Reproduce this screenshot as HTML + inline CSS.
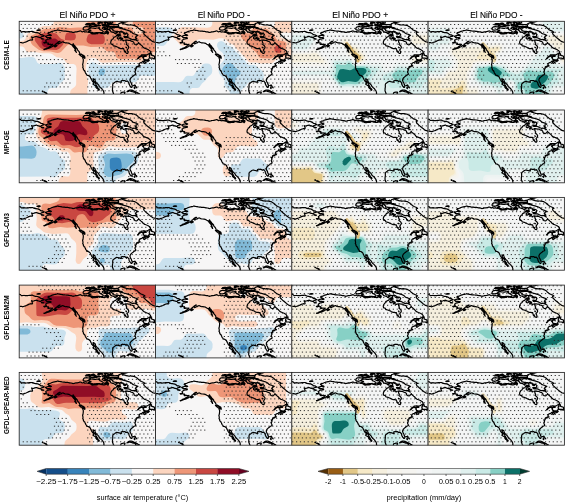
<!DOCTYPE html>
<html><head><meta charset="utf-8"><style>
html,body{margin:0;padding:0;background:#fff;width:567px;height:504px;overflow:hidden}
svg text{font-family:"Liberation Sans",sans-serif;fill:#000}
svg{will-change:transform}
</style></head><body>
<svg width="567" height="504" viewBox="0 0 567 504" style="position:absolute;left:0;top:0">
<defs>
<clipPath id="pc"><rect x="0" y="0" width="136.3" height="72.8"/></clipPath>
<g id="coast"><path d="M26.2 15.0 26.7 14.8 27.3 14.7 28.1 14.3 28.7 14.1 29.2 14.0 29.7 13.9 30.1 13.9 30.7 14.3 31.4 14.4 32.2 14.0 31.8 13.8 31.5 13.5 31.0 13.4 30.5 13.3 30.2 13.0 29.8 12.7 29.4 12.5 29.0 12.2 28.7 12.0 29.3 11.3 29.8 11.2 30.3 11.2 30.8 11.1 31.3 10.8 31.8 10.6 32.3 10.3 32.8 10.1 33.3 10.0 33.8 9.8 34.2 9.7 34.7 9.6 35.1 9.4 35.6 9.4 36.0 9.3 36.5 9.2 36.9 9.2 37.6 8.9 38.2 8.6 38.6 8.7 39.0 8.8 39.4 8.9 39.8 9.0 40.2 9.1 40.6 9.1 41.0 9.2 41.4 9.2 41.8 9.2 42.2 9.4 42.6 9.5 42.9 9.6 43.3 9.6 43.7 9.7 44.1 9.7 44.6 9.8 45.0 9.8 45.4 9.8 45.8 9.9 46.2 9.9 46.6 9.9 47.0 9.9 47.4 10.0 47.8 10.0 48.2 10.0 48.6 10.0 49.0 10.1 49.4 10.2 49.8 10.3 50.2 10.4 50.6 10.5 51.0 10.5 51.4 10.6 51.9 10.6 52.3 10.6 52.7 10.8 53.1 10.9 53.5 11.1 53.9 11.2 54.3 11.1 54.7 11.0 55.2 10.9 55.6 10.8 56.0 10.6 56.5 10.5 56.9 10.5 57.3 10.5 57.7 10.5 58.1 10.4 58.6 10.3 59.0 10.2 59.4 10.1 59.9 10.0 60.3 9.8 60.7 9.7 61.1 9.6 61.5 9.7 61.9 9.9 62.3 10.1 62.7 10.4 63.1 10.6 63.6 10.4 64.0 10.2 64.4 10.0 64.8 10.2 65.2 10.5 65.6 10.8 66.1 10.7 66.5 10.6 66.9 10.6 67.3 10.5 67.7 10.6 68.2 10.7 68.6 10.8 69.0 10.9 69.4 11.0 69.8 11.1 70.3 11.1 70.7 11.2 71.1 11.3 71.5 11.7 72.0 12.0 72.4 12.4 72.8 12.5 73.3 12.5 73.7 12.6 74.1 12.6 74.5 12.6 75.0 12.6 75.4 12.5 75.8 12.5 76.2 12.5 76.7 12.4 77.1 12.4 77.5 12.4 77.9 12.3 78.4 12.3 78.7 11.9 79.1 11.5 79.5 11.6 80.0 11.6 80.4 11.7 80.8 11.7 81.3 11.9 81.7 12.0 82.1 12.1 82.6 12.2 83.0 12.2 83.5 12.3 83.9 12.4 84.3 12.4 84.8 12.5 85.2 12.5 85.6 12.3 86.0 12.2 86.4 12.0 86.8 11.9 87.2 11.8 87.6 11.7 88.1 12.2 88.7 12.7 89.1 12.2 89.3 11.6 89.5 11.0 89.0 10.5 88.5 10.1 88.0 9.6 87.4 9.0 87.8 8.6 88.1 8.3 88.6 8.2 89.0 8.1 89.6 8.4 90.2 8.7 90.8 9.2 91.3 9.7 91.9 10.5 92.4 10.6 92.8 10.8 93.3 10.9 93.7 11.0 94.2 11.2 94.7 11.3 95.1 11.5 95.8 12.2 96.3 12.5 96.8 12.7 96.8 12.2 96.9 11.7 96.9 11.2 97.0 10.6 97.4 10.5 97.7 10.4 98.1 10.2 98.5 10.3 99.0 10.3 99.4 10.4 99.8 10.4 100.3 11.0 100.8 11.6 100.8 12.3 100.7 13.0 101.4 13.9 101.0 14.0 100.6 14.1 100.2 14.2 99.8 14.3 99.4 14.3 98.9 14.2 98.4 14.1 98.0 14.1 97.5 14.0 97.2 14.4 96.8 14.9 96.3 15.4 95.9 15.5 95.4 15.7 95.0 16.0 94.6 16.2 94.3 16.5 94.0 17.4 93.6 17.7 93.2 17.9 92.8 18.1 92.5 18.7 92.2 19.2 91.9 19.7 91.7 20.1 91.6 20.8 91.5 21.6 91.7 22.2 91.9 22.8 92.5 22.9 93.2 23.0 93.6 23.5 93.9 24.0 94.3 24.5 94.9 24.6 95.5 24.8 96.1 24.9 96.6 25.1 97.1 25.3 97.6 25.5 98.2 25.7 98.7 26.0 99.3 26.4 99.8 26.6 100.3 26.8 100.8 27.1 101.4 27.3 101.9 27.3 102.4 27.3 102.9 27.3 103.5 27.4 104.0 27.4 104.5 27.4 104.7 28.1 105.0 28.9 105.1 29.5 105.2 30.1 106.1 30.7 106.7 31.4 107.4 32.1 108.3 32.2 108.8 31.5 108.8 30.9 108.7 30.2 108.3 29.4 107.9 28.6 108.3 28.2 108.6 27.7 109.0 27.3 109.3 26.6 109.6 25.9 109.3 25.3 109.0 24.7 108.5 24.2 107.9 23.6 107.1 23.0 107.4 22.5 107.6 21.9 107.2 21.3 106.8 20.6 106.8 19.7 106.0 18.7 106.4 18.7 106.9 18.7 107.4 18.7 107.9 18.8 108.3 18.8 108.8 18.9 109.3 19.0 109.7 19.0 110.2 19.0 110.7 19.1 111.2 19.3 111.7 19.6 112.3 19.9 112.8 20.1 113.3 20.2 113.9 20.4 114.7 21.3 114.8 21.9 114.9 22.5 115.9 23.2 116.5 23.4 117.1 23.6 117.6 23.3 118.1 23.0 118.4 22.7 118.7 22.4 118.9 22.0 119.2 21.6 119.4 21.2 119.9 22.2 120.6 22.7 121.3 23.2 121.8 23.7 122.3 24.1 122.9 24.6 123.4 25.2 123.9 25.9 124.6 26.4 125.3 26.9 126.0 27.1 126.8 27.4 127.4 27.6 128.0 27.9 128.6 28.1 129.2 28.5 129.8 28.9 130.4 29.2 130.9 29.9 131.4 30.6 131.2 31.2 130.9 31.9 130.2 32.1 129.8 32.4 129.4 32.6 129.0 32.9 128.6 33.1 128.2 33.3 127.7 33.5 127.3 33.6 126.8 33.6 126.3 33.6 125.8 33.6 125.2 33.5 124.7 33.5 124.2 33.5 123.8 33.6 123.3 33.6 122.8 33.6 122.3 33.6 122.0 34.0 121.6 34.4 121.3 34.8 120.7 35.0 120.1 35.3 119.7 35.8 119.3 36.3 119.0 36.7 118.6 37.1 118.3 37.6 118.7 37.4 119.2 37.2 119.5 36.8 119.8 36.4 120.1 36.0 120.6 35.7 121.2 35.4 121.7 35.0 122.2 35.0 122.7 34.9 123.2 34.9 123.8 35.1 124.5 35.3 124.4 36.3 123.5 36.4 124.4 36.9 124.6 37.7 125.1 38.6 125.8 38.8 126.4 39.1 126.9 39.1 127.4 39.2 128.0 39.2 128.9 39.5 128.9 38.7 129.2 37.8 129.9 38.7 130.1 39.1 129.6 39.5 129.2 39.9 128.7 40.0 128.2 40.2 127.8 40.4 127.3 40.6 126.8 40.9 126.4 41.2 126.0 41.5 125.6 41.9 125.1 42.2 124.3 41.4 124.6 40.9 124.9 40.4 125.7 39.9 126.3 39.7 125.7 39.6 125.2 39.5 124.3 39.9 123.8 40.0 123.3 40.1 123.0 40.8 122.4 41.0 121.7 41.2 121.3 41.4 120.8 41.7 120.2 42.1 119.9 43.0 120.1 43.3 119.7 43.7 120.4 44.4 120.9 44.4 121.0 44.6 120.4 44.8 119.5 44.8 119.0 44.9 118.4 45.0 117.9 45.3 117.4 45.5 117.0 46.1 117.2 46.7 116.8 47.6 116.5 48.1 115.7 47.4 116.3 48.5 116.4 49.3 116.0 50.0 115.7 50.6 116.1 51.5 116.5 52.4 116.6 53.0 116.1 53.3 115.6 53.6 115.1 53.8 114.6 54.0 114.1 54.7 113.6 55.0 113.1 55.3 112.6 55.8 112.1 56.2 111.4 57.0 110.9 58.0 110.8 59.2 111.3 60.4 111.7 61.1 112.1 61.8 112.4 63.0 113.0 64.1 113.0 65.2 112.7 66.0 112.0 66.1 111.6 65.5 111.0 65.0 110.6 64.2 110.0 63.1 109.8 62.4 109.7 61.3 109.2 60.9 108.8 60.4 108.5 59.9 107.8 59.7 107.0 60.1 106.6 60.1 106.1 59.5 105.3 59.2 104.7 59.3 104.2 59.4 103.6 59.2 103.1 59.2 102.5 59.4 102.0 59.5 102.0 60.4 102.4 60.9 101.7 60.7 101.0 60.9 100.0 60.5 98.9 60.3 98.3 60.1 97.6 60.0 96.9 60.3 96.3 60.5 95.4 61.3 94.9 61.6 94.4 62.0 93.7 62.6 93.5 63.7 93.5 64.3 93.6 65.0 93.5 66.0 93.3 67.1 93.3 68.0 93.2 68.9 93.3 69.8 93.8 71.0 94.0 71.8 94.5 72.8 95.0 73.5M100.6 74.1 101.5 73.3 101.6 72.7 101.7 72.0 101.8 71.4 102.7 71.1 103.3 71.0 103.8 70.8 104.4 70.8 105.0 70.8 105.5 70.7 105.8 71.4 105.4 72.1 105.1 72.9 104.9 73.7M85.2 73.5 84.9 72.9 84.6 72.3 84.8 71.8 84.6 70.8 84.3 69.8 83.9 69.2 83.5 68.6 83.0 68.0 82.6 67.4 82.1 67.0 81.7 66.5 81.1 66.1 80.6 65.6 80.0 65.0 79.8 64.4 79.5 63.8 78.7 62.9 78.2 62.5 77.7 62.0 77.3 61.6 76.6 60.7 76.1 59.5 75.7 58.4 74.8 57.8 73.9 57.4 74.0 58.4 74.4 59.6 74.8 60.1 75.3 60.7 75.7 61.2 76.1 61.7 76.4 62.3 76.6 62.9 77.2 63.9 77.8 65.0 78.2 65.7 78.6 66.5 79.1 67.3 79.8 67.6 80.1 68.5 79.6 69.0 79.1 68.2 78.3 67.4 77.5 66.9 77.0 66.3 76.9 65.2 76.2 64.3 75.4 63.9 74.5 63.3 73.7 62.7 74.6 62.1 74.5 61.2 74.0 60.7 73.5 60.3 72.8 59.2 72.2 58.2 71.8 57.3 71.3 56.5 71.1 55.7 70.5 55.0 69.9 54.8 69.8 54.5 68.9 54.1 68.3 54.0 67.6 53.9 67.4 53.0 66.6 52.2 66.1 51.1 66.0 50.6 65.5 49.8 65.5 49.4 64.9 49.3 64.6 48.7 64.2 48.1 64.1 47.0 63.5 46.2 63.8 45.4 63.7 44.4 63.6 43.7 63.4 43.1 63.8 41.9 63.9 41.1 64.0 40.3 64.1 39.5 64.1 38.7 64.0 37.7 63.7 37.1 63.5 36.5 63.4 35.9 64.2 36.2 65.0 36.3 65.3 36.4 65.6 37.1 65.7 36.0 65.4 35.1 64.9 34.5 64.2 34.0 63.7 33.8 63.2 33.5 62.6 33.1 61.7 32.7 60.8 32.6 60.5 31.9 60.2 31.0 59.7 30.1 59.2 29.6 58.8 29.1 58.2 28.5 58.1 27.6 57.6 27.0 57.0 26.3 56.4 25.7 55.9 24.9 55.3 24.2 54.6 23.6 54.3 23.0 54.0 22.4 53.7 23.2 52.9 23.6 52.6 23.7 51.8 23.2 51.3 22.9 50.9 22.6 50.4 22.3 49.9 22.0 49.4 21.9 48.9 21.8 48.3 21.7 47.6 21.6 47.2 21.6 46.7 21.6 46.2 21.6 45.7 21.4 45.3 21.2 44.5 21.0 43.9 20.5 43.4 20.6 42.9 20.7 42.2 21.0 41.7 21.6 41.0 21.6 40.5 21.9 40.0 22.3 39.5 22.4 39.0 22.5 38.6 22.0 39.2 21.0 39.7 20.7 40.3 20.4 41.0 20.0 40.1 20.0 39.6 20.3 39.1 20.6 38.3 21.3 37.6 22.0 36.7 22.6 36.2 23.2 35.3 23.9 34.7 24.2 34.2 24.5 33.7 24.8 33.2 25.2 32.6 25.5 31.9 25.8 31.0 26.4 30.4 26.6 29.8 26.8 29.1 27.0 28.5 27.1 28.0 27.4 27.4 27.6 26.8 27.8 26.2 28.0 25.6 28.2 24.9 28.4 24.7 28.1 25.4 27.9 26.1 27.6 26.9 27.1 27.6 26.7 28.3 26.5 28.9 26.3 29.5 26.0 30.0 25.7 30.7 25.2 31.3 24.8 31.8 24.5 32.3 24.2 33.0 23.6 33.5 23.0 33.0 23.1 32.5 23.2 31.8 23.1 31.2 22.9 30.4 23.0 29.6 23.2 29.1 23.2 28.7 23.2 29.3 22.3 29.0 21.6 28.4 21.7 27.9 21.8 27.3 21.3 26.6 21.0 27.1 20.1 26.6 19.7 26.6 19.0 27.5 18.5 28.0 17.9 28.5 17.8 28.9 17.8 29.4 17.7 29.9 17.6 30.4 17.4 31.0 17.4 31.6 17.4 31.9 16.9 31.6 16.4 31.1 16.4 30.6 16.4 30.2 16.3 29.8 16.2 29.1 16.2 28.5 16.3 27.9 16.2 27.4 16.2 27.1 15.6 26.6 15.3 26.2 15.0M102.6 1.7 103.1 1.9 103.7 2.2 104.1 2.3 104.5 2.4 105.0 2.5 105.4 2.7 105.9 2.8 106.4 3.0 106.9 3.2 107.3 3.3 107.8 3.4 108.2 3.5 108.6 3.5 109.1 3.6 109.5 3.7 109.9 3.7 110.2 3.7 110.6 3.7 111.0 3.6 111.4 3.6 111.7 3.6 112.2 3.7 112.6 3.7 113.0 3.8 113.4 3.8 113.8 3.9 114.3 4.0 114.8 4.1 115.2 4.2 115.7 4.3 116.3 4.7 117.0 5.1 117.7 5.5 118.3 5.9 118.7 6.4 119.1 6.9 119.7 7.3 120.3 7.7 120.8 8.2 121.3 8.7 121.9 8.9 122.4 9.1 123.0 9.3 123.5 9.6 124.1 9.8 124.7 10.1 125.2 10.5 125.8 10.9 125.4 11.0 124.9 11.1 124.5 11.2 124.5 12.0 124.8 12.6 125.0 13.2 125.6 13.7 126.2 14.2 127.1 15.1 127.7 15.6 128.3 16.2 129.0 16.7 129.6 17.2 130.2 17.7 130.9 18.3 131.6 18.8 132.3 19.4 133.1 19.9 133.8 20.4 134.5 20.6 135.1 20.7 135.7 20.9 136.3 21.1 136.8 21.3 137.4 21.5 138.0 21.6 138.6 21.8M102.6 1.7 102.9 1.5 103.2 1.4 103.5 1.3 103.8 1.2 104.1 1.2 104.4 1.1 104.8 1.0 105.1 1.0 105.4 0.9 105.7 0.8 106.1 0.8 106.4 0.7 106.7 0.7 107.0 0.6 107.3 0.5 107.6 0.4 107.9 0.3 108.2 0.2 108.4 0.0 108.7 -0.1 108.9 -0.3M-6.5 7.9 -6.1 8.0 -5.8 8.1 -5.4 8.1 -5.1 8.2 -4.7 8.3 -4.4 8.3 -4.0 8.4 -3.7 8.5 -3.3 8.5 -2.9 8.6 -2.6 8.6 -2.2 8.7 -1.8 8.7 -1.5 8.8 -1.1 8.9 -0.7 8.9 -0.4 9.0 -0.1 9.1 0.3 9.2 0.6 9.3 1.0 9.4 1.3 9.4 1.5 9.7 1.7 10.0 2.0 10.3 2.2 10.5 2.6 10.5 3.1 10.5 3.5 10.4 4.0 10.4 4.4 10.4 4.8 10.3 5.2 10.4 5.6 10.4 6.0 10.5 6.3 10.6 6.7 10.6 7.2 10.6 7.6 10.6 8.0 10.5 8.5 10.5 8.9 10.4 9.4 10.4 9.8 10.3 10.3 10.3 10.7 10.3 11.2 10.2 11.6 10.2 12.0 10.2 12.4 10.1 12.9 10.1 13.3 10.1 13.6 10.3 14.0 10.4 14.3 10.6 14.6 10.7 14.9 10.9 15.3 11.0 15.7 11.1 16.0 11.2 16.4 11.3 16.8 11.3 17.2 11.3 17.6 11.4 18.0 11.4 18.4 11.4 18.8 11.6 19.1 11.7 19.5 11.8 19.8 12.0 20.2 12.2 20.5 12.4 20.8 12.6 21.1 12.9 21.4 13.1 21.7 13.4 22.1 13.5 22.6 13.5 23.0 13.5 23.4 13.5 23.7 13.8 24.0 14.1 24.5 14.3 25.0 14.4 24.1 15.0 23.6 15.1 23.1 15.2 22.6 15.4 22.1 15.5 21.5 16.3 20.9 16.4 20.5 16.2 20.1 16.1 19.7 15.9 19.3 15.9 18.9 15.8 18.5 15.7 18.2 15.5 17.8 15.3 17.5 15.1 17.0 15.2 16.5 15.3 16.0 15.4 15.5 15.5 15.0 15.7 14.4 15.9 14.0 16.0 13.5 16.0 13.1 16.0 12.7 15.8 12.4 15.6 12.6 16.1 12.8 16.6 13.0 17.1 13.2 17.6 13.4 18.0 13.1 18.8 12.7 18.8 12.3 18.7 11.8 18.6 11.3 18.7 10.8 18.9 10.2 19.0 9.7 19.2 9.1 19.5 8.5 19.8 7.9 20.1 7.3 20.4 6.8 20.6 6.2 20.8 5.6 21.0 5.0 21.2 4.4 21.4 3.7 21.7 3.2 21.6 2.7 21.4 2.2 21.3 1.8 21.3 1.4 21.2 0.9 21.2M37.8 24.5 37.3 24.1 36.8 23.9 36.2 24.2 35.5 24.6 35.2 25.2 35.8 25.6 36.8 25.1 37.3 24.8 37.8 24.5ZM26.4 21.2 26.0 21.1 25.6 21.1 25.1 21.2 24.6 21.3 25.1 21.8 25.6 21.7 26.1 21.6 26.4 21.2ZM24.6 17.7 24.1 17.6 23.5 17.4 23.1 17.4 22.6 17.3 22.1 17.2 22.4 17.7 22.8 17.7 23.3 17.8 23.8 17.9 24.6 17.7ZM64.7 35.9 64.1 35.8 63.6 35.7 63.1 35.5 62.6 35.3 62.1 35.0 61.6 34.6 61.2 34.2 60.7 33.8 60.3 33.4 59.9 33.1 60.7 32.9 61.3 33.1 61.8 33.3 62.4 33.5 62.9 33.8 63.6 34.4 64.1 34.8 64.6 35.3 64.7 35.9ZM57.2 31.1 56.6 30.4 56.1 29.6 55.5 28.8 56.0 28.8 56.5 28.9 56.7 29.7 56.9 30.4 57.2 31.1ZM56.5 27.9 56.0 27.5 55.4 27.1 55.0 26.4 54.3 25.8 53.9 25.3 53.5 24.8 53.1 24.0 53.6 24.0 54.0 24.0 54.5 24.5 54.9 24.9 55.3 25.4 55.8 25.8 56.2 26.7 56.4 27.3 56.5 27.9ZM23.1 69.9 23.7 69.9 23.7 70.3 23.2 70.3 23.1 69.9ZM24.8 70.8 25.5 70.6 25.5 71.1 25.0 71.1 24.8 70.8ZM25.9 71.2 26.6 71.2 26.5 71.4 25.9 71.4 25.9 71.2ZM26.5 71.6 27.3 71.5 27.4 71.9 26.8 72.0 26.5 71.6ZM27.4 72.5 28.3 72.9 28.6 73.5 28.0 73.7 27.3 74.0 27.4 73.2 27.4 72.5ZM75.3 2.3 74.9 2.4 74.5 2.4 74.2 2.4 73.8 2.5 73.4 2.5 73.0 2.5 72.6 2.3 72.3 2.1 72.6 2.1 73.0 2.0 73.4 1.9 73.7 1.9 74.1 1.8 74.5 1.7 74.9 2.0 75.3 2.3ZM80.5 2.3 80.1 2.4 79.8 2.5 79.4 2.5 79.1 2.6 78.6 2.1 79.0 2.1 79.3 2.0 79.7 2.0 80.1 1.9 80.5 2.3ZM82.0 0.9 81.7 1.0 81.3 1.0 81.0 1.1 80.6 1.1 80.3 1.2 79.9 1.2 79.6 1.3 79.1 1.0 78.7 0.7 79.1 0.7 79.4 0.6 79.8 0.6 80.1 0.6 80.5 0.5 80.8 0.5 81.2 0.4 81.6 0.7 82.0 0.9ZM76.9 3.4 76.5 3.4 76.2 3.5 75.8 3.5 75.4 3.6 75.0 3.6 74.6 3.1 75.0 3.1 75.4 3.1 75.7 3.1 76.1 3.0 76.5 3.0 76.9 3.4ZM86.6 2.8 86.3 2.9 85.9 2.9 85.6 3.0 85.8 2.5 86.2 2.7 86.6 2.8ZM90.5 2.9 90.1 2.9 89.7 2.9 89.3 3.0 89.0 3.0 88.6 3.0 88.2 3.0 87.8 3.0 88.1 2.7 88.4 2.4 88.8 2.5 89.2 2.6 89.6 2.7 90.0 2.8 90.5 2.9ZM87.4 4.2 87.0 4.2 86.6 4.1 86.2 4.1 85.9 4.1 85.5 4.0 85.8 3.8 86.1 3.6 86.4 3.4 86.9 3.8 87.4 4.2ZM81.3 4.2 80.9 4.3 80.5 4.5 80.2 4.6 79.7 3.9 80.1 4.0 80.5 4.1 80.9 4.1 81.3 4.2ZM80.6 6.9 80.1 6.8 79.7 6.8 79.3 6.7 78.9 6.7 79.3 6.5 79.7 6.4 80.1 6.3 80.6 6.9ZM96.5 11.7 96.8 11.4 97.1 11.0 97.4 10.6 98.1 11.4 97.7 11.5 97.3 11.6 96.9 11.7 96.5 11.7ZM103.0 11.0 102.5 10.8 102.0 10.6 101.5 10.5 101.1 10.3 101.4 10.1 101.8 10.0 102.1 9.8 102.5 10.4 103.0 11.0ZM100.9 13.6 100.5 13.8 100.1 13.9 99.7 14.0 99.3 14.1 98.9 14.2 98.5 13.7 98.2 13.2 98.6 13.1 99.0 13.0 99.4 12.9 99.8 12.9 100.3 13.3 100.9 13.6ZM106.6 12.9 106.2 12.9 105.8 12.9 105.3 12.9 104.9 12.9 104.2 12.1 104.6 12.1 105.0 12.0 105.5 12.0 105.9 12.0 106.6 12.9ZM86.3 7.6 85.9 7.7 85.6 7.8 85.2 7.9 85.4 7.1 85.9 7.4 86.3 7.6ZM91.1 9.0 90.7 8.8 90.2 8.7 89.8 8.5 90.1 8.2 90.4 7.9 90.8 8.5 91.1 9.0ZM75.0 12.4 74.5 12.5 74.1 12.6 73.7 12.7 73.3 12.7 72.8 12.1 73.2 12.0 73.7 12.0 74.1 11.9 74.5 11.9 75.0 12.4ZM78.7 12.0 78.3 12.1 77.9 12.1 77.5 12.2 77.1 12.3 77.4 11.6 77.9 11.7 78.3 11.9 78.7 12.0ZM17.8 9.0 18.5 8.7 19.2 8.5 19.6 8.5 20.0 8.5 20.4 8.5 20.7 8.6 21.1 8.8 20.6 8.9 20.1 9.0 19.6 9.1 19.2 9.1 18.7 9.1 18.3 9.0 17.8 9.0ZM107.8 70.4 108.3 70.0 108.9 69.5 109.4 69.2 110.0 68.9 110.6 68.7 111.4 68.7 112.2 68.8 112.8 68.9 113.4 69.0 113.9 69.3 114.5 69.5 115.2 69.9 115.9 70.2 116.9 70.7 117.6 71.0 118.3 71.4 118.9 71.8 119.6 72.1 120.3 72.5 119.8 72.8 119.3 72.9 118.7 72.9 118.1 72.9 117.5 73.0 116.8 73.0 116.2 73.0 116.7 71.9 116.2 71.5 115.7 71.2 115.2 70.8 114.6 70.8 114.0 70.7 113.4 70.5 112.8 70.3 112.1 70.1 111.4 69.9 110.8 69.7 110.2 69.4 109.7 69.8 109.2 70.2 108.5 70.3 107.8 70.4ZM115.5 67.3 115.8 66.7 115.2 66.0 115.0 66.8 115.5 67.3ZM114.2 64.2 114.8 64.1 115.3 64.1 115.0 64.3 114.2 64.2ZM116.2 65.0 116.2 64.2 115.6 63.7 115.9 64.4 116.2 65.0ZM116.8 65.7 117.6 66.5 117.3 65.6 116.8 65.7ZM130.0 36.9 130.2 36.4 130.5 35.8 130.0 35.0 130.2 34.4 130.4 33.8 130.8 33.0 131.2 32.6 131.6 32.2 131.9 31.9 132.5 32.9 132.2 33.8 133.0 34.1 133.5 34.3 134.1 34.4 134.7 34.6 135.3 34.9 135.4 35.8 136.0 36.4 136.7 36.9 136.7 38.1 135.8 37.7 135.2 36.7 134.9 37.2 134.7 37.7 133.6 36.9 132.9 36.9 132.3 36.9 131.6 36.9 131.0 36.9 130.5 36.9 130.0 36.9ZM124.5 34.9 125.0 34.8 125.5 34.8 126.1 34.7 126.6 34.6 127.0 35.0 126.4 35.1 125.8 35.1 125.2 35.1 124.5 34.9ZM125.6 38.2 126.2 38.4 126.8 38.6 127.3 38.5 127.8 38.5 127.3 38.6 126.8 38.7 126.3 38.8 125.6 38.2ZM117.0 45.9 117.5 45.8 118.0 45.7 118.6 45.6 119.1 45.5 119.1 45.3 118.6 45.3 118.0 45.4 117.5 45.4 117.0 45.9ZM103.6 17.2 103.1 17.0 102.6 16.8 102.1 16.6 101.4 16.2 100.7 15.8 100.2 15.7 99.6 15.6 99.1 15.5 98.6 15.7 98.1 15.9 98.1 16.5 98.1 17.1 98.6 17.4 99.1 17.8 99.5 17.6 99.9 17.4 100.2 17.2 100.6 17.0 101.0 16.9 101.5 17.0 102.0 17.2 102.5 17.3 103.0 17.3 103.6 17.2ZM103.3 18.5 102.8 18.6 102.3 18.7 101.8 18.7 101.3 18.8 101.7 18.5 102.0 18.3 102.6 18.4 103.3 18.5ZM104.9 19.3 104.5 19.4 104.0 19.5 104.3 19.0 104.9 19.3ZM107.3 26.2 106.6 25.9 107.1 26.4 107.3 26.2ZM106.5 30.1 105.6 29.9 106.1 30.4 106.5 30.1ZM118.4 19.7 117.5 19.2 116.9 18.9 116.4 18.6 115.8 18.4 115.3 18.2 114.8 18.0 114.4 18.3 114.0 18.3 113.5 18.3 113.1 18.3 112.5 18.0 112.0 17.8 111.5 17.6 110.9 17.2 110.3 16.9 109.8 16.7 109.3 16.5 108.8 16.4 108.4 16.4 107.9 16.4 107.5 16.4 106.9 16.4 106.4 16.5 105.8 16.3 105.2 16.2 104.7 15.1 105.5 15.1 106.0 15.2 106.6 15.3 107.1 15.4 107.5 15.3 107.9 15.2 108.3 15.1 108.4 14.6 108.4 14.0 108.6 13.6 108.9 13.2 108.4 12.7 107.8 12.2 107.4 12.1 106.9 12.0 106.5 12.0 105.9 11.8 105.4 11.6 104.8 11.4 104.2 11.0 103.7 10.6 103.2 10.5 102.7 10.3 102.2 10.1 101.8 10.2 101.5 10.3 101.1 10.4 100.7 10.4 100.3 10.5 99.8 10.4 99.4 10.3 98.9 10.2 98.5 10.1 98.0 10.1 97.5 10.0 97.0 10.0 96.5 10.0 96.0 9.9 95.6 9.8 95.1 9.8 94.6 9.6 94.1 9.4 93.7 9.2 93.9 8.5 93.3 8.1 92.8 7.8 92.3 7.4 92.5 7.0 92.7 6.6 93.1 6.6 93.6 6.6 94.0 6.6 94.4 6.6 94.9 6.6 95.2 6.4 95.6 6.3 95.9 6.2 96.3 6.2 96.7 6.2 97.1 6.2 97.5 6.2 97.9 6.2 98.3 6.2 98.7 6.2 99.1 6.2 99.5 6.2 100.0 6.5 100.5 6.8 101.1 7.1 101.5 7.2 101.9 7.3 102.4 7.3 102.8 7.4 103.3 7.5 103.7 7.7 104.2 7.8 104.6 7.9 105.1 8.1 105.5 8.2 106.0 8.3 106.5 8.4 106.9 8.5 107.4 8.7 107.9 8.8 108.4 9.0 108.9 9.1 109.3 9.3 109.8 9.4 110.3 9.6 110.8 9.8 111.4 10.1 112.0 10.5 112.6 10.9 113.0 11.4 113.5 12.0 114.0 12.2 114.5 12.4 115.0 12.6 115.6 12.7 116.1 12.9 116.6 13.1 117.1 13.3 117.6 13.5 118.2 13.8 118.7 14.0 118.4 14.2 118.0 14.4 117.7 14.6 117.4 14.7 117.0 14.9 116.7 15.1 116.9 15.7 116.6 15.9 116.2 16.2 117.2 17.0 117.8 17.7 117.3 17.7 116.9 17.7 116.4 17.7 116.8 18.6 117.4 19.0 117.9 19.3 118.4 19.7ZM103.4 6.9 103.0 6.9 102.6 7.0 102.2 7.0 101.9 7.1 101.4 7.0 100.9 6.8 100.5 6.7 100.0 6.5 99.6 6.4 99.9 6.2 100.2 6.1 100.6 6.1 101.1 6.2 101.5 6.2 101.9 6.3 102.4 6.5 102.9 6.7 103.4 6.9ZM83.7 11.3 83.3 11.3 82.9 11.3 82.5 11.4 82.0 11.4 81.6 11.4 81.2 11.4 80.8 11.4 80.4 11.3 79.9 11.3 79.5 11.3 79.1 11.2 78.7 11.2 78.2 11.2 77.8 11.3 77.4 11.3 77.0 11.4 76.6 11.4 76.2 11.5 75.7 11.5 75.3 11.5 74.9 11.6 74.5 11.6 74.1 11.6 73.6 11.5 73.2 11.3 72.8 11.1 72.3 11.0 71.8 10.8 71.3 10.7 70.8 10.5 70.3 10.4 69.9 10.2 69.4 10.0 69.8 9.8 70.2 9.6 70.6 9.4 71.0 9.3 71.4 9.2 71.8 9.0 71.4 8.9 71.0 8.9 70.6 8.8 70.2 8.7 69.7 8.4 69.1 8.2 69.5 7.7 69.9 7.3 70.4 7.2 70.8 7.0 71.3 6.9 71.7 6.7 72.1 6.6 72.5 6.6 72.9 6.7 73.3 6.7 73.7 6.8 74.1 6.8 74.6 6.9 75.0 6.9 75.4 7.0 75.8 7.0 76.2 7.1 76.6 7.0 76.9 6.8 77.3 6.7 77.7 6.7 78.1 6.7 78.5 6.7 78.9 6.8 79.4 7.0 79.8 7.1 80.3 7.7 80.8 8.3 81.2 8.5 81.6 8.6 82.1 8.8 82.5 9.0 83.0 9.3 83.4 9.6 83.9 9.9 84.1 10.5 83.7 11.3ZM68.2 8.5 67.7 8.6 67.3 8.7 66.9 8.8 66.5 8.9 66.0 8.8 65.6 8.8 65.1 8.7 64.7 8.4 64.3 8.2 63.9 7.9 64.0 7.3 64.2 6.7 64.7 6.1 65.4 5.5 65.8 5.5 66.2 5.5 66.6 5.4 67.0 5.4 67.4 5.3 67.8 5.4 68.2 5.4 68.5 5.5 68.9 5.5 69.3 5.6 69.7 5.6 70.1 5.8 70.5 5.9 70.9 6.1 71.3 6.2 71.7 6.4 71.3 6.6 70.9 6.8 70.6 7.0 70.2 7.2 69.7 7.5 69.2 7.8 68.7 8.2 68.2 8.5ZM80.1 4.4 79.8 4.5 79.4 4.5 79.0 4.6 78.6 4.6 78.3 4.7 77.9 4.8 77.5 4.9 77.1 5.0 76.7 5.0 76.4 5.1 76.0 5.1 75.6 5.2 75.2 5.2 74.8 5.2 74.4 5.2 74.0 5.2 73.6 5.2 73.2 5.2 72.8 5.2 72.5 5.1 72.1 5.1 71.7 5.0 71.3 4.8 70.9 4.7 70.5 4.6 70.1 4.4 70.5 4.1 70.8 3.7 71.2 3.4 71.6 3.4 72.0 3.5 72.3 3.5 72.7 3.5 73.1 3.6 73.5 3.6 73.9 3.6 74.3 3.7 74.7 3.8 75.1 3.9 75.5 4.0 75.9 4.1 76.2 4.0 76.6 3.9 77.0 3.8 77.4 3.8 77.7 3.8 78.1 3.9 78.5 3.9 78.9 3.9 79.3 4.1 79.7 4.2 80.1 4.4ZM71.5 2.5 71.2 2.7 70.8 2.9 70.4 3.1 70.1 3.3 69.7 3.4 69.3 3.4 68.9 3.5 68.5 3.5 68.2 3.6 67.8 3.6 67.4 3.5 67.0 3.5 66.6 3.4 66.2 3.4 66.6 3.1 67.0 2.7 67.4 2.4 67.8 2.4 68.2 2.4 68.5 2.3 68.9 2.3 69.3 2.3 69.6 2.2 70.0 2.3 70.4 2.3 70.8 2.4 71.2 2.5 71.5 2.5ZM86.8 8.2 86.5 8.2 86.1 8.3 85.7 8.4 85.2 8.2 84.8 8.0 84.3 7.8 83.9 7.6 83.4 7.3 83.0 6.9 83.3 6.6 83.6 6.3 84.0 6.1 84.4 6.0 84.8 6.0 85.2 6.0 85.5 6.0 86.0 6.2 86.5 6.4 86.9 6.7 86.9 7.4 86.8 8.2ZM89.6 7.9 89.2 7.7 88.7 7.5 88.3 7.3 87.8 7.1 87.9 6.6 87.9 6.1 88.3 6.0 88.7 5.9 89.1 5.9 89.5 5.8 89.8 5.7 90.3 5.9 90.8 6.0 91.2 6.1 91.7 6.2 91.5 6.5 91.3 6.8 91.0 7.1 90.7 7.3 90.3 7.5 90.0 7.7 89.6 7.9ZM88.4 11.3 87.9 11.2 87.5 11.1 87.0 11.1 86.6 11.0 86.2 10.9 85.8 10.9 85.3 10.9 85.7 10.7 86.1 10.5 86.5 10.4 86.9 10.2 87.4 10.3 87.9 10.4 88.4 10.6 88.8 10.9 88.4 11.3ZM99.5 5.3 99.1 5.3 98.7 5.3 98.3 5.3 97.9 5.3 97.6 5.3 97.2 5.3 96.8 5.3 96.4 5.3 96.0 5.3 95.6 5.3 95.2 5.3 94.8 5.3 94.4 5.3 94.0 5.3 93.6 5.3 93.2 5.3 92.8 5.3 92.4 5.3 92.0 5.2 91.6 5.2 91.2 5.2 90.8 5.2 90.4 5.1 90.0 4.9 89.5 4.6 89.0 4.3 89.3 3.9 89.5 3.5 89.9 3.5 90.3 3.4 90.6 3.4 91.0 3.3 91.3 3.3 91.7 3.2 92.1 3.2 92.5 3.2 92.9 3.3 93.2 3.3 93.6 3.3 94.0 3.3 94.4 3.3 94.8 3.3 95.2 3.4 95.6 3.4 96.0 3.4 96.3 3.4 96.7 3.4 97.1 3.4 97.5 3.5 97.9 3.5 98.3 3.5 98.8 3.8 99.3 4.0 99.4 4.7 99.5 5.3ZM88.9 5.2 88.5 5.2 88.1 5.1 87.7 5.1 87.3 5.0 86.9 5.0 86.5 4.9 86.7 4.2 87.1 4.2 87.4 4.2 87.8 4.2 88.2 4.2 88.6 4.7 88.9 5.2ZM85.7 4.8 85.3 4.7 84.8 4.7 84.4 4.6 84.0 4.5 83.6 4.4 83.2 4.3 82.7 3.5 83.0 3.5 83.4 3.4 83.8 3.4 84.1 3.3 84.5 3.3 84.9 3.2 85.3 3.7 85.6 4.1 85.7 4.8ZM98.9 3.2 98.5 3.2 98.2 3.2 97.8 3.3 97.4 3.3 97.1 3.3 96.7 3.3 96.3 3.4 96.0 3.4 95.6 3.4 95.2 3.5 94.9 3.5 94.5 3.5 94.1 3.5 93.7 3.4 93.3 3.4 92.9 3.4 92.5 3.4 92.1 3.3 91.7 3.3 91.1 2.6 91.4 2.4 91.7 2.2 92.0 2.0 92.3 2.0 92.7 1.9 93.0 1.8 93.4 1.7 93.7 1.7 93.0 0.9 93.1 0.4 93.4 0.1 93.6 -0.1 93.9 -0.3 94.2 -0.3 94.6 -0.3 95.0 -0.3 95.3 -0.3 95.7 -0.3 96.0 -0.3 96.4 -0.3 96.7 -0.3 97.1 -0.3 97.5 -0.3 97.8 -0.3 98.2 -0.3 98.5 -0.2 98.9 -0.2 99.3 -0.2 99.7 -0.1 100.1 -0.1 100.4 -0.1 100.8 -0.1 101.2 -0.0 101.6 0.0 101.9 0.0 102.3 0.1 102.7 0.1 103.2 0.4 103.8 0.6 104.3 0.9 104.0 1.0 103.7 1.0 103.3 1.1 103.0 1.1 102.7 1.2 102.3 1.2 102.0 1.3 101.7 1.5 101.5 1.7 101.2 1.8 100.9 1.9 100.6 2.0 100.2 2.1 99.9 2.2 99.7 2.5 99.5 2.8 99.2 3.0 98.9 3.2ZM90.4 1.7 90.0 1.6 89.6 1.5 89.2 1.5 88.8 1.4 88.4 1.4 88.0 1.1 87.5 0.9 87.1 0.7 86.6 0.4 86.1 0.0 85.6 -0.4 86.0 -0.5 86.3 -0.5 86.6 -0.5 87.0 -0.6 87.3 -0.6 87.7 -0.6 88.0 -0.7 88.4 -0.7 88.8 -0.6 89.2 -0.5 89.6 -0.4 90.0 -0.2 90.4 -0.1 90.8 0.0 91.3 0.4 91.8 0.7 91.5 0.9 91.2 1.1 91.0 1.3 90.7 1.5 90.4 1.7ZM83.4 1.9 83.0 1.9 82.6 1.8 82.2 1.8 81.9 1.7 81.5 1.7 81.1 1.6 80.7 1.6 81.0 1.3 81.3 1.0 81.7 1.1 82.1 1.1 82.5 1.2 82.8 1.2 83.2 1.3 83.4 1.9ZM86.7 1.7 86.3 1.7 85.9 1.6 85.5 1.6 85.1 1.5 84.8 1.5 85.0 1.0 85.4 1.1 85.8 1.1 86.2 1.2 86.5 1.3 86.9 1.4 86.7 1.7Z" fill="none" stroke="#000" stroke-width="1.2" stroke-linejoin="round" stroke-linecap="round"/></g>
<path id="strip" d="M55.0 22.4 55.9 23.6 56.6 24.2 57.2 24.9 57.7 25.7 58.3 26.3 58.9 27.0 59.4 27.6 59.5 28.5 60.1 29.1 61.0 30.1 61.5 31.0 61.8 31.9 62.5 32.6 63.9 33.4 65.1 34.1 66.2 34.9 66.6 35.8 66.8 37.1 66.4 38.3 66.0 39.6" fill="none" stroke-width="3.2" stroke-linecap="round" stroke-linejoin="round"/>
</defs>
<g transform="translate(19.2,21.3)"><g clip-path="url(#pc)">
<rect width="136.3" height="72.8" fill="#f7f6f6"/>
<path fill="#fcd5bf" d="M33.9 -5.7l107.7 .0 .0 42.1-7.1-.2-6.4 1.7-5.3 2.7-2.5 .5-5.7-.3-13.4 .0-17.8 .6-2.5-.8-3.2-2.8-1.4-.8-2.8-.4-2.9 .7-1.4 1.0-1.4 2.1-.7 2.4-.4 3.8 .2 6.1 2.0 6.8-.7 7.6 .0 11.4-17.0 .0-.4-6.1 .5-3.0 1.1-1.5 3.3-2.5 .9-1.3 .4-1.5 .0-7.6 .4-7.6-.4-2.3-.8-1.5-1.9-1.0-4.3 .2-1.4-.3-1.4-1.0-2.8-3.5-1.5-1.2-1.4-.4-4.2-.4-4.0-3.0-1.7-.8-2.1-.2-6.4 .0-8.5-1.5-5.7 .4-1.9-.9-2.2-3.8-1.6-1.0-2.8-.3-5.7 .2 .0-5.6 7.1 .1 2.8-.5 1.6-1.3 1.6-4.5 1.1-1.3 6.5-1.8 5.5-4.0 2.2-1.0 2.1-.4 5.7 .0 2.1-.8 1.2-1.3 .4-1.6-.7-6.8z"/>
<path fill="#ee9677" d="M68.1 -5.7l28.5 .0-.2 7.6 .3 1.5 .9 1.6 1.4 .9 1.5 .3 7.0-.2 5.0 .3 .7 .7 .9 3.2 1.1 1.6 1.6 .9 2.1 .3 2.8-.3 1.8-.9 1.0-1.6 .0-2.2-.9-1.6-1.5-.7-6.7-.1-1.4-.7-.4-2.2 .0-8.4 28.0 .0 .0 36.5-5.7-.4-2.1 .3-1.4 .8-3.6 3.1-7.8 3.0-6.4-.3-13.4 .3-2.2-.3-1.4-.8-.7-1.2-.8-3.1-1.3-1.6-1.4-.5-4.3 .1-1.1-.2-1.0-.6-2.9-3.0-2.8-.9-10.0 .1-7.1-1.5-7.1 .1-5.6-1.0-1.5 .0-1.4 .4-1.3 1.0-5.1 5.7-1.4 .9-2.1 .6-2.1-.3-5.0-1.3-7.8-.3-4.3-1.4-6.0-4.6-1.2-1.5-1.9-4.6 .0-1.5 1.1-1.5 5.2-2.5 7.1-4.0 2.1-.7 7.1-.1 7.1-1.7 10.7 1.0 7.8-.7 4.9 .1 2.2-.3 1.5-1.0 1.0-2.2-.1-8.4z"/>
<path fill="#c94741" d="M50.4 11.0l3.2 .3 1.3 .5 1.0 .7 .7 1.5 .0 2.3-.6 1.5-.9 .8-1.5 .4-2.1 .1-5.7-.5-.1-.8 .3-3.0 .8-2.3 1.1-1.0 2.5-.5zM25.0 11.8l2.3-.4 7.1 .2 1.4 .3 1.5 .6 3.5 4.1 1.4 1.0 2.9 1.2 .2 .5-.3 1.6-1.5 3.0-3.4 3.5-2.8 1.3-11.4-.4-2.1-.4-2.1-1.0-1.6-1.5-3.9-5.3-.6-1.5 .0-1.5 1.0-1.6 2.1-1.5 2.2-1.0 4.1-1.2zM70.8 12.5l9.8-.3 2.8 .7 1.4 1.5 .7 1.9 .1 3.0-.7 2.3-1.5 1.0-2.1 .3-9.2 .0-2.9-.9-1.6-1.9-.3-1.5 .2-1.5 1.1-3.1 .7-.7 1.5-.8z"/>
<path fill="#900d26" d="M31.3 17.8l3.8-.7 1.5 .4 1.4 1.0 1.5 1.6 .6 1.5-.4 1.5-1.0 1.2-1.4 .9-1.5 .5-7.8 .4-2.8-.5-1.5-1.0-.9-1.5-.4-1.5 .0-1.5 .6-1.5 2.2-.7 6.1-.1z"/>
<path fill="#cae1ee" d="M-0.3 11.0l2.8 .2 1.4 .9 .6 1.9-.6 1.9-1.4 1.0-1.4 .2-6.4-.4 .0-5.4 5.0-.3zM7.6 36.0l4.8-.3 2.9 .8 .9 1.0 1.9 3.9 2.1 1.3 2.2 .3 11.3-.3 7.1-1.2 2.1 .9 2.2 2.7 .5 1.5 .1 1.6-.3 3.7 .1 3.8-.4 2.4-1.1 1.4-3.2 2.7-2.1 3.2-1.2 1.0-1.7 .4-4.2-.1-1.4 .5-.8 .7-.9 1.5-.3 1.5 .3 7.6-33.8 .0 .0-41.9 7.8 .0 5.1-.6zM72.0 41.3l1.5-.4 1.4 .2 4.6 2.5 3.9 .5 17.8-.5 19.8 .2 2.9-.4 4.2-1.8 1.5-.2 4.9 .9 7.1-.1 .0 12.3-12.0 .1-5.0-.4-2.1 .1-1.5 .7-.7 .7-2.2 3.8-2.0 1.3-2.2 .2-4.9-.4-7.1 .2-7.1-.3-2.2 .9-3.0 4.2-1.9 1.2-2.9 .2-8.5-.4-1.4-.4-1.2-1.4-.3-1.5-.2-6.0-.8-1.6-2.5-2.8-.7-2.0-.1-2.7 .4-3.1 1.1-2.5 1.4-1.3z"/>
<path fill="#81bad8" d="M82.0 47.4l1.4-.1 1.4 .4 .7 .6 .4 1.4-.2 1.5-.9 1.9-.7 .8-1.4 .6-1.4-.1-.7-.4-.9-1.3-.3-1.5 .5-2.4 .7-.8 1.4-.6z"/>
<g transform="translate(-19.2,-21.3)"><path d="M20.74 24.50H72.70M122.27 24.50H154.71M22.69 28.40H66.85M124.22 28.40H152.76M20.74 32.30H60.99M122.27 32.30H154.71M22.69 36.20H27.80M112.51 36.20H152.76M106.65 40.10H154.71M104.70 44.00H152.76M98.84 47.90H154.71M22.69 51.80H35.61M92.98 51.80H152.76M20.74 55.70H41.46M87.12 55.70H154.71M38.31 59.60H66.85M89.08 59.60H152.76M40.26 63.50H68.80M87.12 63.50H154.71M61.74 67.40H70.75M89.08 67.40H152.76M59.79 71.30H68.80M87.12 71.30H154.71M61.74 75.20H70.75M89.08 75.20H152.76M59.79 79.10H68.80M87.12 79.10H154.71M46.12 83.00H70.75M89.08 83.00H152.76M44.17 86.90H68.80M87.12 86.90H154.71M22.69 90.80H39.51M89.08 90.80H152.76" stroke="#262626" stroke-width="0.95" fill="none" stroke-dasharray="1.2 2.672"/></g>
<use href="#coast"/>
</g>
<rect x="0" y="0" width="136.3" height="72.8" fill="none" stroke="#262626" stroke-width="0.85"/>
</g>
<g transform="translate(155.5,21.3)"><g clip-path="url(#pc)">
<rect width="136.3" height="72.8" fill="#f7f6f6"/>
<path fill="#fcd5bf" d="M56.7 -5.7l45.7 .0-.9 6.1 .2 1.5 1.0 1.5 1.3 .8 1.4 .5 5.7 .1 5.7 1.7 1.5-.8 .9-2.3 .1-9.1 22.3 .0 .0 17.4-6.4 .1-7.1-.5-1.4 .3-1.4 .8-.9 1.6 .5 1.5 1.1 .9 7.8 2.2 2.1 .3 5.7-.4 .0 18.0-6.4-.4-6.4 1.7-6.3-.2-2.2 1.0-2.8 2.7-2.1 .8-5.0-.1-4.3 .5-4.9-1.3-6.4 .1-1.4-.6-.8-.7-2.1-3.0-2.9-2.5-2.8-3.5-3.5-3.2-2.9-3.9-4.5-2.3-4.0-3.7-2.8-.9-3.6 .0-5.6 1.5-4.3-.4-9.9-.2-2.2 .8-1.1 1.4-1.7 2.9-2.1 1.3-9.3 .3-2.1-.6-1.1-.9-2.3-3.0-2.8-2.3-.5-1.5 .2-2.3 .7-1.5 4.4-5.4 1.4-.9 2.1-.4 24.2 .6 2.8-.4 1.6-1.1 .9-2.2-.1-8.4z"/>
<path fill="#ee9677" d="M98.5 6.4l1.2-.2 5.0 1.2 5.0 .0 2.1 .5 6.8 5.4 1.9 3.8 1.2 1.4 1.5 .6 4.9 .8 1.9 1.0 .7 .7 .4 1.5-.9 3.8 .7 4.6-.3 1.5-.5 .7-1.3 1.0-1.4 .3-4.9-.2-2.2 .2-4.2 2.0-1.5 .3-8.5-.4-2.4-.9-2.7-4.5-3.5-3.1-7.7-8.2-2.9-2.4-1.5-2.3 .2-2.2 1.4-1.2 2.1-.3 4.3 .4 1.4-.5 1.2-1.5 1.5-3.0 1.0-.8z"/>
<path fill="#c94741" d="M121.4 23.9l2.5-.5 1.3 .5 .4 .7 .2 5.4-.3 .7-.9 .7-2.9 .0-1.4-.5-.9-.9-.4-1.6 .3-2.2 1.0-1.6 1.1-.7z"/>
<path fill="#cae1ee" d="M-5.3 6.4l.0-.4 16.3 .0 2.8 .2 2.2 .5 .7 .5 .7 1.5-2.1 7.7-.7 1.2-2.6 2.5-2.0 3.0-1.8 1.3-2.2 .2-4.9-.4-6.4 .1 .0-17.9zM63.9 20.1l1.8-.3 1.5 .3 1.3 .8 2.8 3.1 4.3 1.3 1.4 .8 3.0 3.9 2.8 2.2 3.1 3.8 3.2 2.9 2.8 4.1 2.2 .8 4.2 .0 2.3 .6 6.2 5.3 .9 1.5 .5 2.3-.1 3.0-.8 2.3-1.2 1.2-1.4 .6-2.1 .4-6.4-.6-2.1 .3-1.7 1.1-2.8 3.8-3.3 2.3-.6 .7-.7 1.5-.2 1.6 .3 6.8-11.3 .0 .7-6.1-.1-1.5-.9-1.5-3.1-3.0-1.2-1.6-.4-1.5 .2-4.5-.5-1.4-3.5-3.2-1.5-2.3-.6-3.7 .5-3.1 .9-1.5 3.5-3.8 .8-1.5 .2-1.5-.4-2.3-.9-2.3-1.1-1.2-3.2-2.6-1.5-3.0-.2-1.5 .2-1.5 1.0-1.5 1.2-.8zM49.9 42.1l1.6 .0 2.1 .4 1.4 .9 .7 .8 .7 1.7 .4 2.3-.1 2.2-.4 1.5-1.1 1.6-3.0 2.5-2.5 3.5-3.2 2.7-2.8 3.9-2.2 .7-4.9 .0-1.7 1.1-.7 1.5-.2 1.5 .1 7.6-39.4 .0 .0-17.8 23.4-.1 5.0 .3 2.1-.2 2.0-1.2 2.3-3.6 1.0-.9 1.8-.5 4.3 .2 1.4-.5 .7-.7 2.1-3.6 3.6-2.7 2.8-4.0 1.4-.8 1.3-.3z"/>
<path fill="#81bad8" d="M72.0 42.1l1.5-.4 1.4 .1 2.1 .9 3.4 3.9 3.7 2.8 .9 1.8-.2 1.5-.4 .8-3.1 2.2-1.3 1.6-.3 1.5-.2 6.0-1.0 1.6-.8 .3-2.1-.6-2.3-2.0-.6-1.5 .2-4.6-.5-2.3-1.1-1.1-3.3-2.7-1.3-2.2 .1-2.3 .7-1.5 2.2-2.3 2.3-1.5z"/>
<g transform="translate(-155.5,-21.3)"><path d="M157.41 24.50H205.47M235.51 24.50H291.38M155.46 28.40H195.71M237.47 28.40H289.43M157.41 32.30H193.76M235.51 32.30H291.38M155.46 36.20H164.47M225.75 36.20H289.43M223.80 40.10H291.38M225.75 44.00H289.43M157.41 47.90H158.61M223.80 47.90H291.38M155.46 51.80H164.47M225.75 51.80H289.43M157.41 55.70H170.33M223.80 55.70H291.38M174.99 59.60H199.62M225.75 59.60H289.43M176.94 63.50H201.57M223.80 63.50H291.38M194.51 67.40H203.52M225.75 67.40H289.43M196.47 71.30H205.47M223.80 71.30H291.38M198.42 75.20H203.52M225.75 75.20H289.43M196.47 79.10H205.47M223.80 79.10H291.38M186.70 83.00H191.81M225.75 83.00H289.43M188.66 86.90H189.85M223.80 86.90H291.38M155.46 90.80H172.28M225.75 90.80H289.43" stroke="#262626" stroke-width="0.95" fill="none" stroke-dasharray="1.2 2.672"/></g>
<use href="#coast"/>
</g>
<rect x="0" y="0" width="136.3" height="72.8" fill="none" stroke="#262626" stroke-width="0.85"/>
</g>
<g transform="translate(291.8,21.3)"><g clip-path="url(#pc)">
<rect width="136.3" height="72.8" fill="#f4f5f5"/>
<path fill="#f0f4f3" d="M-5.3 10.2l22.7-.1 4.3 .6 1.5 1.1 1.1 2.2 .3 3.1-.2 6.8-.6 .9-3.6 1.5-4.0 2.9-2.3 .8-19.2-.1 .0-19.7zM49.1 34.5l3.1-.4 2.2 1.2 4.2 1.5 2.1 1.4 2.8 3.3 2.2 1.0 4.2-.1 8.5-2.3 4.3 .5 6.4 .1 1.3 .6 .8 .8 2.2 4.0 .7 .7 1.4 .5 2.1-.3 1.4-.7 1.4-1.2 2.2-3.2 1.4-.9 1.4-.3 5.0 .0 4.2-.6 5.0 2.5 3.6 .7 18.4-.1 .0 35.3-58.4 .0 .5-6.8-.3-1.6-1.4-1.4-2.1-.4-4.3 .4-5.0-.2-7.1 .4-13.5 .1-2.1-.2-2.1-1.0-2.9-4.3-3.5-3.2-2.1-3.0-1.5-.9-2.1-.2-5.7 .8-33.3-.1 .0-10.7 34.8-.1 6.3 .6 1.5-.7 .7-1.5-.3-6.2 .4-1.5 .6-.8 1.4-.9 2.1-.5 6.9-.1z"/>
<path fill="#edf3f2" d="M-5.3 12.5l.0-.4 22.7-.2 2.1 .3 2.0 1.1 1.0 1.5 .5 3.0-.4 3.8-.8 1.5-.8 .8-5.0 4.2-2.2 .9-2.1 .2-5.0-.3-12.0 .1 .0-16.5zM42.0 36.8l3.1-.3 10.6 .5 2.2 .4 2.1 1.1 3.2 3.6 2.5 1.0 3.5 .0 7.8-1.1 5.0 .6 5.7-.1 2.1 1.1 2.8 4.5 2.2 .8 2.8-.4 2.1-.9 4.3-4.2 2.1-.8 8.5 .0 5.7 1.3 2.9 .3 18.4-.1 .0 34.4-56.5 .0 .3-6.1-.2-2.3-1.1-2.2-1.4-.9-2.1-.5-8.5-.1-7.9 .8-8.5-.1-4.9 .3-2.2-.2-2.1-1.1-2.7-3.5-3.2-3.1-2.6-3.6-2.2-1.1-2.1-.2-8.5 .8-30.5 .0 .0-7.6 29.1 .0 5.7-.3 5.6 .7 2.2-.3 1.4-1.3 .5-1.5 .3-6.0 1.0-1.6 1.5-.7z"/>
<path fill="#e0f0ee" d="M-5.3 14.0l17.0 .1 5.0-.4 2.1 .2 1.4 .7 .8 .9 .4 1.6 .0 2.2-.4 1.6-.8 1.1-2.8 2.5-2.1 2.4-1.5 .9-2.1 .2-5.0-.3-12.0 .0 .0-13.7zM43.3 38.3l2.5-.1 5.7 .7 4.2-.7 2.2 .1 2.1 1.2 2.8 3.2 2.9 1.0 9.9-.4 6.4 1.2 5.0-.4 1.4 .7 .7 .8 1.4 3.4 .7 1.0 2.2 .6 2.8-.4 2.8-.9 2.2-1.2 3.5-3.2 2.1-.7 15.7 .9 19.1 .0 .0 33.4-54.6 .0 .1-6.8-.3-3.1-1.2-2.2-2.2-1.3-10.6-.6-8.6 1.4-7.8-.2-7.1 .4-2.1-1.1-5.1-5.5-3.4-5.1-1.4-1.0-2.2-.5-2.8-.1-7.8 .7-29.8 .0 .0-3.7 29.1 .0 6.4-.4 4.9 .6 2.2-.2 1.4-.7 .9-.9 .8-2.3 .4-5.3 .9-1.5 1.6-.8z"/>
<path fill="#c9eae6" d="M55.2 39.8l1.9-.5 1.5 .3 1.1 1.0 1.9 2.2 1.9 1.2 2.9 .4 6.4-.1 2.8 .2 6.4 2.3 4.3 .3 .5 1.1-.2 .7-2.6 3.8-3.9 3.8-.8 1.5-.3 2.3-.4 .7-.9 .5-5.6 .8-7.1 2.1-9.3-.2-4.2 .6-2.2-.1-2.1-1.3-4.3-4.6-1.7-3.1-.6-3.0 1.0-3.8 .6-6.8 .7-1.3 1.5-.7 2.1 .1 5.0 .9 1.4-.2 2.3-1.1zM105.2 46.6l2.3-.6 5.7 .8 12.1-.6 16.3 .4 .0 14.2-6.4-.2-2.5 .4-1.1 .8-2.0 3.8-.9 .8-1.3 .5-2.1 .0-5.0-.8-6.4 .3-7.1-.3-5.6 .9-2.2-.4-1.4-1.2-2.3-3.6-3.4-2.1-.7-.8-.4-1.6 .2-1.6 .9-1.4 1.0-.8 7.6-3.3 4.7-3.6z"/>
<path fill="#87d0c5" d="M57.0 41.3l1.6 .3 2.1 2.4 2.1 .9 9.3 .3 3.0 .7 1.4 .7 1.8 1.6 1.0 1.5 .1 1.5-.9 1.5-5.1 5.3-4.4 3.0-2.6 1.4-2.9 .6-7.1-.5-4.9 .8-2.2-.1-1.4-.9-3.3-3.5-1.5-2.3-.1-2.3 1.1-3.8 .0-6.0 .5-.8 1.2-.6 4.2 .8 2.9-.1 1.4-.5 2.7-1.9zM122.4 48.2l3.6-.3 2.9 .3 1.5 .7 .5 .8 .0 .7-.9 2.3-4.0 3.3-2.1 4.1-1.4 .9-2.9 .3-6.4-.4-5.7 .3-2.8-.3-1.4-1.2-2.9-5.5 .0-.7 1.2-1.6 4.5-3.0 1.4-.2 4.3 .8 2.8 .0 7.8-1.3z"/>
<path fill="#0c7169" d="M63.8 46.6l7.7 .0 2.1 .8 1.1 1.5 .0 1.5-.9 1.5-3.9 3.7-3.5 4.1-1.4 .7-1.5 .2-7.1-.8-2.1 .3-2.8 .9-1.5 .0-1.4-.7-2.8-3.0-.5-1.6 .3-1.5 1.6-4.7 .7-1.1 .7-.4 2.9-.4 6.4 1.3 1.4-.3 2.8-1.5 1.7-.5z"/>
<path fill="#f5f4f0" d="M122.6 10.2l19.0 .1 .0 16.0-18.4 .1-2.9-.5-1.4-.9-1.1-1.9-.4-2.2-.1-3.8 .4-3.1 .6-1.5 1.3-1.4 3.0-.9zM51.0 16.3l2.6-.6 2.8 .6 1.5 1.3 1.4 3.7 .7 .8 1.4 .5 4.3 .0 1.6 .5 2.9 4.6 3.7 3.0 1.0 1.5 1.0 2.3 .5 2.3-.3 1.5-.6 .8-2.2 1.5-2.7 .9-2.8 .5-2.1-.1-2.2-1.2-3.5-3.9-4.1-2.3-1.1-1.5-.2-5.3-.6-.8-4.0-2.1-.9-1.7-.3-2.2 .3-2.3 .8-1.5 1.1-.8zM19.6 28.4l1.3-.6 1.5-.1 2.1 .4 2.1 .8 1.4 1.1 2.9 3.9 3.6 2.1 1.1 1.5 .9 3.8 .0 2.3-.7 1.1-1.4 .5-6.4-.5-33.3-.1 .0-13.8 19.1 .1 2.9-.8 2.9-1.7zM119.6 34.5l3.6-.6 18.4 .0 .0 8.4-17.0 .3-3.6-.5-2.5-1.5-1.3-2.3 .0-1.5 .3-.8 .7-.7 1.4-.8zM-5.3 58.8l.0-.4 29.1-.1 3.5 .4 2.3 .8 .7 .8 .2 .7-.3 4.6 .0 12.9-35.5 .0 .0-19.7z"/>
<path fill="#f5f3ec" d="M121.6 12.5l3.0-.5 5.0 .3 12.0 .0 .0 12.0-12.0 .0-5.7 .3-2.9-.8-.7-.7-.9-1.5-.5-3.8 .7-3.4 .8-1.1 1.2-.8zM51.7 17.8l1.9-.6 2.1 .5 1.0 .9 1.5 3.8 1.1 1.2 4.9 .7 2.2 1.0 2.8 3.8 2.9 2.5 1.6 2.1 .8 3.1-.4 1.5-.5 .8-1.5 1.1-2.2 .9-2.1 .4-2.1-.3-2.2-1.4-2.8-3.4-4.0-2.7-.7-1.5 .1-4.5-.4-1.3-.7-.7-3.5-1.7-1.1-1.6-.2-1.5 .3-1.6 1.2-1.5zM20.0 30.0l1.7-.4 1.4 .0 2.8 1.1 1.4 1.2 2.8 3.4 3.2 2.2 1.0 1.6 .4 1.5-.1 1.5-.9 1.1-2.1 .3-7.8-.6-29.1-.1 .0-11.0 19.1 .0 2.9-.5 3.3-1.3zM120.8 36.0l3.1-.6 17.7 .1 .0 5.9-17.0 .3-2.7-.4-1.5-.7-1.1-1.5 .1-1.6 1.4-1.5zM-5.3 60.3l.0-.2 23.4 .0 5.0-.2 2.1 .1 1.4 .5 1.3 1.3 .6 2.3-.1 14.4-33.7 .0 .0-18.2z"/>
<path fill="#f5efde" d="M122.8 14.0l1.8-.2 5.0 .5 12.0-.1 .0 8.1-12.0-.1-5.0 .5-2.1-.3-1.5-1.5-.5-3.1 .5-2.3 .7-.9 1.1-.6zM53.4 18.6l1.6 .2 1.1 1.3 .5 2.3-.2 1.0-.4 .5-1.0 .2-1.4-.3-1.2-.7-.6-.7-.3-.8 .1-1.5 .6-.9 1.2-.6zM58.5 25.4l1.5-.2 2.8 .1 1.4 .4 1.5 1.1 2.4 3.2 3.2 2.9 1.2 1.6 .5 2.3-.4 1.5-.6 .8-2.9 1.5-2.0 .2-1.4-.2-1.5-1.0-2.8-3.5-3.3-2.4-1.0-1.5-.2-1.5 .6-3.8 .4-1.0 .6-.5zM19.5 32.2l2.9-.6 2.8 .7 3.6 3.9 3.3 2.9 .3 1.5-.8 .8-2.1 .2-5.7-1.0-29.1 .0 .0-7.6 19.1 .0 3.6-.2 2.1-.6zM122.0 37.5l2.6-.4 5.0 .3 12.0-.1 .0 2.7-12.0-.1-5.7 .4-1.8-.5-.7-.7 .0-.8 .6-.8zM22.0 61.8l1.8-.1 1.4 .5 .7 .5 .7 1.4 .2 2.3-.3 5.3 .1 6.8-31.9 .0 .0-16.3 23.4 .1 3.9-.5z"/>
<path fill="#f6e9c7" d="M59.5 26.9l1.9-.4 2.1 .4 1.5 1.2 2.1 2.9 3.2 2.7 1.0 1.6 .2 1.5-.5 1.5-.8 .8-2.4 .9-2.1-.3-1.5-1.2-2.1-2.9-3.3-2.6-.7-1.5-.1-1.5 .6-2.0 .9-1.1z"/>
<path fill="#e2c787" d="M61.8 29.2l1.0-.1 .7 .3 2.2 2.8 2.9 2.3 .7 1.5-.1 .8-.7 1.1-1.4 .5-1.4-.4-2.8-3.5-2.4-2.3-.3-1.5 .5-.9 1.1-.6z"/>
<use href="#strip" stroke="#d9b66e"/>
<g transform="translate(-291.8,-21.3)"><path d="M294.09 24.50H428.06M292.14 28.40H426.11M294.09 32.30H428.06M292.14 36.20H426.11M294.09 40.10H428.06M292.14 44.00H426.11M294.09 47.90H428.06M292.14 51.80H426.11M294.09 55.70H428.06M292.14 59.60H426.11M294.09 63.50H428.06M292.14 67.40H336.29M366.33 67.40H426.11M294.09 71.30H334.34M368.28 71.30H428.06M292.14 75.20H336.29M366.33 75.20H426.11M294.09 79.10H338.25M368.28 79.10H428.06M292.14 83.00H340.20M358.52 83.00H379.25M397.57 83.00H426.11M294.09 86.90H342.15M352.66 86.90H377.30M399.52 86.90H428.06M292.14 90.80H375.34M401.48 90.80H426.11" stroke="#262626" stroke-width="0.95" fill="none" stroke-dasharray="1.2 2.672"/></g>
<use href="#coast"/>
</g>
<rect x="0" y="0" width="136.3" height="72.8" fill="none" stroke="#262626" stroke-width="0.85"/>
</g>
<g transform="translate(428.1,21.3)"><g clip-path="url(#pc)">
<rect width="136.3" height="72.8" fill="#f4f5f5"/>
<path fill="#f0f4f3" d="M111.8 -5.7l29.8 .0 .0 17.4-19.1 .1-2.2-.3-1.2-.5-2.9-3.0-3.3-2.3-.8-1.5-.5-3.1 .2-6.8zM-5.3 4.2l23.4-.2 2.8 .3 1.5 .6 1.4 1.5 .7 2.3 .0 5.5 .6 4.4-.2 1.5-.7 1.5-1.8 2.4-2.2 1.9-1.4 .6-3.5-.2-1.5 .4-3.5 4.0-2.1 1.1-2.2 .2-4.9-.5-6.4 .1 .0-27.4zM115.0 22.4l1.8 .2 5.3 2.0 1.6 1.6 1.6 2.6 1.1 1.2 4.9 2.2 .7 .8-.1 1.5-1.6 4.6 .4 2.2 1.0 1.1 2.8 .9 7.1-.2 .0 25.5-6.4 .2-4.9-.6-2.3 .4-1.3 1.4-.4 1.7 .5 6.8-43.8 .0-.2-7.6 1.0-5.3-.2-1.5-.9-.9-.7 .1-.7 .6-2.1 3.0-3.2 3.2-.5 2.3 .7 6.1-10.3 .0 .6-6.8-.4-1.6-1.1-1.2-1.5-.6-2.1-.1-4.3 1.2-1.4 .0-2.1-1.5-4.3-4.2-2.1-.8-2.8-.2-.7-.5-.4-1.2-.4-6.8 .3-2.3 3.0-6.8 1.7-1.8 2.9-.8 16.3-.8 6.4-1.7 3.5 .9 1.4 .8 2.9 3.6 2.0 1.3 2.2 .3 7.1-.3 2.2-1.4 2.1-2.5 2.8-2.5 2.3-3.4 3.6-3.1 2.7-3.6 3.1-2.4 1.1-1.5 1.4-3.2 1.1-.6zM-5.3 34.5l7.1-.1 7.8 .5 7.1-1.1 2.1 .2 2.1 1.5 3.6 3.6 1.0 2.2-.2 3.1-.8 1.3-1.1 .9-4.9 2.3-2.6 3.8-2.1 1.5-2.1 .3-5.7-.4-11.3 .1 .0-19.7z"/>
<path fill="#edf3f2" d="M113.7 -5.7l27.9 .0 .0 16.4-12.0-.1-5.7 .3-2.2-.2-1.1-.5-3.1-3.3-2.9-2.3-.8-1.2-.5-3.0 .4-6.1zM-5.3 6.4l.0-.3 17.0 .0 5.7-.3 2.1 .2 1.2 .4 1.5 1.6 .6 2.2-.1 4.6 .4 4.5-.7 2.3-1.5 1.9-1.4 .9-1.4 .3-3.5-.2-1.5 .5-2.8 3.5-2.1 1.4-2.2 .2-4.9-.5-6.4 .2 .0-23.4zM115.9 24.6l.9-.3 1.4 .0 3.5 1.1 1.5 1.4 2.1 3.4 4.7 2.8 .6 1.5-1.0 3.8-.2 2.3 .5 1.5 1.1 1.1 1.4 .6 2.1 .3 7.1-.1 .0 22.7-6.4 .1-5.6-.5-1.5 .2-1.4 .7-1.3 1.4-.7 2.3 .2 7.6-40.5 .0-.2-6.8 .9-5.3 .0-2.3-1.0-2.1-1.4-.6-1.4 .3-.7 .7-2.2 3.3-3.1 2.9-1.0 1.5-.3 2.3 .5 6.1-6.9 .0 .3-7.6-.4-1.5-1.1-1.4-2.2-1.0-2.8-.6-5.0 .6-1.4-.2-1.4-.8-3.6-3.2-3.6-1.8-1.3-1.2-.8-4.8 .2-3.1 2.2-6.0 1.1-1.5 .8-.6 2.2-.5 10.6-.7 12.8-.3 2.8 .8 4.3 4.2 2.1 1.0 4.3 .4 4.9-.6 2.8-1.5 5.1-4.7 2.8-4.0 3.5-3.1 2.6-3.3 3.1-2.5 2.5-3.6 .9-.8zM15.2 36.0l2.9-.1 2.8 1.5 2.5 2.4 .7 1.5 .2 1.5-.9 2.3-1.0 .9-4.5 2.2-3.3 4.6-1.5 .7-1.4 .2-5.0-.6-12.0 .1 .0-17.1 7.8 .0 7.1 .7 5.6-.8z"/>
<path fill="#e0f0ee" d="M115.6 -5.7l26.0 .0 .0 15.2-12.0-.1-5.7 .3-2.2-.4-.7-.6-2.1-2.7-2.8-2.4-.7-.9-.4-2.3 .6-6.1zM14.1 8.0l3.3-.4 1.4 .1 1.4 .7 .7 1.1 .4 9.8-.4 1.6-.7 1.0-.7 .6-1.4 .3-4.3-.3-1.4 .4-1.1 1.0-1.7 3.0-.7 .8-1.4 .7-2.2 .1-4.2-.6-6.4 .2 .0-20.1 19.4 .0zM116.7 26.2l2.2-.5 2.1 .6 1.5 1.3 2.1 3.8 4.1 2.3 .4 1.6-.8 3.8-.2 2.2 .3 1.5 1.2 1.4 2.1 .7 3.5 .3 6.4 .0 .0 19.5-6.4 .2-6.4-.3-2.1 .5-1.4 .9-1.5 1.9-.8 2.2 .1 8.4-37.4 .0-.2-6.8 .8-6.1-.1-2.3-1.1-2.3-1.0-.7-1.4-.3-1.4 .1-1.3 .9-2.3 3.9-3.6 3.0-1.2 1.5-.6 3.0 .4 6.1-3.2 .0 .2-7.6-.7-2.3-1.2-1.4-2.1-1.1-5.0-1.4-5.0 .4-1.4-.4-3.5-2.9-3.6-2.1-1.2-1.7-.4-2.3 .0-2.2 1.1-5.3 1.2-2.7 .7-.6 1.4-.6 5.7-.3 7.1-.9 5.7 .1 5.7 .7 1.8 .5 1.2 .7 4.1 3.7 3.5 1.3 2.2 .4 2.1-.1 5.0-1.4 2.1-1.4 2.8-2.6 3.2-2.2 2.5-4.0 3.3-2.8 2.4-3.2 3.5-2.6 2.8-4.0zM-5.3 37.5l7.8-.2 7.8 1.4 5.7-.8 2.1 .1 2.1 .9 1.5 1.2 .9 2.0-.1 1.5-1.2 1.5-3.2 1.4-1.3 .9-2.2 3.9-1.5 1.0-2.1 .2-5.0-.6-11.3 .2 .0-14.6z"/>
<path fill="#c9eae6" d="M-5.3 39.1l7.8-.3 2.8 .7 1.6 1.1 .4 1.5-1.4 3.8 .6 3.0-1.2 .8-2.8 .7-7.8-.1 .0-11.2zM58.8 44.4l4.0-.6 3.6 .0 8.5 1.9 1.8 .9 3.9 3.4 7.8 3.1 2.1-.6 5.7-3.2 3.5-2.8 1.5-.4 1.4 .1 2.8 1.1 1.4 .2 14.9-.3 7.1 1.1 2.9-.9 1.2 .8-.1 .7-1.8 1.1-.9 1.9-.1 3.8 .7 4.6-.6 .7-4.1 1.8-2.1 1.4-1.9 2.2-1.3 2.2-.7 3.1 .4 6.8-33.1 .0-.2-6.8 .3-8.4-.7-3.0-1.2-1.2-2.8-.7-3.0 .4-.9 .7-1.4 3.8-1.1 1.4-1.4 .9-2.8 .9-3.6-1.4-4.3-1.0-3.5-1.2-5.7 .1-1.4-.7-5.7-4.1-.8-1.7-.1-2.3 .8-6.0 .8-1.9 .7-.6 1.5-.6 4.2-.1 3.8-.6z"/>
<path fill="#87d0c5" d="M59.7 45.1l3.8-.7 2.9 .2 2.1 .5 6.4 2.6 1.4 .9 2.9 2.9 2.1 1.3 .6 .7-.1 1.5-.5 .4-.7 .1-2.2-.7-1.4-.1-1.7 1.0-1.1 1.6-.3 1.5 1.4 2.2 .1 .8-.5 .8-.7 .2-.7-.2-1.3-1.6-.9-.3-1.4 .1-2.8 1.2-1.4 .2-5.0-1.9-5.0 .1-1.4-.4-3.8-2.0-1.3-1.5-.1-1.5 .5-3.1 .0-3.7 .4-.9 1.2-.7 4.5-.3 4.0-1.2zM99.0 49.7l2.2-.7 5.6 1.1 8.6 .1 5.6-.3 2.5 .5 2.0 1.5 .6 1.6 .0 1.5-1.4 3.0-4.2 4.6-5.0 4.5-1.5 2.3-.7 3.0 .5 6.1-16.9 .0 .2-6.8-.7-3.1-.6-.7-1.0-.5-1.4 .1-2.2 .6-.7 .0-.7-.5-.6-2.8 .4-3.0 .9-.9 4.3-.5 1.1-.9 .3-.7 .0-1.5-1.4-3.8 1.0-1.6 3.2-2.2z"/>
<path fill="#0c7169" d="M61.6 45.9l4.1-.3 1.4 .3 1.4 .7 4.9 3.8 .3 .8-.3 1.5-1.3 1.6-1.5 1.0-1.4 .2-1.4-.5-5.7-3.7-1.9-1.6-.4-.8 .0-1.5 .5-.8 1.3-.7zM112.2 53.5l5.3 .0 2.1 .6 .5 .9 .0 .7-.9 2.3-1.7 2.3-7.1 6.5-1.4 .6-1.5 .1-3.5-.7-.7-.4-.9-1.6 .3-2.2 1.3-1.5 3.3-2.3 1.7-3.7 .7-.8 2.5-.8z"/>
<path fill="#f5f4f0" d="M118.7 13.3l1.6-.4 4.3-.3 17.0 .0 .0 18.9-6.4 .3-6.4-1.5-2.0-1.1-3.3-4.6-4.6-2.4-1.6-1.3-.5-1.6 .1-2.2 1.0-3.1 .8-.7zM25.9 22.4l2.1-.7 5.7 .8 19.2-.1 17.0-.7 3.6 .6 1.2 .8 .6 .8 .6 2.3-.4 3.0-.9 1.5-3.3 2.0-1.0 1.0-.3 1.6 .2 3.0-.8 1.5-1.3 .8-2.4 .5-14.9 .6-2.9 .6-1.4 .9-.7 1.0-3.7 7.0-.5 2.3 .1 9.8 .5 1.0 .8 .5 1.4 .1 2.8-.5 1.4 .3 1.4 1.1 1.2 1.3 1.5 2.3 .7 2.3-.5 6.8-58.2 .0 .0-23.4 17.0 .2 2.1-.2 2.2-1.2 2.9-4.2 1.3-.9 4.2-1.4 1.6-1.5 .9-3.1-.5-3.0-.9-1.5-4.8-5.3-.9-1.5-.3-1.5 .3-.8 1.6-2.3 4.5-4.5zM134.9 33.7l1.0-.2 5.7 1.0 .0 7.8-7.1 .2-1.4-.4-1.2-.8-.7-1.5 .3-2.3 1.6-2.6 1.8-1.2z"/>
<path fill="#f5f3ec" d="M120.8 14.0l3.8-.5 17.0 .0 .0 16.3-10.6-.1-2.2-.3-1.4-.8-3.3-4.7-4.2-2.3-1.3-1.5-.3-1.5 .4-2.3 .9-1.5 1.2-.8zM27.1 23.9l5.9 .5 14.2-.2 5.7 .2 6.4-.8 4.9 .0 5.7-.5 2.9 .8 1.3 1.5 .2 2.3-.6 1.5-.9 1.0-2.9 1.9-.8 .9-.4 1.5-.1 3.8-.8 1.2-1.4 .7-1.6 .4-14.0 .3-3.6 .6-1.7 1.3-2.3 4.6-2.6 3.8-.5 2.3 .2 4.5-.2 3.8 .6 3.0 .8 1.2 .7 .5 1.5 .2 2.8-.6 1.4 .0 1.4 .8 .7 .9 1.0 1.6 .5 2.3-.4 6.8-56.4 .0 .0-22.5 17.0 .2 2.9-.3 2.1-1.4 2.8-4.2 1.4-.8 5.0-1.3 1.4-1.5 .6-1.6 .4-2.3-.2-2.2-.4-1.5-.9-1.6-3.7-3.8-.9-1.5-.3-1.5 .4-2.3 1.4-2.2 1.5-1.4 1.9-.9zM133.7 36.0l.8-.4 1.4-.2 5.7 .8 .0 5.1-6.4 .4-2.1-.6-.7-.8-.3-1.2 .4-1.6 1.2-1.5z"/>
<path fill="#f5efde" d="M122.7 14.8l18.9 .0 .0 13.3-6.4-.2-4.9 .5-2.2-.7-.7-.8-2.1-3.8-4.3-2.2-1.1-1.6-.1-1.5 .5-1.5 .7-.8 1.7-.7zM66.6 24.6l2.6-.3 2.1 .3 1.1 .8 .6 1.5-.2 1.4-.7 .9-2.9 2.0-1.1 1.0-.5 1.5-.1 3.8-.9 1.6-2.4 .7-14.2 .1-3.5 .4-1.5 1.0-2.7 5.3-3.1 3.1-.7 1.5-.4 4.5 1.4 9.9 .7 1.5 1.3 1.2 1.4 .3 4.3-.6 1.4 .8 .8 1.3 .3 1.6-.5 6.8-54.5 .0 .0-21.4 17.7 .1 2.9-.2 2.1-1.2 2.1-3.9 .7-.8 2.2-.7 4.9-.2 1.5-1.2 .8-2.4 .3-2.2 .1-3.8-.3-2.3-.9-1.7-2.9-2.1-1.4-1.4-.9-2.4 .5-2.3 1.8-2.1 2.1-.6 5.0 .7 14.2-.3 5.0 .3 7.1-1.4 4.9 .0 2.4-.4zM134.2 37.5l1.7-.5 5.7 1.1 .0 1.7-5.7 .7-1.4-.2-.7-.5-.3-.7 .1-.8 .6-.8z"/>
<path fill="#f6e9c7" d="M66.5 26.2l3.4-.4 .9 .4 .6 .7-.1 .8-.7 .9-2.8 1.8-1.0 1.1-.6 1.5-.1 3.8-.4 1.0-.7 .5-2.2 .2-11.3-.2-2.3-.8-.4-.7 .1-.8 1.7-2.3 1.4-3.0 1.8-1.5 4.8-2.4 5.6-.2 2.3-.4zM-5.3 58.8l15.6-.1 2.1 .4 .9 .4 .3 .8-.2 .7-1.7 2.3-.4 1.5 .2 .8 1.6 1.4 2.9 .5 10.9-2.7 2.4-1.5 3.0-3.1 1.4-.8 1.4-.1 1.5 1.1 .6 1.4 1.1 6.1 1.3 3.8-.7 6.8-44.2 .0 .0-19.7z"/>
<path fill="#e2c787" d="M32.9 64.8l.8-.4 .7-.1 .7 .5 .2 .8-.9 5.3 .2 7.6-11.6 .0-.8-6.1 .5-2.3 1.7-1.5 5.8-1.8 2.7-2.0z"/>
<use href="#strip" stroke="#e9d3a0"/>
<g transform="translate(-428.1,-21.3)"><path d="M430.76 24.50H560.83M428.81 28.40H562.78M430.76 32.30H560.83M428.81 36.20H562.78M430.76 40.10H560.83M428.81 44.00H562.78M430.76 47.90H560.83M428.81 51.80H562.78M430.76 55.70H560.83M428.81 59.60H562.78M430.76 63.50H560.83M428.81 67.40H484.68M503.01 67.40H562.78M430.76 71.30H482.73M504.96 71.30H560.83M428.81 75.20H484.68M503.01 75.20H562.78M430.76 79.10H482.73M501.05 79.10H529.59M547.91 79.10H560.83M428.81 83.00H527.64M549.87 83.00H562.78M430.76 86.90H529.59M547.91 86.90H560.83M428.81 90.80H562.78" stroke="#262626" stroke-width="0.95" fill="none" stroke-dasharray="1.2 2.672"/></g>
<use href="#coast"/>
</g>
<rect x="0" y="0" width="136.3" height="72.8" fill="none" stroke="#262626" stroke-width="0.85"/>
</g>
<g transform="translate(19.2,110.0)"><g clip-path="url(#pc)">
<rect width="136.3" height="72.8" fill="#f7f6f6"/>
<path fill="#fcd5bf" d="M22.7 -5.7l118.9 .0 .0 42.1-19.1 .0-13.5 1.0-12.1-.2-5.7-1.0-2.1 .3-5.7 3.8-2.1 .8-5.2 1.0-1.1 .7-.5 .8-.4 4.6 .3 7.5-.4 2.3-1.2 1.7-3.6 2.2-1.1 2.2 .1 14.4-28.3 .0-.5-6.8 .3-1.6 1.3-2.2 1.2-1.3 1.5-.5 4.2 .5 1.4-.2 1.0-.8 .7-1.5 .2-3.1-.8-6.8 1.0-6.0-.1-2.3-1.3-2.5-1.2-1.3-.9-.5-5.0 .2-3.8-2.7-1.8-1.0-6.4-.4-6.1-3.2-3.1-2.2-3.9-4.6-.6-1.5-.2-1.6 .5-6.0 .8-3.1 2.6-5.0 1.8-7.8 .3-2.3-.3-6.1zM104.0 12.5l-1.4 .7-1.0 1.6-.4 2.0 .0 2.5 .3 2.3 .7 1.5 1.1 .9 1.4 .1 1.4-.3 1.6-1.4 .7-2.3 .1-3.0-.5-2.3-.9-1.5-1.7-.9-1.4 .1z"/>
<path fill="#ee9677" d="M27.3 4.9l2.2-.3 27.6 .3 11.4-.4 4.3 .5 4.2 1.6 1.4 .2 5.7-1.0 3.6 .2 1.8 1.2 2.8 3.8 3.4 2.3 1.2 1.5 .4 1.5 .1 2.3-.7 7.6-.5 2.2-.7 1.2-1.4 .9-5.0 .0-2.1 .7-1.1 1.0-2.5 4.2-2.1 1.3-2.9-.1-5.6-1.7-2.9 .4-1.1 1.2-1.5 3.8-.9 .8-1.4 .4-5.0-.5-3.6 .5-1.4-.1-1.4-.7-2.8-2.6-1.5-.9-1.4-.3-5.0 .1-6.3-3.0-4.3 .0-2.1-.5-3.5-2.3-2.9-3.8-3.5-3.0-.8-1.2-.4-1.8 .0-2.3 .7-2.3 1.1-1.6 2.3-2.2 .6-1.5 .3-3.0 .7-2.3 1.1-1.5 1.4-.8z"/>
<path fill="#c94741" d="M67.4 7.2l2.5 .1 2.2 .7 6.3 5.3 .9 1.5 .5 1.5 .2 2.3-.3 2.3-1.3 2.0-3.6 2.5-1.8 3.8-.9 1.1-1.5 .4-4.9-1.0-2.2 .3-.8 1.5-.6 3.8-.7 .9-1.0 .6-2.5 .4-2.2-.1-3.5-1.6-2.2-.5-5.6 .4-1.5-.2-1.5-.7-2.7-2.8-1.4-.9-5.0 .5-1.4-.4-1.4-1.2-2.2-3.5-1.4-1.1-2.8-1.4-.7-.6-.7-1.2 .0-1.5 .7-1.2 1.0-.6 3.2-1.1 1.1-1.2 .3-1.5-.6-4.6 .6-1.5 1.5-.8 4.2-.6 10.0 .4 13.4 .0 10.3-.5z"/>
<path fill="#900d26" d="M44.4 11.0l6.4 .2 7.1-.2 2.8 .8 .7 .7 1.9 3.8 4.0 3.8 .9 2.3-.1 1.5-1.0 1.0-1.4 .3-5.0-1.0-2.1 .3-1.0 .9-1.6 3.8-.6 .8-1.8 .8-3.6 .4-2.1-.1-1.4-.4-.7-1.3-.7-3.5-1.4-1.5-2.2-.3-4.2 .8-2.2-.4-.7-.8-.3-1.3 .5-2.3 1.2-1.3 3.3-2.5 1.7-3.7 .7-.8 1.4-.6 1.5-.2z"/>
<path fill="#cae1ee" d="M-5.3 6.4l.0-.3 19.1-.1 2.2 .3 1.4 .9 .3 2.3-1.7 5.3-.7 6.1-.7 2.2-1.5 1.3-1.4 .1-2.8-.4-2.0 .5-.6 .8-.6 1.5 .1 2.3 .9 1.3 1.5 .6 4.9 .0 2.2 .6 1.4 1.0 3.5 3.5 5.7 1.7 5.0 3.5 1.4 .2 2.8-.3 1.5 .2 1.6 1.3 2.6 4.4 4.3 2.7 .7 1.3 .3 2.3-.1 3.0-.4 2.3-1.2 1.5-3.6 2.0-3.5 4.0-1.5 .8-1.4 .2-4.9-.7-34.8 .1 .0-60.3zM87.0 41.3l2.8-.6 5.7 .4 12.0-.3 5.0 .2 2.1 .4 2.2 .9 1.3 1.3 .6 1.5 .4 3.1-.1 2.2-.5 1.5-1.0 1.6-8.4 8.3-3.7 4.1-2.1 1.1-5.0 1.4-1.4 1.0-.6 .7-.4 2.3 .7 6.1-11.5 .0 .7-6.1-.1-1.5-.9-1.6-4.1-4.5-.9-2.2-.4-3.1 .1-6.8-.7-4.5 .2-1.6 .9-1.3 1.2-.9 5.9-3.1z"/>
<path fill="#81bad8" d="M7.7 36.0l4.7-.6 1.8 .6 1.6 1.5 1.2 2.3 .4 2.3-.3 3.0-1.2 2.3-1.3 .9-2.2 .4-5.7-.3-12.0 .0 .0-11.9 8.5 .0 4.5-.5zM89.1 43.6l6.4 .4 12.0-.5 3.6 .4 1.4 .5 1.7 1.5 .7 1.5 .0 2.3-.6 1.5-1.1 1.4-4.2 3.8-4.4 5.4-2.0 1.9-2.3 1.1-5.5 1.1-3.6 1.2-2.1-.1-1.4-.6-2.1-1.6-1.2-2.2 .0-2.3 1.2-3.8 .2-2.3-.3-1.7-1.5-4.3 .3-1.6 1.2-1.5 1.5-.9 2.1-.6z"/>
<path fill="#3783bb" d="M91.9 48.2l2.2-.5 3.5-.2 2.1 .4 1.5 1.0 .9 3.0 .4 3.1 .0 2.3-.9 2.2-1.9 1.8-2.1 .6-2.1-.3-2.9-.9-1.4-1.2-.6-2.2 .0-6.9 .4-1.5 .9-.7z"/>
<g transform="translate(-19.2,-110.0)"><path d="M22.69 114.20H39.51M104.70 114.20H152.76M20.74 118.10H41.46M106.65 118.10H154.71M22.69 122.00H39.51M104.70 122.00H152.76M20.74 125.90H33.66M106.65 125.90H154.71M22.69 129.80H35.61M104.70 129.80H152.76M20.74 133.70H37.56M102.75 133.70H154.71M26.60 137.60H39.51M89.08 137.60H152.76M28.55 141.50H49.27M87.12 141.50H154.71M34.41 145.40H55.13M89.08 145.40H152.76M48.07 149.30H64.89M87.12 149.30H154.71M57.84 153.20H66.85M89.08 153.20H105.90M132.03 153.20H152.76M59.79 157.10H68.80M87.12 157.10H103.94M133.98 157.10H154.71M61.74 161.00H70.75M89.08 161.00H101.99M135.94 161.00H152.76M59.79 164.90H68.80M87.12 164.90H103.94M133.98 164.90H154.71M57.84 168.80H70.75M89.08 168.80H101.99M135.94 168.80H152.76M55.88 172.70H68.80M87.12 172.70H103.94M133.98 172.70H154.71M50.03 176.60H62.94M89.08 176.60H105.90M128.13 176.60H152.76M36.36 180.50H57.08M87.12 180.50H154.71" stroke="#262626" stroke-width="0.95" fill="none" stroke-dasharray="1.2 2.672"/></g>
<use href="#coast"/>
</g>
<rect x="0" y="0" width="136.3" height="72.8" fill="none" stroke="#262626" stroke-width="0.85"/>
</g>
<g transform="translate(155.5,110.0)"><g clip-path="url(#pc)">
<rect width="136.3" height="72.8" fill="#f7f6f6"/>
<path fill="#fcd5bf" d="M39.7 -5.7l62.5 .0-.1 6.8 .4 5.3-.3 2.3-1.0 2.0-3.4 2.6-1.0 1.5-.4 1.5 .1 4.6-.3 3.7 .1 1.6 .6 1.6 1.4 1.4 2.4 1.5 1.2 1.5 .2 1.5-.6 1.6-1.0 .9-2.2 .6-6.4-.6-7.1-.1-2.1 .3-1.9 1.1-3.1 4.2-1.4 .6-5.0 .3-1.4 .9-2.1 3.2-1.4 1.3-1.4 .4-1.5-.4-.7-.6-.6-1.5 .3-5.3-.4-1.9-.8-1.2-3.4-2.5-2.9-4.7-1.4-.6-4.3 .1-1.4-.3-1.4-.9-3.6-3.9-1.4-.9-2.1-.1-5.0 1.0-2.8-.3-1.4-.8-2.7-3.5-3.2-2.3-1.2-1.5-.2-1.5 .6-1.5 3.8-2.9 2.9-3.7 2.1-.8 4.3 .1 1.4-.5 .7-.6 .9-1.5 .3-1.5-.2-7.6zM119.3 -5.7l22.3 .0 .0 23.9-12.0-.1-5.7 .3-2.2-.4-1.4-.9-.9-1.6-.3-2.2 .3-6.1-.1-12.9zM-5.3 42.1l5.7-.3 2.8 .4 1.4 .9 .7 1.1 .2 1.7-.2 .9-.9 1.4-1.9 .8-2.1 .2-5.7-.3 .0-6.8zM69.4 55.0l1.2-.3 .7 .3 .8 .8 2.2 6.8 .2 2.2-.4 .8-1.3 .8-1.5 .2-1.4-.4-1.4-1.3-.8-1.6-.5-3.0 .2-2.3 .5-1.5 1.5-1.5z"/>
<path fill="#ee9677" d="M48.6 17.8l3.6-.2 1.5 .2 1.5 .8 .8 .7 .5 1.6-.1 1.5-.7 1.5-1.4 1.1-2.8 .7-2.2-.1-1.4-.8-1.4-1.7-.9-2.2 .2-1.0 .7-1.1 2.1-1.0z"/>
<path fill="#cae1ee" d="M87.5 48.9l3.0-.6 5.7 .5 6.4-.4 2.1 .2 1.4 .8 2.9 3.4 3.7 2.9 .7 1.6-.2 1.9-.7 1.1-1.4 .7-1.4 .1-3.6-.5-2.1 .4-.8 .8-2.0 3.7-2.2 1.3-2.1 .2-6.4-.3-5.7 .2-2.8-.5-2.1-1.5-3.6-4.5-.9-2.4 .2-2.3 .7-1.0 1.0-.5 4.7 .4 1.4-.4 .8-.7 2.1-3.6 1.2-1.0z"/>
<g transform="translate(-155.5,-110.0)"><path d="M155.46 114.20H176.19M276.52 114.20H289.43M157.41 118.10H178.14M255.04 118.10H291.38M155.46 122.00H176.19M253.09 122.00H289.43M157.41 125.90H174.23M255.04 125.90H291.38M159.37 129.80H172.28M253.09 129.80H289.43M161.32 133.70H174.23M251.13 133.70H291.38M163.27 137.60H176.19M225.75 137.60H289.43M165.22 141.50H193.76M223.80 141.50H291.38M171.08 145.40H195.71M225.75 145.40H289.43M184.75 149.30H197.66M223.80 149.30H291.38M190.61 153.20H203.52M225.75 153.20H289.43M192.56 157.10H205.47M223.80 157.10H291.38M194.51 161.00H203.52M225.75 161.00H238.67M264.80 161.00H289.43M196.47 164.90H205.47M223.80 164.90H240.62M262.85 164.90H291.38M194.51 168.80H203.52M225.75 168.80H238.67M264.80 168.80H289.43M184.75 172.70H201.57M223.80 172.70H240.62M262.85 172.70H291.38M178.89 176.60H195.71M225.75 176.60H242.57M260.90 176.60H289.43M173.03 180.50H189.85M223.80 180.50H291.38" stroke="#262626" stroke-width="0.95" fill="none" stroke-dasharray="1.2 2.672"/></g>
<use href="#coast"/>
</g>
<rect x="0" y="0" width="136.3" height="72.8" fill="none" stroke="#262626" stroke-width="0.85"/>
</g>
<g transform="translate(291.8,110.0)"><g clip-path="url(#pc)">
<rect width="136.3" height="72.8" fill="#f4f5f5"/>
<path fill="#f0f4f3" d="M31.2 16.3l3.2-.4 11.4-.1 3.5 .3 1.5 .7 .7 .7 1.6 3.4 1.2 1.4 1.4 .2 2.9-.5 1.4 .2 5.0 2.0 1.4 .9 .8 1.8-.3 1.5-.7 .8-2.0 .7-4.2 .0-1.4 .4-1.5 1.2-.8 1.5-.4 3.0 .5 3.2 1.4 2.1 2.2 1.1 2.1 .2 2.1-.1 7.9-2.5 1.4 .0 4.2 .7 5.0-.1 2.1 .9 2.2 3.9 1.4 1.3 1.4 .2 3.6-.2 4.2 1.7 5.0 .5 2.1-.4 1.4-.6 3.2-3.5 1.8-1.3 5.7-.7 6.4-2.7 2.1 .0 4.3 .5 12.0 .0 .0 38.3-46.8 .0 .0-11.4-.2-2.3-.5-1.5-.7-.9-2.2-.8-1.6 .2-1.4 .8-1.1 1.5-1.6 3.0-1.4 1.1-4.9 .7-6.4-.6-1.4 .3-.8 .6-.7 .9-.3 1.6 .5 6.8-35.3 .0-.1-6.8 .3-6.9-.8-2.2-1.6-1.6-1.7-.6-4.3-.5-1.4-.5-1.4-1.4-2.1-3.1-2.2-1.1-24.8 .0 .0-13.2 5.7 .6 1.4-.2 1.7-1.2 1.8-3.8 1.4-1.2 1.5-.3 4.2 .2 1.4-.3 1.0-.7 2.6-3.6 3.0-2.4 2.7-3.6 3.1-2.5 2.6-4.0 1.4-1.0 1.0-.3z"/>
<path fill="#edf3f2" d="M32.4 17.8l3.4-.4 12.1 .0 2.3 1.2 2.0 3.8 1.4 1.6 2.1 .3 4.3-.8 3.5 .9 2.0 1.0 .9 1.5-.1 .8-.6 .9-1.5 .6-4.2-.1-2.1 .5-1.5 1.3-.9 2.1-.3 3.0 .8 3.8 .8 1.5 .9 .8 2.3 .9 4.2 .2 7.1-1.7 5.7 1.1 5.0-.1 1.9 1.1 2.4 3.8 1.4 1.0 1.4 .4 4.3-.1 8.5 .9 2.8-.3 2.1-.9 2.9-3.4 1.4-1.0 1.4-.4 5.0-.6 5.0-2.0 2.1-.2 7.1 .9 9.9 .1 .0 36.7-45.1 .0 .0-9.1-.8-6.1-.7-1.5-.9-.9-1.5-.7-1.4-.2-2.1 .2-1.8 .8-1.0 1.1-2.2 3.5-1.4 .9-2.8 .5-7.1-.6-1.5 .3-1.4 .8-1.4 1.7-.6 1.7 .3 7.6-32.6 .0-.1-6.8 .3-6.9-.7-2.2-2.1-2.2-2.1-.7-3.6-.3-1.4-.4-1.4-1.2-2.3-3.6-1.3-.8-1.4-.4-24.8 .0 .0-10.3 5.7 .3 2.8-.4 1.4-1.1 1.6-3.2 1.4-1.5 2.0-.5 4.2 .0 1.5-.6 2.8-3.8 3.2-2.7 2.9-3.8 3.1-2.5 2.9-3.9 2.2-1.2z"/>
<path fill="#e0f0ee" d="M43.9 18.6l3.3-.1 1.8 .8 1.2 1.6 1.3 3.5 1.4 1.4 2.8 .4 3.6-.9 2.1-.1 2.8 .9 .7 .8-.3 .8-1.1 .3-4.2-.2-2.2 .4-1.4 1.4-.9 1.9-.4 3.8 1.1 5.3 1.6 2.0 2.2 .9 4.9 .5 7.1-1.0 5.0 1.3 5.0-.1 1.6 .9 1.9 3.5 1.0 1.1 1.9 .8 2.8 .3 5.7-.5 7.8-.1 2.1-.4 1.7-.9 2.6-3.4 1.4-.9 5.7-.7 5.7-1.9 9.9 1.1 8.5 .0 .0 35.4-43.3 .0 .2-7.6-1.9-9.1-.7-1.5-1.1-1.1-2.2-.8-2.1-.1-2.8 .4-1.8 .8-1.1 1.3-1.4 2.8-1.4 1.2-2.1 .4-5.0-.7-2.1 .0-2.2 .5-2.0 1.4-1.7 2.2-.7 2.3 .2 7.6-29.7 .0 .0-13.7-.7-2.2-1.8-2.3-1.9-1.1-4.3-.4-2.1-.7-1.3-1.6-1.5-3.3-2.2-1.1-2.8-.4-23.4 .1 .0-7.1 7.1 .1 2.8-.5 1.4-1.0 1.5-3.5 1.3-1.5 1.5-.3 4.3 .2 1.4-.4 1.0-1.0 2.3-3.8 3.1-2.5 2.8-3.8 3.6-2.8 1.9-3.0 1.6-1.4 2.8-.7 8.8-.2z"/>
<path fill="#c9eae6" d="M43.9 20.1l3.3-.1 1.4 1.1 .6 1.3 .0 1.5-.6 1.3-.7 .4-2.1 .3-10.0-.4-2.1-.5-1.4-1.1 .0-1.5 1.4-1.5 2.1-.5 5.0 .1 3.1-.4zM50.5 33.7l1.0-.3 .7 .2 .7 .9 2.0 6.8 1.5 1.9 2.2 .9 4.2 .7 2.9 .2 4.2-.4 2.2 .3 2.5 1.7 .5 .8 .0 1.5-1.5 2.3-3.6 3.8-1.1 1.5-.5 1.5 .6 3.0-.2 1.6-4.6 5.0-1.4 .5-4.9-1.7-7.1 .1-6.4-.8-1.8 .7-2.5 2.9-.7 .0-.7-.7-1.1-5.3-1.8-2.8-1.4-1.3-1.4-.8-5.9-1.1-1.0-1.6 .0-1.5 .5-.7 .7-.4 5.7-.8 1.4-.8 .9-1.1 .2-2.2-1.5-4.6-.1-2.3 .6-3.0 1.2-1.5 2.1-.8 2.3-.1 2.1 .6 2.9 1.4 1.4 .0 1.4-1.0 2.6-3.2zM121.3 43.6l3.3-.5 9.9 1.7 7.1-.1 .0 22.0-28.4 .2-5.7-.6-2.1 .6-2.8 1.6-1.4 .1-.7-.5-1.5-2.5-.9-6.1-1.1-1.5-2.8-2.3-.4-.7 .3-1.5 2.1-1.5 1.4-.4 7.1-.3 2.8-.4 1.5-1.0 1.7-3.3 1.1-.9 1.4-.5 4.3-.3 3.8-1.3z"/>
<path fill="#87d0c5" d="M50.4 39.8l1.1-.3 .7 .1 .7 .8 1.4 3.0 1.4 1.0 14.2 3.0 .5 .8-.3 1.5-2.3 2.8-2.1 1.4-1.5 .1-2.8-.8-1.4 .2-.7 .5-3.6 5.2-2.1 1.5-2.8 .6-6.4-.3-3.6 .9-1.4-.2-5.9-5.1-.2-.8 4.0-2.1 1.6-1.7 .6-2.2-.2-5.3 .8-1.9 1.4-.5 5.7 .3 1.4-.7 1.8-1.8zM121.2 45.1l3.4-.6 5.7 1.2 1.8 .9 .6 .8 .0 1.5-2.4 3.1-1.5 1.2-1.4 .6-8.5 .5-2.1-.2-1.4-.8-2.9-2.7-.5-.9-.1-1.5 .6-.9 1.3-.7 3.7-.3 3.7-1.2z"/>
<path fill="#0c7169" d="M54.7 47.4l1.7-.7 1.5 .1 .9 .6 .4 .8-.1 1.5-4.8 5.2-1.4 .5-.7-.1-.7-.5-.7-1.3 .1-2.3 1.3-2.1 2.5-1.7z"/>
<path fill="#f5f4f0" d="M-5.3 10.2l.0-.2 7.1-.1 2.1 .2 1.9 .9 1.2 1.5 .4 1.5 .0 2.3-.8 2.3-1.3 1.1-2.1 .6-8.5 .1 .0-10.2zM62.2 16.3l2.0-.5 2.2-.1 4.9 .7 5.0 .0 2.1 .3 1.5 .9 1.0 1.7 .6 4.6-.4 3.0-.6 1.5-1.2 1.6-3.3 3.0-2.2 3.8-.7 .7-7.4 3.8-2.2 .6-2.1 .1-1.4-.2-1.4-.6-1.5-1.8-.6-3.4 .6-3.0 .8-1.1 1.4-1.0 5.7-.5 1.4-.5 1.4-1.5 .2-1.5-.4-1.5-.6-.8-5.4-3.0-2.0-2.3 .0-.7 .3-.8 2.3-1.5zM117.1 28.4l4.6-.2 3.0 1.0 1.2 1.5 1.6 5.3 .2 .8-.6 .7-4.6 1.2-5.7 2.9-5.0 .5-1.4 .5-1.4 1.0-2.9 3.4-2.1 1.0-2.1 .2-2.9-.3-2.1-.9-1.4-1.1-.8-1.5 .1-1.6 1.4-1.2 4.3-2.5 2.8-3.6 1.4-.7 4.3-.3 2.0-.8 1.5-1.4 2.1-2.8 2.5-1.1zM-5.3 55.0l.0-.4 17.0 .2 7.1-.3 2.1 .8 2.9 3.7 1.4 1.1 5.7 .9 1.4 .6 1.4 1.6 .6 1.6-.4 6.9 .1 6.8-39.3 .0 .0-23.5z"/>
<path fill="#f5f3ec" d="M-5.3 11.8l5.7-.3 2.8 .4 1.4 .8 .7 1.2 .2 1.6-.2 1.0-.9 1.3-1.9 .9-2.1 .1-5.7-.2 .0-6.8zM63.3 17.8l1.7-.5 1.4-.1 4.9 1.2 4.3-.1 1.6 .3 1.2 .8 1.0 1.5 .3 1.5 .0 2.2-.5 2.3-.9 1.5-3.7 3.8-2.7 3.8-1.5 1.5-5.0 3.1-1.9 .6-2.1 .2-2.1-.5-1.7-1.8-.5-3.1 .2-1.5 .6-1.5 .7-.8 1.4-.8 5.0-.4 2.1-.6 1.2-1.2 .5-1.5-.1-1.5-.9-1.9-4.4-2.7-.8-.7-.5-1.6 .4-.7 .8-.8zM118.6 30.0l3.1 .0 1.5 .7 .8 .8 .7 1.5 .1 1.5-.5 1.5-.8 .8-6.4 3.8-1.7 .4-3.6 .2-2.1 .7-1.4 1.2-2.2 2.8-2.1 1.3-1.4 .3-2.1-.2-2.2-.7-.9-.7-.5-1.5 .7-1.6 3.6-2.5 2.8-2.8 1.4-.9 5.7-1.2 1.4-.9 3.6-3.6 2.5-.9zM-5.3 55.7l.0-.3 17.0 .2 7.1-.4 2.1 1.1 2.4 3.2 1.2 1.0 1.4 .5 4.3 .5 1.4 .5 1.4 1.3 .7 2.3-.5 6.1 .1 6.8-38.6 .0 .0-22.8z"/>
<path fill="#f5efde" d="M-0.5 13.3l2.3 .1 1.2 .6 .5 .8 .0 .7-.5 .8-1.9 .8-6.4-.5 .0-2.8 4.8-.5zM64.5 19.3l1.9-.5 4.9 1.4 3.6-.2 1.4 .2 1.6 1.4 .4 1.5 .0 1.5-1.2 3.1-4.3 4.5-2.7 3.8-1.4 1.5-2.1 1.6-2.4 1.1-1.4 .4-2.1 .1-1.7-.9-1.1-2.0-.1-2.5 .8-2.0 .7-.8 1.4-.6 5.0-.3 2.1-.6 1.1-1.0 .6-1.6 .1-2.2-.7-2.3-1.1-1.2-3.1-1.8-.5-.8 .3-.8zM119.5 31.5l1.5 .2 1.1 .5 .5 .8 .2 1.5-1.1 1.5-4.1 3.1-2.2 .8-4.3 .1-1.4 .5-2.0 1.6-2.3 3.0-1.4 1.0-2.8 .2-1.6-.4-.7-.8-.1-.7 .4-.8 5.5-4.6 1.4-.8 5.0-1.1 2.1-1.4 3.6-3.3 2.7-.9zM-5.3 56.5l.0-.3 17.7 .2 4.3-.5 2.1 .1 1.4 .6 2.8 3.7 1.5 1.0 5.0 .7 1.7 .6 1.1 1.0 .7 2.0-.6 6.1 .1 6.8-37.8 .0 .0-22.0z"/>
<path fill="#f6e9c7" d="M72.4 22.4l2.5 .0 .9 .7 .3 1.5-.5 2.2-.7 1.1-2.1 2.1-1.5 .8-.3-.1-.3-.7 .0-6.1 .6-1.1 1.1-.4zM67.4 32.2l2.2 .0 .2 .8-.8 2.3-1.9 2.2-2.3 1.6-2.3 .7-1.8 .0-1.4-.9-.7-1.4-.1-2.2 .7-1.6 .8-.7 2.1-.6 5.3-.2zM-5.3 57.3l17.7 .1 5.7-.7 1.4 .5 .7 .6 2.2 3.1 1.4 1.1 1.4 .4 4.3 .4 1.4 .5 .8 .8 .5 1.5-.8 6.1 .3 6.8-37.0 .0 .0-21.2z"/>
<path fill="#e2c787" d="M61.4 33.7l2.1-.2 2.9 .2 .9 .8-.1 .8-.8 1.1-1.4 .9-1.5 .4-1.7-.2-1.1-.6-.4-.9 .3-1.5 .8-.8zM-5.3 58.8l17.7 .1 5.7-.6 1.4 .6 2.2 3.2 1.4 1.0 6.6 1.0 .7 .7 .3 1.6-.8 5.3 .4 6.8-35.6 .0 .0-19.7z"/>
<use href="#strip" stroke="#dfbf7c"/>
<g transform="translate(-291.8,-110.0)"><path d="M292.14 114.20H426.11M294.09 118.10H428.06M292.14 122.00H426.11M294.09 125.90H428.06M292.14 129.80H426.11M294.09 133.70H428.06M292.14 137.60H426.11M294.09 141.50H428.06M292.14 145.40H426.11M294.09 149.30H428.06M292.14 153.20H332.39M354.62 153.20H426.11M294.09 157.10H330.44M356.57 157.10H428.06M292.14 161.00H328.48M354.62 161.00H426.11M294.09 164.90H330.44M356.57 164.90H428.06M292.14 168.80H332.39M354.62 168.80H426.11M321.42 172.70H428.06M323.38 176.60H426.11M321.42 180.50H428.06" stroke="#262626" stroke-width="0.95" fill="none" stroke-dasharray="1.2 2.672"/></g>
<use href="#coast"/>
</g>
<rect x="0" y="0" width="136.3" height="72.8" fill="none" stroke="#262626" stroke-width="0.85"/>
</g>
<g transform="translate(428.1,110.0)"><g clip-path="url(#pc)">
<rect width="136.3" height="72.8" fill="#f4f5f5"/>
<path fill="#f0f4f3" d="M36.8 16.3l21.1-.3 2.8 .8 .8 1.0 .5 2.3 .1 11.4-.3 6.0 .4 2.3 .6 1.3 1.4 1.4 1.5 .5 4.9-.1 1.5 .3 1.4 .7 2.8 2.1 1.4 .6 5.0-.2 3.6 .3 1.4-.3 2.1-1.6 2.8-3.6 2.2-1.3 2.1-.1 10.6 1.3 2.2-.2 1.7-1.1 2.5-4.1 1.5-.9 1.4-.4 24.8 .1 .0 34.3-6.4-.5-1.4 .3-.9 .8-.5 .7-.3 1.6 .5 6.8-37.8 .0-.2-6.8 .5-6.1-.3-1.5-.5-.8-.9-.7-1.5-.3-3.5 .2-4.3-.3-1.4 .3-.7 .5-2.4 4.1-1.9 1.3-2.8 .4-8.5 .0-4.3-.5-2.3 .3-.8 .8-.6 1.5 .3 7.6-26.3 .0 .0-12.9-.7-2.3-2.5-5.3-.4-2.3-.1-3.0 .8-3.3 2.8-4.3 .3-4.5 1.4-4.6 .6-3.8-.2-5.3-2.1-6.0-.2-1.6 .7-1.5 .9-.7 3.1-.8zM20.8 36.8l3.7-.3 2.1 .5 2.6 2.1 .6 1.5-.6 1.5-1.5 1.5-6.8 4.0-3.5 .7-5.0-.3-17.7 .0 .0-11.1 22.7 .1 3.4-.2z"/>
<path fill="#edf3f2" d="M56.4 17.8l2.9 .3 .7 .5 .9 1.5 .4 3.0-.3 15.2 .5 2.3 .8 1.5 1.2 1.1 1.5 .6 4.9 .0 2.2 .5 3.5 3.0 2.1 .9 8.6 .2 2.1-.5 1.7-1.3 3.3-4.3 2.1-1.0 11.3 1.5 3.6-.1 2.1-1.4 1.7-3.0 1.2-1.3 2.1-.8 7.1 .3 17.0-.1 .0 30.4-7.1-.2-1.4 .3-1.4 1.0-.9 1.5-.3 1.5 .2 7.6-34.1 .0 .2-12.9-.4-2.3-.9-1.5-1.4-.9-1.5-.3-9.2-.2-2.1 .8-1.2 1.4-1.8 3.0-2.0 1.2-2.1 .2-12.8-.6-1.4 .1-1.5 .6-1.3 1.5-.4 1.5 .0 8.4-22.6 .0 .0-9.1-.3-3.8-.7-2.3-3.0-5.0-.8-4.1 .2-2.3 .6-1.5 3.3-3.8 .8-2.2 .2-4.6 .8-6.1 .3-3.7-.3-3.1-1.0-4.5 .1-2.3 1.4-1.5 2.2-.5 14.2 .2 4.2-.5zM21.9 37.5l2.6-.1 1.4 .4 1.6 1.3 .4 1.5-.6 1.4-.8 .8-4.3 3.1-2.0 1.0-2.8 .4-5.0-.3-17.7 .1 .0-9.2 23.4 .1 3.8-.5z"/>
<path fill="#e0f0ee" d="M37.3 20.1l2.1-.3 12.8 .6 4.9-1.0 2.2 .7 .7 1.4 .2 1.6-.3 14.4 .3 2.3 .8 2.3 1.2 1.5 2.0 1.2 5.7 .1 1.4 .4 1.5 1.1 2.1 2.9 2.1 .8 9.3 .3 2.8-.4 1.4-.7 .7-.8 2.4-4.1 1.9-1.2 1.4 .0 3.6 1.0 2.1 .2 6.4 .2 2.8-.3 1.4-.7 .7-.8 1.9-3.7 1.7-1.1 2.1-.1 5.0 .6 17.0-.2 .0 26.5-7.8 .0-2.1 .4-1.4 .9-1.1 1.8-.4 2.2 .0 8.4-30.4 .0 .0-13.7-.4-3.0-.7-1.5-1.1-1.0-2.1-.5-11.4-.2-2.8 1.0-.7 .7-2.0 3.8-1.6 1.0-1.4 .1-5.0-.5-8.5 .0-2.8 .3-1.4 .6-1.1 1.5-.3 1.5-.1 9.9-19.0 .0 .0-9.9-.5-4.5-1.0-2.3-2.9-3.2-.7-1.4-.4-3.0 .1-1.5 .6-1.5 1.1-1.3 2.5-1.7 1.0-2.3 .9-15.9-.9-7.6 .5-1.5 1.0-.8zM20.1 39.1l4.4-.4 1.4 .8 .3 1.1-.3 .7-1.6 1.5-3.2 2.3-1.6 .8-2.1 .2-5.0-.4-17.7 .1 .0-6.7 22.7 .2 2.7-.2z"/>
<path fill="#c9eae6" d="M56.6 39.8l1.3 .0 2.2 3.8 2.0 2.1 2.1 .7 4.9 .2 1.1 .8 .3 .8-.3 1.5-.7 .7-6.3 5.3-.6 1.6-.2 3.7-1.1 .8-2.0 .2-7.1-1.6-7.1 .6-2.2-.3-1.0-.4-.8-.8-.5-1.5-.2-6.1-1.7-5.4 .0-2.9 .7-1.6 .7-.3 3.6 .8 4.2 .0 4.3 .4 2.1-.8 2.3-2.3zM104.6 47.4l2.2-.4 2.9 .1 6.4 1.9 4.2-.5 2.2 .1 1.4 .9 .6 .9 .1 2.3-1.1 1.5-3.2 2.3-2.5 3.0-1.7 1.1-2.2 .3-9.9-.4-1.3-1.0-.4-1.5 .0-7.6 .3-1.5 .6-.7 1.4-.8z"/>
<path fill="#f5f4f0" d="M65.5 16.3l2.3-.3 5.0 .3 19.1-.2 2.9 .3 1.4 .5 1.2 .9 .8 1.5 .1 1.6-.3 4.5 .3 1.5 .7 .9 2.9 1.7 1.2 1.2 1.0 3.0 .0 3.1-.8 .9-2.1 .9-5.7-.2-2.1 .5-1.5 1.2-2.8 3.6-1.4 1.0-1.4 .4-3.6-.4-5.0 .2-5.6-2.7-5.7 .1-1.4-.4-1.5-1.3-.8-2.3 .3-6.8-.1-9.1 .6-4.6 .7-1.0 1.3-.5zM25.9 22.4l2.9-.7 1.4 .2 1.4 1.1 1.4 2.4 .8 3.0 .0 3.8-.8 3.4-1.4 2.1-1.4 .0-3.6-1.6-2.1-.5-6.4 .5-23.4-.1 .0-13.5 23.4-.1 5.0 .3 2.8-.3zM26.9 45.9l1.1-.2 .8 .3-.9 5.9 .2 3.8 .6 3.1 1.7 4.5 .4 2.3-.4 1.5-.6 .8-3.9 1.1-1.2 1.1-.4 2.3 .6 6.1-30.2 .0 .0-29.5 24.1 .1 2.1-.5 6.0-2.7z"/>
<path fill="#f5f3ec" d="M67.0 17.8l6.5 .6 18.4-.4 2.7 .6 1.0 .7 .8 1.6 .0 5.3 .4 1.5 1.4 1.5 2.3 1.5 1.3 1.5 .4 1.5-.3 1.9-.7 .9-1.5 .7-4.9-.3-2.2 .6-4.2 5.0-2.1 .9-4.3-.4-4.3 .2-5.6-2.0-5.0 .2-1.4-.2-1.6-1.4-.6-2.3 .4-6.8-.2-8.3 .7-3.1 1.3-1.2 1.3-.3zM27.7 23.9l1.8-.2 1.4 .6 1.4 1.9 .5 1.5 .3 2.3-.3 3.0-.5 1.6-.7 1.0-.7 .5-1.4 .0-3.6-1.2-2.1-.2-5.7 .4-23.4-.1 .0-10.5 23.4 .0 5.7 .3 3.9-.9zM24.7 48.2l1.2-.1 .9 .8 .7 7.6 1.8 7.6-.5 1.7-.8 .6-3.2 1.5-1.3 1.5-.5 3.0 .4 6.1-28.7 .0 .0-28.6 17.7 .0 5.7 .2 2.1-.3 4.5-1.6z"/>
<path fill="#f5efde" d="M65.7 20.1l2.1-.7 5.0 1.1 6.4-.5 7.1 .3 4.9-.5 2.2 .3 .9 .8 .5 .9 .0 5.1 .3 1.5 1.2 1.6 3.2 2.2 .5 .8 .0 1.5-.7 .8-1.0 .2-4.2-.6-2.2 .4-1.4 1.3-2.1 3.6-.7 .7-1.4 .6-4.3-.7-4.3 .2-4.9-1.2-5.0 .4-2.1-.4-.8-.7-.3-2.3 .6-6.1-.5-7.6 .3-1.6 .7-1.4zM26.4 26.2l3.1-.7 1.2 .7 .9 1.3 .4 2.5-.2 2.2-.6 1.5-1.0 .9-6.4-1.1-5.7 .3-23.4 .0 .0-7.3 23.4-.1 5.0 .3 3.3-.5zM21.7 50.4l2.8-.6 1.0 .6 .6 1.5 .7 5.4 1.2 5.3-.1 1.5-.5 .7-3.8 2.3-1.2 1.7-.6 2.9 .3 6.8-27.4 .0 .0-27.5 17.7 .0 5.7 .2 3.6-.8z"/>
<path fill="#f6e9c7" d="M-5.3 52.7l17.7-.1 5.7 .4 5.0-1.0 1.4 .5 .7 1.6 1.5 8.5-.8 1.5-3.5 1.8-1.4 2.0-.5 3.0 .1 7.6-25.9 .0 .0-25.8z"/>
<g transform="translate(-428.1,-110.0)"><path d="M428.81 114.20H562.78M430.76 118.10H560.83M428.81 122.00H562.78M430.76 125.90H560.83M428.81 129.80H562.78M430.76 133.70H560.83M428.81 137.60H562.78M430.76 141.50H560.83M428.81 145.40H562.78M430.76 149.30H560.83M428.81 153.20H562.78M430.76 157.10H560.83M428.81 161.00H457.35M503.01 161.00H562.78M430.76 164.90H455.39M504.96 164.90H560.83M428.81 168.80H453.44M503.01 168.80H562.78M504.96 172.70H560.83M503.01 176.60H562.78M504.96 180.50H560.83" stroke="#262626" stroke-width="0.95" fill="none" stroke-dasharray="1.2 2.672"/></g>
<use href="#coast"/>
</g>
<rect x="0" y="0" width="136.3" height="72.8" fill="none" stroke="#262626" stroke-width="0.85"/>
</g>
<g transform="translate(19.2,197.4)"><g clip-path="url(#pc)">
<rect width="136.3" height="72.8" fill="#f7f6f6"/>
<path fill="#fcd5bf" d="M-5.3 -5.7l146.9 .0 .0 17.8-23.4 .1-5.0-.4-2.1 .3-1.8 1.2-2.7 3.8-4.0 2.9-2.3 3.1-4.8 5.7-1.4 1.3-1.5 .6-2.1 .2-2.1-.3-3.6-1.2-2.1 .3-3.6 4.0-4.2 4.0-.5 1.4 .2 4.5-.4 1.9-1.4 1.8-3.4 2.4-.9 1.5 .1 5.3-.3 1.5-1.2 1.4-2.9 2.3-2.8 4.2-.8 .5-1.3 .2-1.0-.2-1.0-.8-.9-2.3 .7-7.6 .0-7.5-.3-2.3-1.1-1.9-3.5-3.0-2.2-3.6-1.4-1.2-2.1-.4-12.8 .9-7.1-1.3-2.2-.9-3.5-3.0-2.5-1.5-1.2-1.6-.2-1.5 .6-6.0-.7-5.4 .8-5.3-.5-2.2-1.2-1.4-1.4-.4-5.0 .6-6.4-2.1-8.5 .0 .0-10.4z"/>
<path fill="#ee9677" d="M39.5 -5.7l57.0 .0 .0 9.9-.7 8.3 .1 2.3 1.4 4.5-.5 2.3-1.3 1.6-2.1 1.5-1.5 .2-2.8-.6-1.4 .0-6.1 1.9-2.4 1.5-2.9 2.7-1.4 .4-5.0-.8-7.8 .6-7.1-.8-7.1 .5-6.4-.7-2.8 .2-5.0 1.0-3.5-.2-.9-.6-.4-.8-1.1-3.8-1.2-.9-3.5-1.4-.7-1.2-.2-1.8 .6-4.6-.7-4.5 .2-2.3 .8-1.5 1.4-.9 2.1-.2 4.3 .6 6.4-2.2 1.9-1.1 1.1-1.5 .2-1.5-1.0-6.1z"/>
<path fill="#c94741" d="M57.4 4.9l3.3-.4 4.3 .0 2.8 .7 4.3 1.6 6.3-.9 7.9 .1 2.8 .5 1.4 .9 .9 2.1 .2 3.0-.4 3.0-.9 1.6-3.3 2.2-3.4 3.1-2.3 .9-5.0 1.4-2.8 .1-3.6-1.3-1.4-1.4-2.8-4.3-1.5-1.0-1.4-.3-2.6 .6-1.6 1.0-.9 1.2-1.3 3.8-.7 .9-1.2 .6-1.6 .2-3.6-.2-6.4 1.3-4.4-.5-1.8-.8-.8-.7-1.5-3.3-.7-1.0-1.4-.8-2.8-1.0-.9-.7-.5-2.3 .3-1.5 .5-.8 3.4-1.9 3.5-2.6 2.9-1.1 5.7-1.2 7.8 .6 5.2-1.4z"/>
<path fill="#900d26" d="M60.0 7.2l2.8-.3 2.2 .3 1.5 .8 3.4 2.8 3.3 1.7 .6 .8 .4 1.5-.1 1.5-.6 1.7-1.4 .8-1.5-.3-1.4-1.3-2.1-2.9-1.4-.8-5.7-.2-2.3-.8-.9-1.5 .1-1.5 1.4-1.5 1.7-.8zM41.3 17.8l2.4 .1 1.4 .9 .5 1.3-.1 .8-1.1 1.6-1.5 .6-1.4 .1-1.4-.6-.9-1.0-.2-.7 .3-1.6 .8-.9 1.2-.6z"/>
<path fill="#cae1ee" d="M0.2 7.2l2.3 .2 1.4 .6 3.6 2.6 3.5 1.9 .7 1.5-.1 1.5-1.3 2.0-3.6 2.2-2.3 3.4-1.2 1.1-2.8 .6-5.7-.4 .0-16.9 5.5-.3zM16.1 36.0l2.0-.3 1.4 .2 6.4 2.1 1.9 1.1 2.4 2.3 1.4 .7 5.0 .0 1.4 .5 .9 1.0 1.9 3.6 3.6 3.1 1.0 1.6 .4 3.1-.7 3.0-1.2 1.5-2.8 2.3-2.4 3.6-1.4 1.1-2.9 .6-7.1-.6-2.1 .4-1.4 1.0-.9 1.5-.3 1.5 .2 7.6-28.1 .0 .0-42.2 17.0 .2 4.4-.5zM82.5 36.0l2.3-.5 15.7 1.1 8.5-.5 2.8 .8 1.4 1.7 .5 2.7 .1 8.4-.4 2.2-1.1 1.6-3.3 2.7-2.5 3.3-3.2 2.5-1.2 2.1-.2 2.3 .3 5.3-.1 6.8-11.2 .0 .2-7.6-.9-3.0-.9-.8-.9-.1-5.7 1.3-1.4-.2-1.4-.6-1.3-1.9-1.6-4.5-2.8-2.5-.9-1.3-.5-2.3 .4-2.3 4.0-4.5 1.5-2.3 .5-1.5-.3-3.8 .4-1.5 1.3-1.7 1.9-1.4z"/>
<path fill="#81bad8" d="M82.3 48.2l1.8-.6 1.4 .0 2.2 .4 1.4 .8 .9 .9 .6 1.5-.4 2.3-1.1 1.0-2.1 .5-5.0-.7-2.1-.8-.5-.8 .2-1.5 1.0-1.6 1.7-1.4zM81.3 61.0l1.4-.5 2.1 .7 .7 .9 .3 1.2-.8 1.5-.9 .5-1.4 .3-1.4-.8-.4-.7-.3-1.5 .7-1.6z"/>
<g transform="translate(-19.2,-197.4)"><path d="M116.41 200.00H152.76M20.74 203.90H37.56M118.36 203.90H154.71M22.69 207.80H39.51M116.41 207.80H152.76M20.74 211.70H29.75M110.55 211.70H154.71M22.69 215.60H27.80M112.51 215.60H152.76M20.74 219.50H29.75M110.55 219.50H154.71M22.69 223.40H27.80M89.08 223.40H152.76M20.74 227.30H29.75M87.12 227.30H154.71M22.69 231.20H31.70M89.08 231.20H152.76M20.74 235.10H60.99M87.12 235.10H154.71M22.69 239.00H66.85M89.08 239.00H152.76M55.88 242.90H68.80M87.12 242.90H154.71M53.93 246.80H70.75M89.08 246.80H152.76M55.88 250.70H68.80M87.12 250.70H154.71M53.93 254.60H66.85M89.08 254.60H152.76M48.07 258.50H64.89M87.12 258.50H154.71M42.22 262.40H62.94M89.08 262.40H152.76M28.55 266.30H45.37M87.12 266.30H154.71" stroke="#262626" stroke-width="0.95" fill="none" stroke-dasharray="1.2 2.672"/></g>
<use href="#coast"/>
</g>
<rect x="0" y="0" width="136.3" height="72.8" fill="none" stroke="#262626" stroke-width="0.85"/>
</g>
<g transform="translate(155.5,197.4)"><g clip-path="url(#pc)">
<rect width="136.3" height="72.8" fill="#f7f6f6"/>
<path fill="#fcd5bf" d="M59.2 6.4l1.5-.5 2.1-.2 2.9 .7 1.4 1.3 2.8 3.9 2.2 .9 9.2-.1 5.7-.4 2.1 .4 1.4 1.1 2.1 4.2 1.3 .9 3.7 .9 5.7-.1 2.8 .6 1.5 .9 3.5 2.9 3.5 1.1 2.2 1.2 2.8 4.1 1.4 1.0 1.5 .3 4.2 .0 1.4 .6 .9 .9 .6 1.2 1.2 5.6 1.4 1.5 1.6 .7 1.4 .1 6.4-.2 .0 18.8-6.4 .1-4.2-.5-2.2 .1-2.1 1.2-2.8 4.2-1.4 .8-2.2-.5-1.0-1.3-.4-1.5 .5-6.0-.6-5.4 .1-5.3-.6-2.2-.8-1.1-1.9-1.2-2.4-.8-2.1-.2-4.3 .3-2.1-.7-2.8-3.8-3.6-3.0-1.7-3.2-1.1-1.3-2.1-.5-4.3 .2-1.4-.5-.9-.9-2.0-3.5-1.4-1.0-2.1-.5-2.9-.1-6.3 1.3-1.5-.1-1.4-1.0-2.1-3.2-1.4-1.3-1.5-.3-4.2 .1-1.4-.5-.7-.6-.9-1.5-.5-3.7 .6-3.2 .8-1.1 1.3-1.1z"/>
<path fill="#cae1ee" d="M-5.3 -5.7l39.4 .0 .0 7.6-.5 6.8 .4 6.1-.1 5.3 .4 1.5 .8 1.5 3.6 2.6 1.1 2.0 .4 2.3-.2 2.2-.4 1.5-.9 1.4-1.4 1.0-2.9 .5-39.7-.2 .0-42.1zM96.6 -5.7l45.0 .0 .0 42.4-4.9 .9-2.2-.2-1.4-1.1-1.8-4.8-1.7-2.0-2.2-.5-4.2 .0-1.4-.6-4.3-4.7-6.4-4.8-2.1-1.1-3.6-.9-6.4-.2-2.4-1.2-.6-.7-.4-1.5 1.2-6.1-.2-12.9zM77.4 25.4l2.5-.3 2.1 .5 1.4 1.2 2.1 3.7 1.5 .9 1.4 .2 4.2-.2 1.5 .6 2.7 4.0 3.7 2.9 1.8 3.2 1.0 1.1 2.1 .7 5.7 .2 2.4 1.0 1.1 1.5 .2 1.6-.3 2.2-1.2 2.3-4.3 3.0-2.2 3.5-1.4 1.3-1.4 .4-4.3-.2-1.5 .3-.8 .8-1.9 3.8-1.4 1.0-2.9 .3-4.2-.9-2.2-.1-6.4 1.0-1.4-.1-1.4-.7-2.8-4.0-3.6-2.9-2.6-3.5-2.8-2.2-1.0-1.3-.5-2.5 .1-9.1 .5-2.3 1.4-1.5 2.1-.5 4.2 .2 2.2-1.0 .9-1.8-.2-4.5 .5-1.5 1.6-1.5 1.8-.8zM30.5 60.3l3.9-.3 2.9 .4 1.8 1.4 .5 2.3-.4 1.5-1.2 1.1-1.4 .5-5.0 .0-1.4 .5-1.1 .9-.8 1.5-.2 1.6 .4 6.8-33.8 .0 .0-11.9 5.7 .4 2.8-.5 1.4-1.1 2.3-3.6 1.3-.9 1.4-.4 7.1 .2 9.2-.1 4.6-.3z"/>
<path fill="#81bad8" d="M19.2 5.7l6.0-.1 2.5 .8 .9 1.6 .2 1.5-.4 1.5-1.1 1.1-1.4 .4-4.2-.1-2.2 .4-1.4 1.0-2.8 3.6-2.2 .9-6.4-.3-12.0 .1 .0-11.9 18.4 .0 6.1-.5zM121.3 12.5l1.2-.2 1.4 .5 .7 .7 .6 1.3 .4 9.1-.3 1.1-.7 .6-1.4 .0-1.5-1.0-2.8-3.1-1.1-2.2 .1-1.5 1.1-3.0 1.1-1.5 1.2-.8zM81.4 42.8l1.3-.4 2.1-.2 4.3 .6 5.7 .1 1.4 .8 .6 5.2-.4 3.0-.9 1.3-3.7 2.5-2.0 4.5-1.3 .8-2.2 .4-3.6-.2-1.4-.4-1.2-1.3-.4-2.2-.5-9.9 .7-2.9 1.5-1.7z"/>
<g transform="translate(-155.5,-197.4)"><path d="M225.75 200.00H289.43M157.41 203.90H166.42M223.80 203.90H291.38M155.46 207.80H172.28M225.75 207.80H289.43M157.41 211.70H170.33M223.80 211.70H291.38M155.46 215.60H172.28M225.75 215.60H289.43M157.41 219.50H170.33M223.80 219.50H291.38M155.46 223.40H172.28M225.75 223.40H289.43M157.41 227.30H170.33M223.80 227.30H291.38M155.46 231.20H172.28M225.75 231.20H289.43M157.41 235.10H197.66M223.80 235.10H291.38M155.46 239.00H203.52M225.75 239.00H289.43M188.66 242.90H209.38M223.80 242.90H291.38M190.61 246.80H211.33M225.75 246.80H289.43M192.56 250.70H209.38M223.80 250.70H291.38M190.61 254.60H211.33M225.75 254.60H289.43M184.75 258.50H201.57M223.80 258.50H291.38M178.89 262.40H199.62M225.75 262.40H289.43M165.22 266.30H182.04M223.80 266.30H291.38" stroke="#262626" stroke-width="0.95" fill="none" stroke-dasharray="1.2 2.672"/></g>
<use href="#coast"/>
</g>
<rect x="0" y="0" width="136.3" height="72.8" fill="none" stroke="#262626" stroke-width="0.85"/>
</g>
<g transform="translate(291.8,197.4)"><g clip-path="url(#pc)">
<rect width="136.3" height="72.8" fill="#f4f5f5"/>
<path fill="#f0f4f3" d="M23.3 4.2l4.7-.7 5.0 .5 1.4 .5 1.4 1.2 .4 .7 .0 1.6-1.6 2.2-2.3 1.4-3.5 .6-3.8-.4-2.8-1.6-1.6-2.2 .0-1.6 .4-.7 .7-.8 1.6-.7zM50.4 33.0l1.1-.3 .7 .1 2.8 2.5 2.9 1.4 3.5 .5 6.4-.6 2.8 .2 2.9 .9 3.5 2.5 2.2 .5 3.5-.1 3.6 .4 1.4-.3 1.4-1.5 2.1-3.5 1.4-.9 1.5-.4 14.9 .1 4.9-.7 1.5 .2 1.4 .8 4.2 4.7 2.2 1.0 6.4-.3 4.9 .5 7.1-.1 .0 28.2-6.4-.5-1.4 .3-.7 .5-.7 1.0-.3 1.6 .5 6.8-49.4 .0 .5-6.1-.4-2.3-.6-.9-1.4-1.0-1.4-.4-1.5 .0-1.5 .8-.6 .8-.5 1.5 .3 7.6-10.1 .0 .4-7.3-.6-1.8-.8-1.0-2.2-.6-5.7 1.1-2.1-.1-2.1-.5-1.7-1.2-2.2-3.8-3.2-2.8-2.1-2.9-2.2-.9-2.8-.1-1.0-.9-.4-8.3 .7-2.2 9.2-9.9 3.2-2.3z"/>
<path fill="#edf3f2" d="M24.5 5.7l3.5-.7 3.6 .4 1.8 1.0 .5 .8 .0 1.5-1.2 1.5-1.8 .9-2.9 .2-2.3-.3-1.6-.8-1.2-1.5 .0-1.5 .5-.8 1.1-.7zM49.5 35.3l1.3-.5 1.4 .2 4.2 2.1 2.9 .6 2.8 .1 6.4-.5 2.1 .1 2.3 .9 3.4 2.8 1.4 .7 7.1 1.0 2.2 .0 2.1-.8 1.2-1.4 1.8-3.1 2.0-1.2 2.1-.2 12.8 .3 4.9-.6 1.5 .2 1.4 .7 3.5 4.1 2.2 1.3 5.6-.2 6.4 .7 7.1 .0 .0 24.2-7.1-.2-1.4 .3-1.4 .9-.7 1.1-.5 2.0 .2 7.6-45.6 .0 .4-6.8-.7-2.6-.9-1.2-1.9-1.3-1.4-.4-2.2-.1-1.4 .4-1.0 .6-1.5 2.3-.4 3.0 .3 6.1-6.7 .0 .2-7.6-.6-2.3-1.2-1.5-1.2-.7-2.1-.5-6.4 1.1-2.8-.6-1.4-1.2-2.2-3.4-5.5-5.3-4.4-2.2-.7-.8-.5-1.6-.3-3.0 .1-1.5 .5-1.5 8.0-8.8 2.3-1.8z"/>
<path fill="#e0f0ee" d="M25.6 7.2l2.4-.7 2.2 .3 1.4 .8 .2 1.1-.7 .8-1.6 .5-2.9-.2-.9-.3-.7-.8 .0-.7 .6-.8zM50.7 36.8l1.5-.1 4.2 1.2 3.6 .5 8.5-.4 2.1 .2 2.0 .9 3.0 2.9 1.4 .9 2.9 .9 4.2 .8 3.6-.1 2.8-.9 .7-.8 1.9-3.7 1.7-1.1 2.1-.1 4.3 .5 7.8 .0 4.9-.8 2.3 .7 1.3 1.4 1.8 3.1 1.7 1.1 2.2 .3 5.6-.1 5.7 .4 7.1 .0 .0 20.3-9.2 .1-1.4 .4-1.4 1.0-.7 3.1 .0 9.1-41.9 .0 .3-6.8-.4-2.3-.8-1.5-1.3-1.6-2.1-1.3-2.1-.6-2.9 .0-1.4 .5-1.4 1.0-1.9 2.7-.6 3.1 .2 6.8-3.1 .0 .2-6.1-.2-2.3-.8-2.2-1.6-2.1-1.4-1.0-2.2-.5-2.1 .0-5.0 1.0-2.1-.4-.9-.8-2.7-3.8-2.8-2.2-2.8-2.7-3.6-2.0-1.1-1.5-.5-3.0 .3-1.5 .6-1.2 3.6-3.4 3.8-4.5 1.1-.9 1.4-.6z"/>
<path fill="#c9eae6" d="M51.0 39.1l1.9-.5 9.2 .6 7.1-.4 1.4 .2 1.5 .8 3.3 3.8 4.0 2.3 1.3 1.5-.2 1.5-2.1 3.8-.1 2.3 .7 4.5-.6 1.5-7.1 4.8-.7 .0-3.5-2.5-2.1-.8-3.6-.2-5.0 .8-1.4-.5-2.1-3.4-3.6-1.9-3.5-2.9-2.9-1.8-.8-.7-.7-1.5 .0-1.5 .8-1.7 4.3-2.9 2.8-3.9 1.7-1.3zM86.7 47.4l2.7 .0 4.0 1.8 1.4-.2 4.2-1.3 5.7-.2 5.0-.7 12.0 1.1 1.5 .7 1.9 3.3 4.1 3.8 1.0 2.3-.1 1.5-.7 .8-3.5 2.3-2.7 2.7-3.4 2.6-.9 1.2-.7 2.6 .4 6.8-29.1 .0 .4-6.1-.2-2.3-1.9-3.7-3.3-4.6 .0-.8 1.0-2.5 .4-2.0 .0-2.3-.9-5.3 .4-.7 1.3-.8z"/>
<path fill="#87d0c5" d="M67.4 39.8l2.5 .1 1.4 .8 1.0 1.4 2.5 5.3 .1 .8-.8 3.0 .3 5.3-.1 1.5-.8 1.5-1.4 1.2-1.5 .3-4.9-1.3-5.0-.1-2.1-.4-3.6-2.6-5.5-1.6-5.1-3.7-.6-.9-.1-.7 .7-.9 3.5-.9 2.2-1.3 1.4-1.5 2.1-3.7 1.3-.8 3.0-.5 6.3 .1 3.2-.4zM108.9 48.9l2.2-.2 2.1 .3 5.7 2.5 2.1 1.5 2.7 2.7 .9 1.6 .1 .7-.8 1.5-1.4 1.7-5.7 4.6-2.5 3.6-.7 3.0 .6 6.1-12.0 .0 .5-6.8-1.0-3.1-1.2-1.5-1.5-.9-1.4-.2-3.5 .6-2.2-.8-1.6-2.5-.3-1.5 .2-2.3 .7-2.2 .9-1.6 5.4-4.5 2.5-.9 5.0-.1 4.2-1.3z"/>
<path fill="#0c7169" d="M58.0 42.1l2.0-.5 5.0 .3 2.8-.3 1.7 .5 .4 .7-.2 .8-1.6 3.0 .3 5.3-.3 1.6-.5 .7-1.9 .9-4.3 .5-7.8-2.2-1.6-.7-.5-.7-.2-.8 .6-1.5 3.8-3.3 .7-1.2 .8-2.4 .8-.7zM108.6 51.2l1.8-.5 1.4 .0 2.9 1.2 3.5 3.1 1.0 1.5 .2 1.5-.7 1.5-3.9 3.1-3.5 3.8-1.6 .9-2.2 .4-2.1-.9-4.2-4.3-4.1-2.2-.6-.8-.2-1.5 .7-2.3 1.2-1.5 .8-.6 1.5-.4 4.2 .3 1.4-.6 2.5-1.7z"/>
<path fill="#f5f4f0" d="M-5.3 10.2l17.7 .1 5.7-.6 5.7 2.7 2.1 .4 2.9 .2 2.8-.3 2.1-.6 4.3-2.3 2.8-.1 2.9 .9 1.4 1.0 2.6 3.9 2.5 2.3 1.1 1.5 .8 2.3 .2 3.0-.3 3.1-1.0 2.3-3.8 3.5-6.4 7.1-3.2 3.0-1.5 2.3-.2 1.5 .2 4.5-.4 3.8 .3 1.6 1.3 1.3 4.2 .9 .5 .8 .0 .7-1.5 5.4-1.1 1.2-2.9 1.8-1.0 1.5-.1 2.3 .7 5.3-41.4 .0 .0-68.3zM57.1 16.3l2.9-.3 2.1 .9 .8 .9 1.6 3.1 1.2 .9 .7-.3 .5-.6 1.6-3.2 1.4-1.1 2.2-.2 1.4 .5 .7 .7 2.1 4.0 1.4 1.5 2.2 1.5 1.0 1.6 .4 2.2 .2 8.4-.9 1.5-1.4 .6-1.5 .0-4.4-2.1-3.4-.8-2.8-.1-5.7 .7-2.1-.2-2.2-.7-1.6-1.2-1.1-1.5-.5-2.3 .8-4.5 .0-5.3 .7-3.1 .5-.7 1.2-.8zM121.9 16.3l19.7 .0 .0 15.9-5.7-.6-1.4 .2-1.0 .4-.8 .8-1.2 3.8-1.2 1.1-2.9 .8-2.8 .4-1.4-.1-1.5-.7-3.8-4.6-.8-1.5-.2-1.5 .6-3.8 .0-5.3 .3-2.3 1.1-1.8 1.4-.8 1.6-.4z"/>
<path fill="#f5f3ec" d="M38.2 11.8l1.9-.2 1.4 .2 1.4 .6 1.2 .9 2.4 3.4 3.4 3.4 .7 2.3 .2 2.2-.5 3.1-1.0 1.8-9.9 10.7-3.8 3.4-.9 1.5-.3 2.3 .2 3.8-.3 3.8 .2 2.3 .6 1.5 .7 .7 2.7 1.5 .7 .8 .4 1.5-.4 1.5-.5 .9-3.6 2.7-1.1 1.7-.2 2.3 .4 6.1-39.5 .0 .0-66.4 17.7 .1 5.7-.3 6.4 1.6 4.3 .3 4.9-.5 4.5-1.5zM58.4 17.8l1.6-.1 1.4 .8 2.8 4.4 1.5 .8 1.5-.6 2.7-4.2 1.4-.5 1.5 .5 2.8 4.3 3.0 3.0 .8 1.5 .2 1.5-.1 3.0-.5 3.1-.6 .9-1.4 .7-4.9-1.3-3.6-.4-8.5 .7-2.1-.6-1.2-.8-1.1-1.5-.4-1.5 .8-5.3 .0-4.6 .6-2.3 .5-.7 1.3-.8zM121.3 18.6l1.2-.5 2.1-.2 5.7 .4 11.3 .0 .0 11.8-5.7-.2-2.8 .4-1.6 1.2-1.8 3.8-1.6 1.5-2.8 .8-1.4 .0-1.4-.6-2.4-2.5-.8-1.5-.3-1.5 .2-9.9 .6-1.5 1.5-1.5z"/>
<path fill="#f5efde" d="M15.1 14.0l3.7 .0 5.0 .7 5.7 .2 4.9-.3 4.3-1.0 2.1-.1 2.1 1.1 2.3 3.2 2.7 2.3 1.1 1.5 .4 3.0-.8 3.1-10.6 11.7-4.3 3.4-1.1 2.3-.2 3.8 1.1 9.9 .9 1.6 2.8 2.2 .4 1.5-1.2 1.5-2.8 1.5-1.1 1.5-.4 3.1 .2 6.8-37.6 .0 .0-64.4 20.4-.1zM58.5 19.3l.8-.2 1.4 .5 2.8 4.1 2.2 1.4 1.4 .0 .7-.4 2.6-3.8 .9-.5 .8 .2 5.6 7.2 .4 2.9-.4 2.3-.7 1.3-1.4 .7-7.8-.6-6.4 .9-2.1-.2-1.4-.6-1.3-1.5-.3-2.3 .7-3.8 .1-5.3 .6-1.5 .8-.8zM122.4 20.1l2.2-.4 5.7 .6 11.3 .0 .0 7.9-7.1-.1-2.8 .4-1.3 .7-.6 .8-1.4 3.7-1.0 1.3-2.1 .8-2.1-.3-1.7-1.8-.7-2.2 .1-9.1 .6-1.5 .9-.8z"/>
<path fill="#f6e9c7" d="M59.2 20.9l.8-.1 .7 .6 2.8 4.0 2.2 1.2 1.4 .3 1.4-.3 2.8-2.4 .8 .2 3.7 4.0 .3 2.3-.5 1.9-.7 .6-1.4 .4-6.4-.2-5.7 1.2-1.5-.1-1.6-.8-1.0-1.5-.1-1.5 .7-3.8 .3-4.5 .4-1.0 .6-.5zM-5.3 30.7l.0-.3 17.7 .0 5.0-.3 2.8 .4 1.5 1.0 1.1 2.2 .2 3.1-.4 3.0-.7 1.5-.9 .8-1.5 .6-1.4 .2-6.4-.3-17.0-.3 .0-11.6zM26.9 52.7l1.9-.1 1.4 .5 1.2 1.9 .4 2.3 .0 2.2-.6 1.5-1.0 .6-5.7 .8-12.1-.2-4.0-1.2-1.0-.7-.9-1.5-.2-1.5 .4-1.6 1.5-1.5 1.4-.6 5.0-.8 9.2 .2 3.1-.3z"/>
<path fill="#e2c787" d="M59.7 24.6l.3-.5 .7 .3 4.4 4.8 .1 2.3-.5 .7-1.2 .8-2.8 .5-1.4-.4-.8-.9 .0-2.2 1.2-5.4zM13.1 55.7l2.9-.4 12.0 .1 1.5 .9 .2 1.7-.9 1.1-2.2 .6-12.0 .1-2.2-.7-1.1-1.1 .0-.7 .5-.8 1.3-.8z"/>
<use href="#strip" stroke="#dfbf7c"/>
<g transform="translate(-291.8,-197.4)"><path d="M292.14 200.00H426.11M294.09 203.90H428.06M292.14 207.80H426.11M294.09 211.70H428.06M292.14 215.60H426.11M294.09 219.50H346.06M356.57 219.50H428.06M292.14 223.40H348.01M354.62 223.40H426.11M294.09 227.30H346.06M356.57 227.30H428.06M292.14 231.20H348.01M354.62 231.20H426.11M294.09 235.10H342.15M364.38 235.10H428.06M292.14 239.00H340.20M366.33 239.00H426.11M294.09 242.90H342.15M368.28 242.90H428.06M292.14 246.80H340.20M366.33 246.80H390.96M409.29 246.80H426.11M294.09 250.70H342.15M368.28 250.70H389.01M411.24 250.70H428.06M292.14 254.60H340.20M366.33 254.60H387.06M413.19 254.60H426.11M294.09 258.50H389.01M411.24 258.50H428.06M292.14 262.40H387.06M409.29 262.40H426.11M294.09 266.30H428.06" stroke="#262626" stroke-width="0.95" fill="none" stroke-dasharray="1.2 2.672"/></g>
<use href="#coast"/>
</g>
<rect x="0" y="0" width="136.3" height="72.8" fill="none" stroke="#262626" stroke-width="0.85"/>
</g>
<g transform="translate(428.1,197.4)"><g clip-path="url(#pc)">
<rect width="136.3" height="72.8" fill="#f4f5f5"/>
<path fill="#f0f4f3" d="M82.6 34.5l2.2-.7 3.6 .7 4.2-.1 2.2 .3 1.8 1.3 2.3 3.8 2.3 .8 6.3-.4 14.2 .0 7.1 .4 12.8-.1 .0 28.1-6.4 .2-4.9-.6-2.3 .4-1.3 1.5-.2 1.6 .4 6.8-43.9 .0 .6-6.1-.4-2.3-3.2-3.7-1.6-2.3-1.4-1.1-1.0 .3-.7 1.5 .8 6.9-.2 6.8-9.8 .0-.1-6.8 .5-5.3-.1-1.6-.8-1.5-1.2-.7-.9-.2-5.6 .5-5.7-.8-1.2-1.1-1.7-3.4-3.8-2.6-1.6-3.1-.8-.7-1.6-.6-2.8 .0-1.4-.8-.4-1.6 .3-1.6 .8-1.5 1.8-1.5 6.0-1.7 1.4-.7 5.0-5.4 1.4-.9 .7 .0 4.3 2.0 5.6 .1 1.5 .4 1.1 .9 2.4 3.2 1.4 .8 1.5 .2 2.1-.3 1.4-.8 3.6-4.1 3.4-2.8z"/>
<path fill="#edf3f2" d="M53.9 36.8l1.1 .0 3.6 1.1 4.9-.2 1.5 .3 1.4 1.0 1.5 2.3 1.3 1.2 2.9 .8 2.1-.1 1.4-.5 1.4-1.0 3.6-4.1 2.1-1.2 1.4-.4 4.3 .4 3.5-.2 2.2 .4 1.4 1.1 2.1 3.1 1.4 .9 1.5 .4 20.5-.3 7.8 .8 12.8-.2 .0 24.3-6.4 .1-5.6-.5-1.5 .2-1.4 .7-1.2 1.4-.7 2.3 .3 7.6-40.2 .0 .4-6.1-.5-3.0-1.1-1.5-2.4-2.3-2.9-4.2-.7-.4-1.4-.1-1.4 .9-.5 .8-.7 2.2 .8 6.9-.2 6.8-6.5 .0 .2-12.9-.6-2.3-1.0-1.3-2.2-1.0-7.1 .2-3.5-.9-1.4-1.4-2.2-3.0-3.0-2.4-2.4-3.1-1.7-1.0-2.8-.8-.7-.4-.4-.8 .3-1.5 1.4-1.5 7.2-2.1 4.3-4.6 1.7-.9z"/>
<path fill="#e0f0ee" d="M82.7 38.3l1.4-.3 3.6 .3 4.9-.3 1.5 .8 2.1 3.2 .7 .6 2.8 .7 21.3-.1 7.8 1.4 12.8-.2 .0 20.4-7.1 .1-4.9-.4-2.2 .4-1.5 .7-1.5 1.5-1.2 3.0-.2 2.3 .2 6.1-36.4 .0 .1-7.6-.7-3.0-.7-.9-3.5-2.9-2.6-4.6-1.0-.5-1.4-.2-1.4 .5-1.4 1.0-1.8 3.0-.4 2.3 .7 6.1-.2 6.8-2.9 .0 .1-12.9-.6-2.3-.9-1.5-1.8-1.5-1.4-.5-7.9 .0-2.8-1.0-3.1-3.8-3.3-2.8-2.1-2.8-1.4-1.1-2.2-.9-.7-.8 .0-.7 1.4-1.0 5.7-.9 1.4-1.2 2.2-3.0 2.1-1.3 4.3 .5 5.6-.3 1.5 .8 1.7 2.6 1.1 1.1 2.1 .8 3.6 .3 2.1-.2 1.4-.6 2.9-3.7 2.1-1.5z"/>
<path fill="#c9eae6" d="M55.7 40.6l2.9 .0 4.2-.5 1.4 .2 .8 .4 1.9 2.9 .9 .7 5.7 1.4 1.5 .9 .3 .8-.2 1.5-1.9 3.8 1.1 3.0-.1 .8-2.9 3.8-.7 .3-.7-.2-2.1-1.3-2.1-.7-7.1-.1-2.2-.3-1.4-.8-2.8-4.1-2.9-2.5-.5-.9-.2-1.5 2.9-2.8 2.1-3.7 .7-.7 1.4-.4zM97.4 45.1l3.1-.4 21.2 .0 3.8 1.2 4.0 2.3 .7 .7 .2 .8-.3 6.0 .5 4.6-.6 .7-5.4 2.6-4.3 4.1-4.2 .5-1.5 .6-1.5 1.3-.4 .8-.3 1.5 .9 3.8 .2 2.3-16.8 .0 .6-6.1-.2-1.5-1.2-2.3-2.8-2.2-1.1-1.6-.5-2.2-.7-8.4 .1-1.5 .6-1.5 4.6-5.3 1.3-.8z"/>
<path fill="#87d0c5" d="M100.1 46.6l2.5-.2 16.3 .0 2.8 .4 2.0 1.4 1.0 2.2 .6 4.6-.6 3.0-1.7 2.3-3.4 3.1-8.5 4.5-1.4 .5-2.2 .0-4.9-.5-2.1-.5-1.5-1.0-2.2-2.3-.9-2.3 .6-4.5 .0-5.4 1.6-3.7 .9-1.0 1.1-.6zM67.8 47.4l1.4-.3 .7 .2 .6 .9 .0 .7-1.7 2.3-.8 3.8-.6 .7-2.4 .7-5.0 .0-2.1-.5-1.1-.9-.3-.8 .0-1.5 .6-1.8 1.0-1.2 1.9-.8 5.7-.1 2.1-1.4z"/>
<path fill="#0c7169" d="M105.7 48.9l11.1 .2 1.4 .5 .7 .6 .8 1.7 .4 2.3-.2 2.3-1.5 3.0-4.2 3.8-2.4 1.5-2.1 .8-2.9 .1-2.8-.7-1.5-.9-1.0-1.5-.2-1.6 .6-4.5 .1-5.3 .8-1.5 2.9-.8z"/>
<path fill="#f5f4f0" d="M-5.3 10.2l24.8 .0 1.4 .3 1.5 .8 2.6 4.2 1.6 1.1 2.2 .1 4.2-.6 6.4 .2 7.8-.1 2.8 .4 1.9 1.2 .7 1.5 .3 2.3-.6 5.3 .5 4.6-.9 2.2-2.7 3.8-2.7 2.8-2.1 1.0-5.0 1.4-1.6 .9-1.8 2.3-.8 3.0 .1 1.5 .9 1.5 1.1 .7 3.1 .9 .4 .4 .6 3.4 .8 1.2 1.5 .7 2.8 .7 .4 .4 .4 1.5-.1 16.7-52.5 .0 .0-37.5 6.4-.2 5.8 .5 1.8-.7 .4-.8 .0-.7-.9-1.2-1.5-.4-5.6 .5-6.4-.2 .0-27.6zM122.4 10.2l3.6-.1 2.8 .5 1.5 1.0 2.7 3.9 1.5 .8 2.2 .1 4.9-.5 .0 10.6-18.4-.3-2.9-.4-1.4-.9-1.0-1.8-.5-2.2-.1-3.8 .5-3.1 .6-1.5 1.2-1.3 2.8-1.0zM59.1 22.4l3.0-.5 5.7 .4 7.1-.1 3.5 .7 1.5 1.0 1.1 2.3 .9 3.8-.1 2.2-.9 1.5-6.0 7.0-2.1 1.0-2.2-.2-1.4-1.0-2.0-3.0-.8-.6-1.4-.5-4.3 .0-2.1-.4-2.2-1.3-1.4-1.7-.8-2.3 1.2-4.5 1.5-2.3 2.2-1.5z"/>
<path fill="#f5f3ec" d="M-5.3 12.5l.0-.4 17.0 .1 7.1-.3 2.1 .9 3.1 4.3 1.9 1.1 2.1 .3 5.0-.4 7.8 .2 5.7-.3 2.1 .3 1.6 1.0 .8 1.6 .1 1.5-.5 4.5 .2 5.3-.8 2.3-2.8 3.6-1.9 1.7-1.6 .8-5.0 1.2-2.2 1.0-1.7 2.3-1.1 3.8 .2 2.3 .8 1.5 3.3 2.5 2.7 4.3 3.6 2.3 1.0 1.5 .3 2.3-.2 12.9-50.7 .0 .0-35.6 13.5 .0 1.4-.5 1.1-1.1 .5-2.2-.9-2.1-2.1-1.1-13.5 .0 .0-23.4zM121.7 12.5l2.9-.7 2.8 .4 1.7 1.1 2.6 3.3 2.1 1.2 2.1 .2 5.7-.3 .0 7.0-7.1 .1-6.4-.6-4.2 .2-2.9-.8-1.6-2.0-.4-3.8 .6-3.1 .7-1.1 1.4-1.1zM59.6 23.9l3.2-.4 6.4 .7 5.7-.1 2.1 .5 1.9 1.6 1.0 2.2 .3 2.3-.6 2.3-5.1 6.8-1.1 .8-1.3 .3-1.4-.3-.8-.6-2.1-3.1-1.4-1.0-1.4-.3-4.3 .1-1.8-.4-1.3-.8-1.2-1.5-.4-1.5-.1-1.5 1.2-3.8 1.3-1.6 1.2-.7z"/>
<path fill="#f5efde" d="M14.3 14.0l3.1-.4 2.1 .4 1.4 1.4 2.2 3.6 2.1 1.0 2.1 .3 6.4-.2 7.1 .2 5.7-.5 1.5 .3 1.3 1.5 .2 1.5-.5 4.6 .3 3.8-.3 1.5-.7 1.5-2.5 3.1-1.8 1.5-1.9 .7-5.5 .9-2.2 1.1-1.5 2.6-.8 3.8 .1 3.0 1.0 2.3 4.1 3.4 2.3 4.1 3.3 2.1 .8 1.0 .3 2.3-.5 5.3 .2 6.8-49.0 .0 .0-33.9 12.0 .2 3.6-.6 1.2-.6 .9-1.1 .5-1.2 .2-2.2-.2-1.6-.6-1.5-1.3-1.1-1.4-.5-2.9-.3-12.0 .1 .0-20.1 17.0 .1 2.6-.2zM122.6 14.0l2.7-.5 2.0 .5 .9 .8 2.8 3.6 2.1 1.1 2.8 .3 5.7-.1 .0 3.1-7.1 .1-5.7-.7-4.2 .4-2.1-.4-1.5-1.3-.5-2.3 .5-2.9 1.6-1.7zM59.4 25.4l1.3-.5 1.4-.2 7.8 1.3 4.3-.1 1.9 .3 1.1 .7 1.0 1.5 .3 1.6-.1 1.5-.6 1.5-1.8 2.3-1.8 3.0-1.4 1.2-1.5 .0-1.4-1.2-1.2-2.3-.9-.8-2.1-.4-5.0 .1-1.4-.4-1.1-.8-1.1-2.2 .0-2.3 .9-2.3 1.4-1.5z"/>
<path fill="#f6e9c7" d="M61.7 26.2l4.2 .7 2.6 1.5 .4 .8 .0 1.5-1.1 2.1-1.4 .6-4.3 .5-1.7-.2-1.3-.7-.8-1.5 .3-2.9 1.1-1.7 2.0-.7zM17.9 53.5l6.6-.2 3.5-.4 1.5 .2 2.7 2.6 3.1 2.3 .5 .8 .0 1.5-4.2 5.9-2.1 1.3-2.9 .5-4.9 .1-3.6-.3-2.8-.7-2.2-1.3-1.1-1.7-.4-2.3 .3-3.0 .8-2.3 1.1-1.4 1.5-1.0 2.6-.6zM-5.3 55.0l.0-.3 4.9-.3 2.9 .2 1.4 .7 .7 .8 .6 1.2-.1 1.5-.9 1.5-1.7 1.0-2.1 .2-5.7-.4 .0-6.1z"/>
<path fill="#e2c787" d="M18.6 56.5l2.3-.5 2.9-.1 2.1 .4 1.4 .6 1.5 1.3 .9 2.1 .0 1.5-.7 1.5-.7 .8-1.4 .7-3.1 .6-3.6-.2-2.8-1.0-1.5-1.6-.4-2.3 .8-2.3 2.3-1.5z"/>
<use href="#strip" stroke="#e9d3a0"/>
<g transform="translate(-428.1,-197.4)"><path d="M428.81 200.00H562.78M430.76 203.90H560.83M428.81 207.80H562.78M430.76 211.70H560.83M428.81 215.60H562.78M430.76 219.50H560.83M428.81 223.40H562.78M430.76 227.30H560.83M428.81 231.20H562.78M430.76 235.10H560.83M428.81 239.00H562.78M430.76 242.90H482.73M501.05 242.90H560.83M428.81 246.80H484.68M503.01 246.80H523.73M553.77 246.80H562.78M430.76 250.70H482.73M504.96 250.70H521.78M555.73 250.70H560.83M428.81 254.60H484.68M503.01 254.60H523.73M553.77 254.60H562.78M430.76 258.50H521.78M555.73 258.50H560.83M428.81 262.40H523.73M553.77 262.40H562.78M430.76 266.30H560.83" stroke="#262626" stroke-width="0.95" fill="none" stroke-dasharray="1.2 2.672"/></g>
<use href="#coast"/>
</g>
<rect x="0" y="0" width="136.3" height="72.8" fill="none" stroke="#262626" stroke-width="0.85"/>
</g>
<g transform="translate(19.2,285.1)"><g clip-path="url(#pc)">
<rect width="136.3" height="72.8" fill="#f7f6f6"/>
<path fill="#fcd5bf" d="M-5.3 -5.7l146.9 .0 .0 31.2-8.5-.1-7.1-1.8-12.1 1.1-2.8-.2-1.4-.7-1.3-1.4-.5-1.5-.1-5.4-1.0-1.9-1.4-1.6-2.1-.7-4.3 1.0-4.2-.1-1.5 .3-1.4 1.0-1.0 2.0-.4 3.1 .7 3.0 .7 1.0 1.5 .9 1.4 .2 3.5-.1 2.2 .6 1.5 2.0 .1 1.5-.6 1.5-1.8 1.3-5.6 .2-2.2 .9-.7 1.0-.3 1.1 .3 3.8-.3 1.6-.4 .7-1.4 1.1-2.1 .4-5.7-.2-5.0 1.5-4.2-.2-2.4 1.2-1.7 2.3-.2 1.5 .1 3.8-.5 1.5-3.2 3.0-1.0 1.6-.4 1.5 .1 4.5-.4 1.5-1.1 1.3-2.1 .5-1.9-1.0-1.1-2.3-.1-3.0 .9-7.6-.7-2.9-.8-.9-3.4-1.9-2.9-2.4-1.6-1.0-4.0-1.0-6.4-.1-2.9-.4-2.8-1.0-4.3-2.6-2.8-.8-9.9 .3-7.1-.9-5.7 .5-7.1-.1 .0-43.2z"/>
<path fill="#ee9677" d="M102.2 -5.7l39.4 .0 .0 28.3-6.4 .2-2.5-.4-1.7-1.0-3.6-3.3-1.4-.3-3.5 .3-1.5-.5-1.2-1.3-1.7-3.0-1.6-1.5-1.9-.3-2.8 .6-2.1-.9-2.9-3.3-3.1-2.2-1.2-1.5-.5-3.1 .2-6.8zM25.7 4.9l20.8 .0 6.4-.3 3.5 .6 4.3 1.5 5.7-.7 8.5-.1 2.1 .4 1.4 .9 .6 .8 .6 2.2-.4 8.4 .5 6.8-.4 2.3-.9 1.3-1.4 1.0-1.4 .3-4.3-.1-2.1 1.0-.9 1.8 .1 4.5-.6 2.3-2.1 2.2-2.2 .8-4.2-.3-5.0 .4-7.8-2.1-9.2-.2-2.9-.9-4.2-3.6-2.2-.8-5.6-.5-7.1 .5-2.2-.6-1.3-1.0-2.2-2.5-2.8-2.0-.8-1.0-.5-1.3-.3-2.3 .1-2.2 .5-1.5 1.1-1.6 3.4-1.9 1.0-1.1 .4-2.3-.4-4.5 .3-1.5 .8-1.1 2.2-.8 4.9 .4 6.2-1.6z"/>
<path fill="#c94741" d="M113.7 -5.7l27.9 .0 .0 24.7-4.9 .6-2.2-.1-1.4-.7-.7-.8-2.1-3.7-1.5-1.3-1.4-.4-4.2 .2-1.5-.7-3.3-4.1-3.5-2.3-.6-.8-.7-3.0 .1-7.6zM25.0 8.0l3.0-.5 18.5 .3 5.7-.5 2.1 .3 1.9 1.1 2.4 2.3 2.8 2.0 .7 .9 .6 1.6 .2 2.3-.4 3.8-1.1 1.7-1.4 .7-4.3 .0-1.4 .3-1.4 1.0-2.9 3.2-2.1 1.2-2.1 .2-5.0-.5-2.8 .0-7.8 1.5-5.0 .4-5.0-.1-2.1-.4-.7-.7-.2-.9-.2-12.1 .4-3.1 1.1-1.5 4.6-3.5 1.9-1.0z"/>
<path fill="#900d26" d="M25.5 11.0l2.5-.6 6.4 .7 12.8 .1 2.8 .5 .8 .7 .2 .9 .3 6.0-.5 2.3-1.6 2.3-2.0 1.3-1.4 .1-3.6-.5-4.2 .1-1.5-.3-1.4-1.0-1.7-3.5-1.7-1.5-2.2-.5-4.3 .2-1.4-.3-.7-.6-.6-1.9 .3-1.5 1.0-1.5 1.7-1.5z"/>
<path fill="#cae1ee" d="M-5.3 41.3l.0-.6 10.6 .0 5.0 .2 6.4 .9 7.1-.5 8.5 2.7 3.5 .4 6.0 .0 2.6 .5 1.6 1.0 .8 1.5-.2 1.5-1.4 3.8-.1 5.5-.7 1.4-1.5 1.0-1.4 .2-3.5-.1-2.2 .7-1.1 1.2-1.9 3.0-1.2 .9-1.4 .4-7.1-.3-28.4 .1 .0-25.4zM124.7 42.1l2.7-.1 2.1 .8 .9 1.6-.2 2.2-1.2 1.6-2.9 2.2-2.7 3.1-3.3 2.2-2.6 3.8-5.0 5.4-1.4 1.1-2.1 .6-2.2 .0-4.9-1.0-1.4 .3-1.5 .7-1.8 2.0-1.1 2.3-.1 1.5 .5 6.1-11.3 .0 .6-6.1-.4-2.3-1.4-2.2-4.4-4.6-.8-1.5-.5-2.3 .0-3.0 1.7-5.3-.7-3.8 .3-1.5 .5-.8 1.2-.9 2.1-.5 5.7 .4 6.4-1.2 14.2 .1 6.4-.6 4.9 .2 3.7-.5z"/>
<path fill="#81bad8" d="M-5.3 43.6l.0-.2 13.5 .0 2.2 1.0 .6 .7 .3 1.5-.2 .8-.8 1.0-2.1 .9-13.5 .0 .0-5.7zM85.6 48.2l1.4-.6 1.4-.1 7.1 .5 7.8 .2 5.0-.3 2.3 .3 1.5 .7 1.1 1.9 1.1 4.2-.2 2.3-1.6 2.2-2.8 2.0-2.2 .1-5.6-.9-2.9 .6-1.4 1.0-4.2 4.6-1.5 .7-2.1 .0-2.1-1.2-5.1-4.6-1.1-1.5-.6-1.5 .4-2.5 3.1-4.4 .8-3.0 .4-.7z"/>
<g transform="translate(-19.2,-285.1)"><path d="M38.31 285.80H86.37M112.51 285.80H133.23M40.26 289.70H84.42M110.55 289.70H131.28M100.79 293.60H137.14M91.03 297.50H154.71M89.08 301.40H152.76M83.22 305.30H154.71M81.27 309.20H152.76M83.22 313.10H154.71M81.27 317.00H152.76M83.22 320.90H154.71M22.69 324.80H39.51M85.17 324.80H152.76M44.17 328.70H57.08M87.12 328.70H154.71M46.12 332.60H59.04M89.08 332.60H152.76M55.88 336.50H60.99M87.12 336.50H154.71M53.93 340.40H62.94M89.08 340.40H152.76M51.98 344.30H60.99M87.12 344.30H154.71M42.22 348.20H59.04M89.08 348.20H152.76M28.55 352.10H49.27M87.12 352.10H154.71M26.60 356.00H47.32M89.08 356.00H152.76" stroke="#262626" stroke-width="0.95" fill="none" stroke-dasharray="1.2 2.672"/></g>
<use href="#coast"/>
</g>
<rect x="0" y="0" width="136.3" height="72.8" fill="none" stroke="#262626" stroke-width="0.85"/>
</g>
<g transform="translate(155.5,285.1)"><g clip-path="url(#pc)">
<rect width="136.3" height="72.8" fill="#f7f6f6"/>
<path fill="#fcd5bf" d="M51.0 -5.7l90.6 .0 .0 17.8-12.0 .1-6.4-.3-2.2 1.1-2.4 4.1-.9 .7-.9 .2-1.0-.2-1.2-.8-2.7-3.7-1.5-1.1-2.1-.4-6.4-.4-2.9 .6-1.6 1.3-.7 1.5-.1 1.5 .8 1.5 1.6 .9 5.0-.1 2.1 .9 6.6 5.9 .7 2.3-.9 1.9-1.4 .9-2.1 .2-7.8-1.1-11.4 .2-5.7-.3-2.1 .4-1.4 .8-.6 .8-.3 1.5 .6 1.5 1.7 1.4 2.8 .5 14.2-.4 1.9 .8 1.0 1.2 .2 1.1-.8 1.5-1.6 .8-2.1 .4-6.4-.2-7.1 .1-6.4-.7-2.1 .3-3.5 1.0-1.5-.1-.7-.3-2.1-2.8-1.1-.8-5.3-1.5-2.1-1.3-5.8-5.5-2.7-3.9-1.5-1.3-2.8-.7-6.4 .4-2.8-.2-2.2-.7-1.1-1.2-.5-2.3-.1-9.1 .7-3.0 1.0-1.2 2.2-.8 2.8-.2 6.4 .5 2.8-.8 1.3-1.3 .7-2.3-.3-7.6zM86.3 6.3l-.9 .9-.5 1.5 .5 2.3 1.6 1.3 2.1-.2 1.4-1.1 .4-.8 .3-1.5-.4-1.5-.7-.8-1.0-.5-1.4-.2-1.4 .6zM-5.3 42.1l.0-.5 5.7-.2 3.5 .5 1.2 .9 .4 .8 .1 1.5-.4 1.5-1.2 1.6-1.5 .6-2.1 .2-5.7-.3 .0-6.6z"/>
<path fill="#ee9677" d="M60.4 23.9l2.4 .0 2.2 .5 1.7 1.0 1.1 1.4 .8 2.4 .1 2.3-.7 2.2-.8 .8-2.2 .3-2.2-.7-1.5-1.1-4.1-4.6-.7-1.5 .3-1.5 1.1-.9 2.5-.6z"/>
<path fill="#cae1ee" d="M-5.3 4.9l.0-.2 19.1 .0 6.4 1.4 5.7 .1 2.0 1.0 .9 1.5 .4 3.1-.8 14.4 .1 6.0-.3 1.5-.8 1.6-1.5 .9-2.1 .4-14.2-.3-7.8 .8-7.1-.1 .0-32.1zM114.2 42.1l2.6 .1 1.4 .8 .7 1.1 .2 1.0-.7 2.3-4.5 3.3-2.9 3.5-6.3 6.3-4.5 5.1-1.9 1.1-4.9 1.7-2.8 1.7-.6 .8-.4 1.5 1.2 3.8 .3 2.3-11.6 .0 .6-6.1-.4-2.3-1.3-1.8-3.5-3.3-.9-2.4 .0-2.3 .7-6.1-1.5-6.8 .5-1.5 .7-.8 1.2-.8 2.1-.5 6.4 .5 14.9-.1 7.1-1.2 4.3-.2 3.8-.7zM30.6 48.9l2.4-.6 6.4 .4 6.4-.4 2.1 .2 1.9 1.2 2.6 3.8 3.7 3.0 1.0 2.3-.1 3.8-.9 2.2-3.8 3.1-1.0 1.5-.4 3.0 .3 6.1-56.5 .0 .0-17.7 12.8-.2 4.2 .3 2.1-.2 2.0-1.2 2.3-3.6 1.1-.9 1.7-.4 4.3 .0 1.4-.6 1.2-1.3 1.7-2.9 1.1-.9z"/>
<path fill="#81bad8" d="M-5.3 8.0l.0-.5 19.1 .0 2.2 .9 1.1 1.1 .6 1.5-.1 2.3-.9 2.2-.7 1.2-1.4 1.0-1.5 .5-6.4-.3-12.0 .0 .0-9.9zM81.7 47.4l22.3 .2 2.1 .4 1.4 .6 .8 .8 .2 1.0-.5 1.5-1.0 1.6-10.2 9.8-7.0 4.2-2.1 .8-2.2 .2-1.4-.4-2.1-1.7-2.0-2.3-1.1-2.3 .3-6.8-.3-6.1 .4-.7 .6-.4 1.8-.4z"/>
<path fill="#3783bb" d="M86.1 60.3l2.3-.3 2.1 .5 1.2 1.3-.2 1.5-1.0 1.1-1.4 .8-1.4 .3-1.4-.3-1.4-1.1-.4-1.5 .5-1.6 1.1-.7z"/>
<g transform="translate(-155.5,-285.1)"><path d="M174.99 285.80H215.24M253.09 285.80H289.43M176.94 289.70H213.28M251.13 289.70H291.38M225.75 293.60H289.43M223.80 297.50H291.38M225.75 301.40H289.43M223.80 305.30H291.38M225.75 309.20H289.43M223.80 313.10H291.38M225.75 317.00H289.43M223.80 320.90H291.38M155.46 324.80H184.00M225.75 324.80H289.43M176.94 328.70H193.76M223.80 328.70H291.38M182.80 332.60H195.71M225.75 332.60H289.43M184.75 336.50H205.47M223.80 336.50H291.38M186.70 340.40H203.52M225.75 340.40H289.43M184.75 344.30H205.47M223.80 344.30H291.38M178.89 348.20H199.62M225.75 348.20H289.43M165.22 352.10H193.76M223.80 352.10H291.38M163.27 356.00H187.90M225.75 356.00H289.43" stroke="#262626" stroke-width="0.95" fill="none" stroke-dasharray="1.2 2.672"/></g>
<use href="#coast"/>
</g>
<rect x="0" y="0" width="136.3" height="72.8" fill="none" stroke="#262626" stroke-width="0.85"/>
</g>
<g transform="translate(291.8,285.1)"><g clip-path="url(#pc)">
<rect width="136.3" height="72.8" fill="#f4f5f5"/>
<path fill="#f0f4f3" d="M128.1 10.2l3.6-.2 9.9-.1 .0 10.7-4.9-.7-2.2 .1-1.4 .9-2.1 3.5-1.4 1.3-2.9 .3-2.1-.8-1.1-1.3-.6-3.0 .0-3.8 .5-3.1 .6-1.5 1.3-1.3 2.8-1.0zM54.9 33.7l1.5-.6 1.5 .1 3.3 2.1 3.8 1.4 1.3 .8 2.9 4.1 1.4 1.1 2.2 .4 5.6 .1 1.5 .6 2.8 2.8 1.4 .4 5.7-.6 7.8 .3 7.1-.4 7.8 .4 7.8-.5 5.7 .5 2.2-.8 2.6-3.8 1.6-1.2 2.8-.4 6.4 .2 .0 27.9-11.3 .0-5.7-.6-2.1 .4-1.1 1.0-.6 1.5 .3 7.6-32.5 .0 .5-6.8-.7-2.3-.7-.7-1.4-.5-3.6 .4-5.0-.2-1.4 .9-.7 1.6 .4 7.6-10.0 .0 .4-7.1-.6-2.0-.8-.8-2.2-.5-4.9 .7-6.4-.4-1.2-1.3-1.6-3.8-1.5-1.4-6.0-2.4-4.6-2.7-3.6-.6-.7-.5-.3-.7 .6-7.6-1.0-4.6-.1-1.5 .4-1.5 1.1-1.4 1.4-.9 2.9-.7 8.5 .3 3.5-.3 2.2-.8 3.4-2.3z"/>
<path fill="#edf3f2" d="M130.8 11.8l10.8-.1 .0 7.1-4.9-.5-2.2 .1-2.1 1.2-2.1 2.8-1.5 1.3-1.4 .3-1.4-.5-1.0-1.1-.6-2.3 .1-3.0 .6-2.3 .9-1.3 1.3-1.0 3.5-.7zM56.2 35.3l1.7 .0 7.1 2.1 1.4 1.0 2.1 3.3 1.4 1.3 2.2 .7 4.2 .2 1.4 .4 1.3 .8 2.9 3.1 2.2 .6 5.7-.4 8.5 .2 6.4-.7 6.4 .6 8.5-.6 7.1 .3 2.1-.8 3.3-3.8 1.7-1.0 2.1-.3 5.7 .4 .0 23.9-11.3 .0-5.7-.5-2.9 .5-1.6 1.3-1.0 2.2-.2 2.3 .3 6.1-29.0 .0 .2-7.6-.3-1.5-1.0-1.7-1.4-1.0-1.4-.3-4.3 .3-4.3-.1-2.1 .8-1.2 2.0-.4 3.0 .3 6.1-6.6 .0 .1-7.6-.5-2.3-.9-1.3-1.4-.7-1.5-.3-7.1 .5-3.5-.6-1.4-1.2-1.7-2.4-1.2-1.1-7.1-2.9-6.2-4.4-.9-1.5-.1-6.1-1.2-5.3 .4-1.5 .6-.7 1.7-1.0 2.2-.4 7.8 .3 3.5-.2 2.2-.5 4.7-2.0z"/>
<path fill="#e0f0ee" d="M128.4 14.0l2.6-.5 10.6 .1 .0 3.2-5.7-.4-2.1 .3-2.1 1.4-2.9 3.4-1.4 .4-.7-.4-.7-1.2-.1-2.5 .8-2.4 1.7-1.4zM56.5 37.5l4.9-.3 2.1 .4 1.5 .5 1.4 1.3 1.5 2.7 1.3 1.4 2.1 .8 5.5 .8 1.1 .8 3.4 3.9 2.8 .9 5.7-.3 8.5 .1 6.4-.5 5.0 .4 8.5-1.0 8.5 .1 2.9-.9 3.5-3.7 1.4-.7 2.2-.1 4.9 .6 .0 20.0-17.7-.3-2.2 .3-1.4 .6-2.0 1.8-.8 2.3-.3 3.0 .2 6.1-25.9 .0 .1-8.4-.7-2.2-1.1-1.8-1.4-1.0-2.1-.5-10.0 .3-2.1 .8-.7 .7-.7 1.5-.5 3.8 .1 6.8-2.9 .0-.1-9.1-.5-2.3-1.1-1.5-1.4-.6-2.9-.4-7.1 .5-2.1-.3-1.4-.9-2.1-2.5-1.5-1.1-7.1-2.4-4.9-4.4-1.1-1.6-.3-1.5 .1-4.5-1.2-4.6 .3-1.1 .7-.7 .9-.4 2.0-.4 6.4 .3 5.7-.2 5.7-1.3z"/>
<path fill="#c9eae6" d="M61.1 38.3l1.8 .0 2.1 .7 .8 .8 1.6 3.0 1.1 1.3 2.1 1.0 5.0 .8 1.2 .7 1.0 1.6 .8 2.2 .2 1.5-.4 .8-3.4 3.0-2.2 3.6-2.2 1.1-4.2 1.2-5.7 .1-3.6 .8-1.4 .1-1.4-.7-2.8-2.6-2.2-.7-4.2-.8-2.5-1.3-3.9-5.3-.3-.8 .4-3.8-1.3-3.8-.1-.7 .6-1.0 .8-.5 1.3-.3 8.5 .0 6.4 .3 6.1-2.3zM134.4 46.6l1.5-.3 3.6 .9 2.1 .2 .0 14.7-6.4-.2-5.6 .7-6.4-.1-2.9 .8-2.8 1.4-1.7 1.7-.8 2.2-.1 9.9-21.9 .0 .0-8.4-.6-3.0-1.4-3.8 .0-.7 .6-.8 2.5-.8 8.5-.3 4.9 .9 2.2-.1 .8-.5 .9-1.5 .3-6.0 1.3-1.6 2.0-.7 2.5-.4 8.5 .1 3.6-.4 2.1-1.0 2.7-2.9z"/>
<path fill="#87d0c5" d="M60.1 40.6l2.0-.7 2.1 .4 1.5 1.4 1.1 2.7 1.0 1.0 1.4 .7 3.6 .6 1.9 .7 .9 1.5 .0 .8-.9 1.5-4.1 3.4-1.4 .6-13.5-.8-2.1 .3-5.0 1.5-2.1-.1-1.4-.6-.8-1.3 1.3-3.8 .1-2.2-.4-3.8 .5-1.1 1.4-.8 1.4-.1 5.0 1.0 2.8 .0 1.5-.7 2.2-2.1zM115.7 52.7l2.5-.4 10.6 .7 1.1 .5 .7 .7 .4 1.5-.1 1.6-.9 1.5-1.2 .8-1.4 .2-4.2-.2-5.0 2.4-1.4 .3-1.4-.1-.8-.4-.7-1.1-.5-4.2 .5-2.3 .7-.9 1.1-.6z"/>
<path fill="#0c7169" d="M116.2 55.0l2.0-.5 1.2 .5 .6 .7 .2 .8-.4 1.5-1.6 1.4-1.4 .2-1.0-.8-.4-2.3 .8-1.5z"/>
<path fill="#f5f4f0" d="M-5.3 16.3l24.8-.1 2.2 .9 2.8 4.4 1.4 .4 1.3-1.0 1.6-3.1 .7-.7 1.4-.7 2.8-.4 5.7 .3 8.5-.1 1.4 .3 1.5 1.0 2.7 4.1 3.2 2.3 1.0 1.5 .4 1.5 .0 1.5-.5 1.6-7.1 5.3-3.3 .9-8.5-.3-2.9 .2-2.1 .5-1.6 .9-1.2 1.4-2.1 5.1-2.2 .5-4.9 .1-4.3-.3-2.1 .3-2.2 1.2-4.3 3.9-1.0 1.5 .5 1.5 1.3 .6 6.4-1.0 11.4 .4 .6 .2 .8 .9 1.4 3.8 1.4 1.1 5.0-.2 9.6 4.1 1.4 1.5 .4 1.5 .0 1.5-1.0 4.6 .3 6.8-52.6 .0 .0-62.2zM67.0 22.4l2.9-.1 2.9 .7 1.0 .9 2.5 4.2 3.6 2.4 .7 .9 .7 2.3-.1 3.8-.3 2.3-1.0 1.4-5.0 1.2-3.6-.2-1.5-.9-3.4-4.5-4.7-2.3-1.4-1.5-.6-1.5 .1-1.5 2.9-5.4 1.5-1.5 2.8-.7zM103.5 34.5l1.9-.2 1.4 .3 1.5 .7 .7 .8 .9 3.0 .3 3.0-.5 1.5-.7 .5-2.2 .6-2.8 .1-2.2-.4-1.3-.8-.5-.8 .0-1.5 .8-4.5 1.1-1.6 1.6-.7z"/>
<path fill="#f5f3ec" d="M33.1 17.8l6.3 .5 7.1-.5 2.1 .6 1.4 1.2 2.2 3.0 3.5 3.0 .6 2.1-1.0 2.3-5.3 4.3-2.1 .9-2.1 .2-7.8-.4-3.6 .3-2.1 .6-2.3 1.6-2.2 3.8-1.9 1.2-2.1 .3-6.4-.1-3.6 .9-7.1 5.6-.9 2.0 .2 1.5 1.0 1.5 1.9 .8 2.1 .0 4.3-.7 9.9 .1 1.3 .6 .8 .7 2.2 3.8 1.4 1.0 1.4 .2 3.5-.5 1.5 .1 6.4 2.1 1.4 .8 .9 .9 .5 1.5-1.3 6.1 .3 6.8-50.8 .0 .0-60.3 17.7 .1 6.4-.3 2.1 1.1 2.9 4.3 .7 .5 1.4 .2 1.8-1.0 2.5-4.1 1.4-.9 1.5-.3zM65.7 24.6l2.8-.6 2.8 .6 1.5 1.2 2.1 3.4 3.8 3.0 .8 1.5 .3 2.3-.3 2.3-1.1 1.7-1.4 .9-2.1 .7-2.1 .2-1.5-.3-1.4-1.0-2.8-4.0-3.8-2.0-1.2-1.0-.7-1.3 .2-2.2 1.9-3.5 2.2-1.9zM103.2 36.8l.8-.4 1.4-.2 1.4 .6 .8 .7 .6 1.6 .1 1.5-.6 1.5-.8 .7-1.5 .5-1.4-.2-1.6-1.0-.5-1.5 .0-1.5 .6-1.6 .7-.7z"/>
<path fill="#f5efde" d="M14.3 20.1l3.1-.5 2.1 .5 .8 .8 2.0 3.7 .8 .8 1.4 .6 1.4 .1 1.4-.2 1.5-1.0 2.0-4.0 1.5-1.2 2.1-.1 5.7 .8 6.4-.8 1.4 .4 .7 .6 2.2 3.0 2.8 2.1 .7 .9 .2 1.1-.7 1.5-4.3 3.8-1.2 .7-2.5 .4-5.0-.4-4.2 .1-5.7 .8-2.1 1.3-1.8 3.2-1.1 1.2-2.1 .6-5.0-.1-5.0 1.4-2.1 1.2-2.8 2.6-4.0 2.2-.8 1.5-.2 2.2 .5 2.3 .9 1.4 1.4 .8 2.9 .4 14.9-.6 1.4 .8 2.1 3.9 1.5 1.2 2.8 .5 6.4-.2 3.5 .8 1.7 .9 .7 .7 .2 1.6-1.5 5.3 .4 6.8-49.0 .0 .0-58.3 17.0 .2 2.6-.3zM66.0 26.2l2.5-.7 2.1 .6 1.0 .8 2.4 3.8 3.2 2.3 .9 1.5 .3 2.3-.4 1.5-1.2 1.5-2.6 1.2-1.4 .1-1.5-.4-1.1-.9-2.4-3.7-4.1-2.4-.7-.7-.5-1.5 .3-1.6 1.4-2.3 1.8-1.4zM104.4 39.1l.3-.3 1.1 .3 .3 .7-.7 1.0-1.0-.2-.3-.8 .3-.7z"/>
<path fill="#f6e9c7" d="M67.8 27.7l1.4 .1 .7 .4 2.2 3.8 3.0 1.7 .8 .8 .5 1.5-.1 1.5-.8 1.6-1.2 .7-1.5 .2-1.5-.5-2.8-4.3-3.8-2.2-.6-.8-.1-1.5 .8-1.5 .9-.8 2.1-.7zM12.2 35.3l2.4-.2 2.1 .6 1.2 1.1 .1 .7-.3 .8-2.1 1.5-4.6 2.0-3.1 2.6-1.2 .3-1.4-.2-2.8-1.7-1.4-.3-6.4 .5 .0-7.1 7.1-.1 5.7 .6 4.7-1.1z"/>
<use href="#strip" stroke="#ecd8a8"/>
<g transform="translate(-291.8,-285.1)"><path d="M292.14 285.80H426.11M294.09 289.70H428.06M292.14 293.60H426.11M294.09 297.50H428.06M292.14 301.40H426.11M294.09 305.30H428.06M292.14 309.20H426.11M294.09 313.10H428.06M292.14 317.00H426.11M294.09 320.90H428.06M292.14 324.80H426.11M294.09 328.70H330.44M352.66 328.70H428.06M292.14 332.60H328.48M354.62 332.60H426.11M294.09 336.50H330.44M356.57 336.50H428.06M292.14 340.40H332.39M350.71 340.40H402.68M417.10 340.40H426.11M294.09 344.30H338.25M348.76 344.30H396.82M419.05 344.30H428.06M292.14 348.20H398.77M417.10 348.20H426.11M294.09 352.10H428.06M292.14 356.00H426.11" stroke="#262626" stroke-width="0.95" fill="none" stroke-dasharray="1.2 2.672"/></g>
<use href="#coast"/>
</g>
<rect x="0" y="0" width="136.3" height="72.8" fill="none" stroke="#262626" stroke-width="0.85"/>
</g>
<g transform="translate(428.1,285.1)"><g clip-path="url(#pc)">
<rect width="136.3" height="72.8" fill="#f4f5f5"/>
<path fill="#f0f4f3" d="M54.4 39.8l2.0-.5 1.5 .1 6.3 2.8 5.0 1.1 3.6 .3 11.3-.7 9.3 .1 2.1-.5 4.2-2.2 1.5-.4 5.6 1.0 5.7-.3 29.1-.1 .0 38.0-63.5 .0 .4-7.6-.7-1.5-.8-.4-.9 .4-.7 1.5 .3 7.6-9.5 .0-.1-6.8 .3-6.1-.6-2.3-.7-.7-1.6-.4-2.1 .3-1.4-.1-2.9-1.6-2.1-.8-6.4-.1-2.8-.6-2.1-1.4-5.6-6.0-1.3-2.2-.1-1.5 .4-1.6 1.1-1.5 1.2-.8 2.8-1.2 7.1-1.0 5.1-2.3zM-5.3 42.8l.0-.4 12.8-.1 1.4 .4 1.2 .9 .5 .8 .2 1.5-.5 1.4-.7 .7-2.1 .8-12.8-.1 .0-5.9z"/>
<path fill="#edf3f2" d="M55.6 40.6l2.3 .0 6.3 2.2 5.7 1.3 2.9 .2 10.6-.5 10.0 .1 2.8-.5 4.3-1.4 6.3 .9 13.5-.1 8.5-.7 12.8 .0 .0 36.4-61.7 .0 .3-6.1-.2-2.3-.9-2.2-.8-.8-1.3-.4-1.2 .4-.9 .8-1.1 2.2-.2 2.3 .3 6.1-6.1 .0 .0-12.9-.7-3.0-1.1-1.6-1.8-.8-4.2 .2-5.0-1.3-6.4 .0-2.1-.5-2.1-1.5-5.0-5.5-1.1-1.9-.2-1.5 .5-1.6 2.2-2.0 2.9-.9 5.6-.9 6.3-2.2zM-5.3 43.6l.0-.3 6.4 .2 6.4-.3 1.2 .4 .8 .8 .3 1.5-.9 1.5-2.2 .6-5.6-.4-6.4 .1 .0-4.1z"/>
<path fill="#e0f0ee" d="M54.0 42.1l1.7-.4 2.2 .0 12.7 3.3 3.6 .5 5.1-.4 14.8-.1 6.4-.8 5.6 .4 14.2 .1 7.8-1.3 13.5 .1 .0 35.0-60.0 .0 .1-6.8-.5-3.1-.7-1.5-1.3-1.5-.8-.6-1.4-.2-1.4 .5-1.3 1.1-1.9 3.0-.5 3.0 .3 6.1-2.7 .0 .0-7.6-.6-6.1-.7-3.0-1.5-2.3-1.0-.7-1.5-.4-4.2 .1-5.7-.4-4.3 .1-2.1-.3-2.1-1.4-1.6-2.3-3.3-3.0-1.0-1.5 .0-2.3 .9-1.2 1.4-1.0 7.1-1.5 4.7-1.6zM-5.3 45.1l2.9 .0 .9 .8-3.8 .1 .0-.9zM2.6 45.1l4.1-.3 1.1 .3 .0 .8-1.1 .5-1.4-.1-3.1-.4 .4-.8z"/>
<path fill="#c9eae6" d="M52.7 43.6l3.0-.7 2.2 .1 9.2 1.9 4.1 1.7 .7 .8 .1 .8-2.2 3.0-.8 2.3 .2 1.2 .7 .6 2.9 .3 7.1-.4 5.6 .7 2.2-.4 1.4-1.0 .9-1.0 .5-1.6-.1-.7-1.8-3.0 .4-.8 1.5-.6 4.3-.1 4.2 .9 6.4-1.1 14.9 .5 7.8-2.2 13.5 .0 .0 21.6-9.9-.1-7.1-1.0-1.4 .1-1.5 .6-1.4 1.5-1.0 2.6 .1 8.4-27.8 .0 .3-7.6-.9-2.3-1.9-1.6-1.4-.3-2.9 1.4-.7 .0-4.2-4.8-2.2-1.0-2.1 .6-3.5 3.0-.8 .1-.7-.9-2.1-7.1-.7-1.1-.7-.3-2.9-.3-12.7 .3-1.1-.1-1.1-.7-.1-.8 2.1-2.3 .2-.8-.4-.7-1.1-.8-1.4-.4-4.2 .1-.9-.4-.5-.8 .0-1.5 .5-.8 1.3-.7 7.9-2.3z"/>
<path fill="#87d0c5" d="M52.6 45.1l3.8-.6 7.8 .8 2.6 .6 1.4 .7 .6 .8 .1 .8-.4 1.0-1.4 2.0-2.1 2.0-2.2 .5-2.8-.2-2.3-.8-3.4-2.9-3.9-2.4-.2-.8 .8-.7 1.6-.8zM127.3 46.6l3.0-.3 11.3 .1 .0 14.2-6.4-.5-5.6 1.9-7.1 .4-2.2 .5-1.9 1.2-3.0 2.8-5.7 1.6-2.1 1.6-.6 2.3 .9 6.1-12.0 .0 .7-6.1-.2-1.5-1.2-2.3-4.4-6.0-.7-1.6 .3-2.2 1.6-2.3 1.4-1.1 1.4-.7 4.2 .3 1.5-.2 .7-.6 2.0-3.8 .9-.7 1.3-.5 2.1-.1 3.6 .5 9.2 .5 2.2-.6 4.8-2.9z"/>
<path fill="#0c7169" d="M128.4 48.9l1.9-.4 11.3 .2 .0 6.7-5.7-.4-2.1 .3-5.7 3.9-2.1 .4-5.0 .1-2.1 .4-2.1 1.1-2.9 2.5-1.4 .9-9.2 3.1-2.1 .0-2.2-.9-2.1-1.9-.9-1.6-.2-2.3 1.1-1.0 1.4-.2 4.3 .7 2.1-.1 2.1-1.4 2.2-3.6 1.4-1.0 3.5-.6 5.7 .0 2.1-.3 2.2-1.1 3.2-2.7 1.3-.8z"/>
<path fill="#f5f4f0" d="M-5.3 10.2l36.2 .0 1.4 .3 1.4 .8 2.6 4.2 1.7 1.0 2.1 .1 4.3-.5 19.8 .0 2.2 .4 1.4 .8 2.6 4.3 1.7 1.0 1.4 .1 5.7-.6 17.7 .1 3.6 .4 2.2 1.3 1.1 2.3 .4 3.8-.3 5.3-.6 1.3-.7 .5-2.9 1.3-4.0 2.9-2.3 .8-9.3-.2-10.6 .9-3.6-.1-5.7-1.2-5.6-3.2-2.2-.3-2.1 .6-5.2 2.7-6.2 .7-2.1 .5-2.3 1.1-1.9 1.5-1.0 1.5-.3 1.6 .5 2.7 1.4 1.8 5.9 6.1 1.3 .9 2.1 .8 6.4 .1 2.1 .3 1.9 .9 1.5 1.5 .7 1.5 .2 1.6-.6 5.3 .1 6.8-64.1 .0 .0-29.0 13.5 .0 1.4-.4 1.2-.9 .9-2.3-.2-1.5-.5-1.1-.7-.8-1.4-.7-2.9-.3-11.3 .1 .0-31.4zM128.5 16.3l13.1 .0 .0 15.7-13.5 .1-2.1-.6-1.4-1.0-1.2-2.1-.4-2.2-.1-3.1 .5-3.0 .6-1.5 1.3-1.4 1.4-.6 1.8-.3z"/>
<path fill="#f5f3ec" d="M-5.3 12.5l.0-.4 28.4 .1 7.1-.3 2.1 .9 3.0 4.3 1.3 .9 1.4 .4 26.2-.4 1.5 .4 1.2 .9 1.9 3.1 1.1 1.3 2.2 .8 6.3-.4 19.9 .1 2.2 .7 1.6 2.0 .5 3.1-.3 3.0-.6 1.5-1.2 1.5-5.0 4.2-2.9 1.1-8.5-.3-10.6 1.1-4.3-.1-5.0-1.2-1.7-1.0-3.2-2.7-1.4-.5-1.5-.1-2.1 .7-3.8 2.6-1.7 .8-8.0 .9-3.2 1.3-2.2 1.6-1.0 1.5-.4 1.5 .0 2.3 .4 1.5 1.1 1.5 3.5 3.0 3.5 3.8 1.9 1.3 2.1 .5 5.7 .0 2.1 .3 1.4 .6 1.2 1.1 .7 1.5 .2 1.6-.6 5.3 .1 6.8-62.6 .0 .0-28.2 12.0 .1 2.9-.4 2.1-1.2 .7-1.4 .2-1.5-.6-3.1-1.0-1.1-1.4-.7-2.9-.3-12.0 .1 .0-28.3zM127.3 18.6l2.3-.5 12.0 .2 .0 11.8-12.0 .2-2.2-.4-1.1-.7-1.4-2.3-.3-3.8 .9-3.0 1.8-1.5z"/>
<path fill="#f5efde" d="M25.6 14.0l3.2-.4 2.1 .4 1.4 1.4 2.1 3.6 1.4 .8 1.5 .3 20.6 .2 4.2-.6 2.1 .1 1.7 1.1 2.6 4.3 2.1 .9 20.6 .2 5.0-.4 2.1 .1 1.4 .7 .8 1.0 .5 2.3-.2 2.2-1.1 1.9-2.8 2.5-2.1 2.5-2.2 1.0-7.8-.4-11.3 1.7-5.0-.1-2.8-.7-1.5-.6-1.3-.9-3.6-4.1-1.4-.5-1.5 .0-2.8 .9-4.3 3.7-2.1 .7-5.7 .4-6.4 2.3-1.6 1.1-1.1 2.3-.3 3.0 .4 2.3 1.6 2.3 3.9 2.7 3.5 3.9 2.2 1.5 2.8 .7 7.1 .0 1.4 .6 1.1 1.2 .5 2.3-.7 5.3 .2 6.8-61.4 .0 .0-27.3 12.0 .0 4.3-.3 1.4-.6 .7-.8 .5-1.3 .2-2.3-.2-2.3-.4-1.5-.8-1.1-1.4-.9-3.5-.5-12.8 .0 .0-25.5 28.4 .1 2.5-.2zM128.5 20.1l2.5-.2 4.2 .5 6.4-.1 .0 7.9-6.4-.1-5.6 .4-2.2-.7-1.0-1.6-.2-3.1 .5-1.6 .7-.8 1.1-.6z"/>
<path fill="#f6e9c7" d="M68.8 30.7l1.1-.2 1.4 .3 3.6 3.1 6.4 2.4 .5 .5 .0 .7-.8 .8-1.6 .8-5.9 1.4-4.3 .1-3.5-.8-1.3-.7-1.3-1.6-.8-2.2 .2-1.6 .4-.7 1.3-.9 4.6-1.4zM35.6 31.5l1.7-.2 2.1 1.3 3.0 3.4-.1 1.5-.7 .8-3.6 1.6-2.2 .3-1.7-.4-.9-1.5 .0-3.0 .7-2.3 .5-.8 1.2-.7zM-5.3 52.7l14.9 .0 2.1 .5 3.6 1.6 5.6-.2 11.4 .7 2.8 .7 2.2 1.2 3.5 4.1 2.1 1.6 2.9 .6 5.7-.3 2.1 .2 1.0 .7 .6 1.5-.8 6.1 .2 6.8-59.9 .0 .0-25.8z"/>
<path fill="#e2c787" d="M67.4 34.5l2.5 .0 2.5 .8 2.6 1.5 .6 .7-.1 .8-1.3 .8-2.1 .3-2.9 .0-2.0-.3-1.1-.8-.5-1.5 .6-1.5 1.2-.8zM33.4 58.8l1.7-.4 2.0 1.1 3.7 6.1 .1 .8-1.1 4.5 .2 7.6-17.3 .0-.1-13.7 .6-3.0 .6-.8 1.4-.7 5.0 .1 1.4-.5 1.8-1.1z"/>
<use href="#strip" stroke="#ecd8a8"/>
<g transform="translate(-428.1,-285.1)"><path d="M428.81 285.80H562.78M430.76 289.70H560.83M428.81 293.60H562.78M430.76 297.50H560.83M428.81 301.40H562.78M430.76 305.30H560.83M428.81 309.20H562.78M430.76 313.10H560.83M428.81 317.00H562.78M430.76 320.90H560.83M428.81 324.80H562.78M430.76 328.70H478.82M497.15 328.70H560.83M428.81 332.60H476.87M499.10 332.60H562.78M430.76 336.50H478.82M497.15 336.50H553.02M428.81 340.40H539.35M553.77 340.40H562.78M430.76 344.30H533.50M551.82 344.30H560.83M428.81 348.20H523.73M538.15 348.20H562.78M430.76 352.10H560.83M428.81 356.00H562.78" stroke="#262626" stroke-width="0.95" fill="none" stroke-dasharray="1.2 2.672"/></g>
<use href="#coast"/>
</g>
<rect x="0" y="0" width="136.3" height="72.8" fill="none" stroke="#262626" stroke-width="0.85"/>
</g>
<g transform="translate(19.2,372.4)"><g clip-path="url(#pc)">
<rect width="136.3" height="72.8" fill="#f7f6f6"/>
<path fill="#fcd5bf" d="M22.8 -5.7l79.4 .0 .1 14.4-.7 15.9 .5 3.1 1.2 1.3 2.1 .8 2.9 .2 5.6-.4 2.9 .5 1.8 1.4 .5 1.5-.1 1.5-1.5 1.8-2.1 .7-2.9 .0-5.7-.9-2.1 .2-1.4 .7-.9 1.3 .2 1.6 1.2 1.4 3.0 2.0 .8 1.1-.2 1.5-.7 .7-1.3 .7-2.1 .3-5.7-.6-3.5 .1-2.9 .5-4.2 1.5-1.5 .2-7.1-.4-5.6-.8-2.2 .2-1.4 .9-1.0 2.0 .3 1.9 1.0 1.1 3.9 2.3 .8 1.0 .4 1.3 .0 2.2-.7 5.4-.1 12.1-28.3 .0-.3-6.1 .4-3.0 1.1-1.5 3.3-2.7 2.4-3.4 3.0-2.3 1.3-1.5 .5-1.5 .2-2.3-.3-2.3-.7-1.3-4.1-3.2-1.6-3.0-1.2-1.6-3.0-1.7-2.8-2.8-1.2-.8-13.0-2.9-7.1 .6-2.9-.4-1.9-1.1-2.3-2.2-2.9-2.0-1.0-1.8-.4-4.6 .8-3.0 1.3-1.2 3.0-1.8 2.7-3.8 3.4-3.1 1.0-1.5 .3-2.3-1.0-5.3 .3-6.8z"/>
<path fill="#ee9677" d="M32.0 6.4l3.1-.1 10.0 .8 30.5 .0 9.2-1.0 2.9 .4 2.1 1.5 2.8 3.0 2.6 2.3 1.1 1.5 .5 3.0 .0 7.6-.4 2.3-.9 1.5-1.4 1.1-7.1 1.9-4.3 3.5-2.1 .6-5.7-.5-12.8 .3-6.4-.3-6.4 .8-5.6-1.7-5.7-.4-2.2-.4-5.6-3.4-5.0 .6-1.4 .0-1.1-.6-.3-.7 .8-7.6-.9-4.6 .1-1.5 .7-1.5 5.7-6.8 1.4-1.1 1.8-.5z"/>
<path fill="#c94741" d="M40.4 11.0l4.0-.5 30.5 .0 2.8 .2 5.0 1.5 3.6-.8 1.4 .2 2.3 1.7 1.3 2.2 .2 1.6-.7 3.8 .8 3.7 .0 1.6-.9 1.5-1.6 .9-8.5 1.9-33.4-.2-2.8 .3-4.3 1.1-2.1 .0-1.7-1.0-2.5-3.8-4.9-4.5-.9-2.3-.4-3.0 .3-1.6 .8-1.5 2.2-2.0 2.1-.4 3.6 .6 3.8-1.2z"/>
<path fill="#900d26" d="M43.4 13.3l25.1 .2 5.7-.3 2.1 .2 1.6 .6 3.4 2.8 2.9 1.8 .6 .7 .6 1.6 .1 2.5-.7 1.1-2.1 .4-7.8-.6-24.9 .2-5.6-.4-5.0 .9-1.4 .0-2.2-1.1-1.3-1.5-.7-1.5 .1-1.6 .6-.7 3.5-1.8 3.4-2.8 2.0-.7z"/>
<path fill="#cae1ee" d="M-5.3 6.4l7.1-.4 1.4 .4 1.4 .9 1.2 2.2 .2 2.3-.3 3.0-1.2 2.3-1.3 .8-1.4 .3-7.1-.2 .0-11.6zM10.3 36.0l2.8-.2 4.3 1.5 2.1 .4 10.7-.1 6.4 .6 2.8 .9 .9 .7 .5 1.5-1.0 3.8 .3 2.1 1.0 1.0 3.0 1.5 1.1 1.5 .3 3.8-.5 3.8-.6 .9-1.5 .7-4.9 .1-1.8 .5-1.1 1.0-2.1 3.5-1.4 1.0-1.4 .3-4.3 .0-2.1 1.0-.9 1.6-.3 1.5 .2 7.6-28.1 .0 .0-42.1 12.0 .1 3.6-.5zM95.4 49.7l7.9 .5 2.1-.1 5.0-1.1 1.4 .2 1.4 1.6 .7 2.7-.1 3.0-.9 2.3-3.8 3.0-3.0 4.3-2.1 .9-2.1 .1-6.4-.7-5.0 1.6-2.8 .2-3.6-.7-2.8-1.5-1.5-1.9-.7-3.1 .0-3.7 .8-2.0 .7-.6 1.4-.4 5.0 .7 1.4-.3 3.5-3.9 1.5-.7 2.0-.4z"/>
<path fill="#81bad8" d="M84.7 60.3l.8-.5 1.5-.2 2.9 .7 1.2 1.5 .1 1.5-.4 .8-1.0 .8-1.4 .5-1.4-.1-1.2-.5-.9-.7-.7-1.5 .1-1.6 .4-.7z"/>
<g transform="translate(-19.2,-372.4)"><path d="M20.74 375.50H45.37M118.36 375.50H154.71M22.69 379.40H47.32M116.41 379.40H152.76M20.74 383.30H45.37M118.36 383.30H154.71M22.69 387.20H23.89M116.41 387.20H152.76M20.74 391.10H21.94M118.36 391.10H154.71M22.69 395.00H23.89M116.41 395.00H152.76M20.74 398.90H21.94M91.03 398.90H154.71M22.69 402.80H27.80M89.08 402.80H152.76M20.74 406.70H37.56M87.12 406.70H154.71M30.50 410.60H51.23M89.08 410.60H152.76M36.36 414.50H49.27M87.12 414.50H154.71M53.93 418.40H66.85M89.08 418.40H152.76M55.88 422.30H68.80M87.12 422.30H154.71M53.93 426.20H70.75M89.08 426.20H152.76M55.88 430.10H68.80M87.12 430.10H154.71M50.03 434.00H66.85M89.08 434.00H152.76M48.07 437.90H60.99M87.12 437.90H154.71M22.69 441.80H47.32M89.08 441.80H152.76" stroke="#262626" stroke-width="0.95" fill="none" stroke-dasharray="1.2 2.672"/></g>
<use href="#coast"/>
</g>
<rect x="0" y="0" width="136.3" height="72.8" fill="none" stroke="#262626" stroke-width="0.85"/>
</g>
<g transform="translate(155.5,372.4)"><g clip-path="url(#pc)">
<rect width="136.3" height="72.8" fill="#f7f6f6"/>
<path fill="#fcd5bf" d="M56.8 -5.7l73.8 .0 .0 31.1 .2 5.3-.1 2.3-.6 1.5-.5 .8-1.5 .9-4.9 .1-1.8 .5-1.1 .9-2.3 3.6-1.9 1.2-2.2 .3-6.4-.5-7.0 .4-1.5-.4-1.3-1.0-1.9-3.8-1.0-1.1-1.4-.5-5.0 .0-1.4-.7-3.6-3.0-6.4-2.2-2.8-.5-7.8 .3-4.3 .7-2.1 .0-1.4-.5-.9-.8-1.8-4.6-1.2-.7-3.2-.3-6.4 .9-2.9-.6-1.4-1.2-2.1-2.6-4.3-3.3-.7-2.0 .3-1.5 1.1-1.2 1.5-.3 3.5 .0 5.7 1.2 1.4-.3 1.4-.9 3.6-3.8 3.2-2.3 1.0-1.5 .5-3.1-.1-6.8z"/>
<path fill="#ee9677" d="M70.3 6.4l2.5-.6 6.4 .3 13.4-.2 1.5 .4 1.2 .9 2.3 3.6 1.4 1.1 1.5 .3 4.2-.1 1.4 .5 1.3 1.4 .6 2.3 .1 9.1-.2 1.5-.6 1.5-1.2 1.3-2.1 .7-5.7-.1-7.1 .9-2.1-.1-7.8-2.7-3.6-2.9-2.1-.9-2.1-.1-5.0 .5-3.5-.5-1.5-1.0-2.1-3.8-1.4-1.0-1.4-.2-4.3 .4-2.1-.4-1.1-1.4 .0-1.6 1.1-2.2 1.4-1.6 1.4-.7 1.4-.2 5.7 1.5 2.9 .0 2.0-1.3 1.8-3.0 1.5-1.6z"/>
<path fill="#cae1ee" d="M-5.3 -5.7l16.7 .0-.2 7.6 .3 1.5 1.0 1.5 1.3 1.0 2.2 .5 6.4-.6 2.8 .3 2.1 1.3 1.2 2.1 .6 3.0-.3 2.8-.8 1.1-3.5 2.4-1.1 1.3-.6 2.3-.1 4.5-1.0 2.3-.8 .6-1.4 .5-4.2 .0-2.2 .5-1.2 1.4-1.6 3.1-.8 .7-1.3 .6-2.2 .2-4.9-.5-6.4 .1 .0-42.1zM81.9 55.0l2.9-.5 12.8 .4 5.7-.3 1.4 .2 1.4 .8 2.9 3.2 3.8 3.0 .6 1.5-.1 1.5-.8 1.4-.7 .5-2.1 .5-6.4-.8-13.5 .1-5.0 .3-2.1-.2-1.4-.6-1.2-1.2-.9-3.0 .0-2.3 .5-2.2 .9-1.4 1.3-.9zM27.6 60.3l2.6-.2 2.1 .6 1.2 1.1 .4 1.5-.7 2.3-3.7 2.9-1.2 1.6-.3 2.3 .5 6.1-33.8 .0 .0-11.7 12.8 .1 2.1-.8 3.0-4.3 2.0-1.2 2.1-.2 6.4 .5 4.5-.6z"/>
<path fill="#81bad8" d="M6.4 18.6l1.1-.6 1.4-.1 1.4 .6 .7 .8 .6 2.3-.4 1.5-.7 .8-.9 .4-1.4 .1-1.5-.5-.7-.7-.4-.8-.3-1.5 .5-1.6 .6-.7z"/>
<g transform="translate(-155.5,-372.4)"><path d="M169.13 375.50H217.19M223.80 375.50H291.38M155.46 379.40H172.28M225.75 379.40H289.43M157.41 383.30H170.33M223.80 383.30H291.38M155.46 387.20H172.28M225.75 387.20H289.43M157.41 391.10H170.33M223.80 391.10H291.38M155.46 395.00H172.28M225.75 395.00H289.43M157.41 398.90H170.33M223.80 398.90H291.38M155.46 402.80H172.28M225.75 402.80H289.43M157.41 406.70H170.33M223.80 406.70H291.38M174.99 410.60H191.81M225.75 410.60H289.43M176.94 414.50H197.66M223.80 414.50H291.38M190.61 418.40H203.52M225.75 418.40H289.43M192.56 422.30H205.47M223.80 422.30H291.38M190.61 426.20H203.52M225.75 426.20H289.43M188.66 430.10H205.47M223.80 430.10H291.38M182.80 434.00H195.71M225.75 434.00H289.43M176.94 437.90H193.76M223.80 437.90H291.38M155.46 441.80H184.00M225.75 441.80H289.43" stroke="#262626" stroke-width="0.95" fill="none" stroke-dasharray="1.2 2.672"/></g>
<use href="#coast"/>
</g>
<rect x="0" y="0" width="136.3" height="72.8" fill="none" stroke="#262626" stroke-width="0.85"/>
</g>
<g transform="translate(291.8,372.4)"><g clip-path="url(#pc)">
<rect width="136.3" height="72.8" fill="#f4f5f5"/>
<path fill="#f0f4f3" d="M122.9 -5.7l18.7 .0 .0 25.9-12.0 .1-2.9-.5-1.4-1.0-2.8-4.0-2.9-1.7-1.4-1.3-.7-2.3 .1-1.5 .5-1.6 .8-.9 3.6-2.0 1.0-1.6 .1-2.3-.7-5.3zM-5.3 16.3l.0-.5 31.2 .1 2.1 .9 .9 1.0 .7 2.3 .1 2.3-.2 .7-.7 .5-2.9 .4-31.2 .1 .0-7.8zM36.0 16.3l3.4-.4 8.5 .0 5.7 .4 5.7-.5 2.1 .3 2.1 1.0 .7 .7 .4 1.5-.7 2.3-1.1 1.0-4.2 1.9-1.5 1.1-3.9 6.6-.3 .8 .1 .7 1.6 1.6 2.5 1.2 2.2 .4 4.9 .1 1.5 .6 .8 .7 .7 1.5 .8 6.1 1.2 2.1 1.4 .8 2.2 .0 1.9-.6 3.0-1.9 .7-.3 .8 .3 2.5 5.6 1.7 1.4 2.1 .1 5.7-1.6 2.2 .6 3.0 1.8 2.6 .9 10.7 .1 2.1-.5 5.0-2.5 4.2 .2 1.5-.3 .9-.9 1.9-3.8 .7-.5 2.8-.2 12.8 .0 .0 21.9-12.0 .1-5.0-.6-2.1 .3-1.1 1.0-.5 1.5 .3 7.6-38.1 .0 .7-6.1-.4-2.2-.7-.8-1.4-.8-2.9-.4-1.5 .4-.8 .8-.5 1.3 .3 7.8-43.7 .0-1.0-6.8 .7-1.6 2.1-3.0 .4-3.0-1.0-2.3-3.8-3.0-1.1-2.3-.1-13.7 .4-3.0 .7-1.2 1.1-1.1 7.4-3.7 1.4-.2 3.5 .9 3.6 .2 2.8-.8 .8-.9-.6-.8-1.6-.9-6.4-.3-1.4-1.1-2.8-3.1-1.5-.6-3.6-.8-.4-.8 .1-.7 1.7-5.3 1.0-1.5 1.4-.8z"/>
<path fill="#edf3f2" d="M124.8 -5.7l16.8 .0 .0 23.9-6.4-.1-4.9 .4-2.2-.3-1.8-1.1-2.4-3.2-3.8-2.9-.7-1.5 .2-1.5 .4-.8 3.9-2.7 1.1-1.8 .2-2.3-.4-6.1zM-5.3 17.8l.0-.4 29.8-.2 1.4 .4 1.3 1.0 .7 2.3-.7 1.5-1.3 .6-1.4 .2-29.8 .0 .0-5.4zM37.0 17.8l2.4-.4 7.8 .1 6.4 .8 5.7-.9 2.1 .7 .7 .6 .5 1.4-.5 1.3-.7 .7-4.4 2.5-3.4 5.2-.7 .6-1.4 .3-3.6-1.2-4.2 .1-1.5-.3-6.7-5.4-.8-1.5 .2-2.3 .9-1.5 1.2-.8zM36.2 36.0l2.5-.5 6.4 .8 7.1-.6 5.7 1.8 5.6 .1 1.5 .4 .7 .5 .8 1.3 1.0 6.8 1.3 2.3 1.1 .7 1.4 .3 5.0-1.0 1.4 .2 .8 .6 2.8 4.4 2.1 1.1 2.1 .0 5.0-1.2 1.4-.1 5.0 1.7 2.1 .4 10.7 .1 2.1-.4 5.0-2.2 4.2 .4 2.1-.4 1.5-1.3 1.8-2.5 1.7-1.0 2.2-.2 4.9 .3 6.4-.1 .0 17.9-12.0 .0-5.7-.4-2.9 .7-1.0 1.0-.7 2.2 .0 8.4-34.2 .0 .4-6.8-.7-2.6-.7-.8-1.4-.7-5.0-1.0-2.2 .5-.8 .8-.5 1.2-.4 2.6 .2 6.8-40.2 .0-.9-6.8 2.0-4.6 .2-3.0-.9-2.3-4.0-3.3-1.1-2.0-.2-2.3 .4-5.3-.2-6.8 .6-2.3 1.2-1.5 5.3-2.3z"/>
<path fill="#e0f0ee" d="M126.7 -5.7l14.9 .0 .0 22.0-6.4-.2-4.2 .6-2.2-.1-1.4-.8-2.1-2.8-3.5-2.8-.4-1.5 .4-.7 3.7-2.3 1.0-1.5 .4-3.1-.2-6.8zM-5.3 19.3l23.4 .0 5.7-.5 1.6 .5 .6 .8 .0 .8-.6 .7-1.6 .3-6.4-.2-22.7 .1 .0-2.5zM37.5 19.3l1.9-.5 7.8 .0 6.4 1.4 5.0-1.1 1.2 .2 .6 .8-.1 .8-.7 .7-3.2 2.0-2.8 4.6-.7 .6-1.4 .3-3.6-1.1-4.2 .1-2.2-.8-5.0-4.9-.1-1.5 1.1-1.6zM35.0 37.5l3.0-.5 7.1 .5 7.1-.3 5.7 1.0 4.9 .0 1.4 .3 1.0 .6 .9 1.5 .5 6.0 .5 1.7 .8 1.4 1.3 .9 1.4 .4 5.0-.5 1.4 .4 3.5 4.8 1.5 .9 1.4 .3 2.1 .0 5.7-.7 7.1 .9 12.1 .0 6.4-2.3 4.2 .4 2.2-.2 1.4-.8 2.8-3.2 1.4-.8 2.2 .0 4.2 .5 6.4-.2 .0 14.2-18.4-.2-2.6 .3-1.7 .7-.9 .9-.4 1.5-.1 10.6-30.5 .0 .1-8.4-.3-1.5-.5-1.3-1.5-.8-9.2-1.9-2.1 .6-1.1 1.9-.3 11.4-36.4 .0-.3-6.1 .6-6.0-.4-3.1-1.2-2.4-3.9-2.9-.8-1.5-.2-1.5 .6-5.3-.3-6.9 .4-2.1 1.4-1.9 3.4-1.3z"/>
<path fill="#c9eae6" d="M39.2 20.9l1.6-.4 5.0-.1 2.8 .3 4.0 1.7 .8 .7 .0 1.5-1.0 1.6-.9 .5-3.6-.5-4.9 .0-1.5-1.0-2.6-2.8-.2-.8 .5-.7zM33.4 39.1l3.2-.5 14.9 .1 6.4 .5 5.6 .0 1.1 .6 .8 1.5 .4 6.9 .3 1.5 1.0 1.7 2.1 1.1 5.7 .0 .9 .2 .8 .8 2.6 4.0 2.1 1.1 4.0 .9 .9 .8 .1 .7-.5 1.6-1.6 1.5-2.2 .2-2.8-.8-3.6-2.0-2.1-.8-2.2-.3-2.0 .6-.8 1.1-1.7 3.5-3.3 2.6-1.4 1.9-.5 2.3 .7 6.1-23.7 .0 .9-6.8-2.2-4.7-1.3-5.2-1.0-1.5-3.4-2.3-.7-.7-.6-1.6 .9-6.8-.4-6.8 .8-1.9 1.8-1.1zM128.6 52.7l1.0-.3 1.4 .0 4.2 1.0 6.4-.3 .0 9.0-12.0-.1-8.6 .5-9.9-1.7-2.8 2.5-.9 2.3 .1 12.9-17.8 .0-.1-8.4 1.4-4.5 .5-3.8 .4-1.0 .7-.7 2.9-1.0 4.2-.4 6.0 .1 4.7 .8 6.4-3.1 5.7 .3 2.1-.4 1.4-.9 2.6-2.8z"/>
<path fill="#87d0c5" d="M34.1 40.6l1.7-.1 3.6 .7 4.3-.5 10.6 .1 7.1-.4 1.4 .1 .7 .5 .9 1.8-.2 3.4-1.7 5.7-.2 2.3 1.1 7.6-.4 1.5-.9 1.3-2.8 2.2-2.2 .6-12.0-1.6-4.3 .9-1.4-.4-.7-.6-.7-1.3-1.4-4.4-.8-.8-3.3-1.9-.7-1.6 .0-1.5 .9-5.3-.6-6.1 .7-1.5 1.3-.7z"/>
<path fill="#0c7169" d="M51.3 48.2l1.6-.1 1.4 .3 1.8 1.3 .5 .7 .4 1.5-.5 1.6-.9 .7-3.4 1.8-1.1 1.3-1.2 2.2-1.3 1.3-2.1 .4-5.0-.1-.7-.3-.4-1.3-.4-6.0 .1-1.6 .7-1.8 .7-.7 1.4-.7 5.0 .0 3.4-.5z"/>
<path fill="#f5f4f0" d="M65.9 22.4l1.2-.6 1.4-.1 4.3 .7 2.1 1.4 .8 1.6 .4 3.0-.1 7.6 .5 7.6-.9 2.3-1.4 1.4-1.4 .6-2.2-.1-1.4-1.2-.7-1.7-.7-5.4-.5-1.2-.9-1.1-2.2-.9-4.2 .1-2.1-.4-2.5-1.5-.8-1.5 .2-1.5 1.0-2.3 2.1-3.3 1.4-1.0 4.2-1.2 2.4-1.3zM-5.3 25.4l.0-.4 31.2 .0 2.1 .5 3.6 2.6 4.2 .3 1.2 .8 .5 1.5-.8 1.5-2.3 2.3-5.1 3.0-1.1 1.6-.4 1.5-.2 13.6 .2 2.3 1.0 2.3 3.8 3.0 1.1 2.3 .0 1.5-.6 1.5-2.6 3.0-.6 1.6 .9 6.8-36.1 .0 .0-53.1zM94.0 34.5l20.6-.1 2.9 .3 1.4 .6 1.4 1.5 .6 1.5 .1 6.8 .6 3.1-.2 1.5-1.1 .6-3.5 .5-4.5 2.7-2.6 .8-9.2 .0-3.2-.8-3.9-2.9-3.3-1.7-.9-1.5-.2-6.1 .6-3.8 1.6-2.1 2.8-.9z"/>
<path fill="#f5f3ec" d="M67.5 23.9l2.4-.4 2.2 .5 1.4 .9 1.0 2.0 .3 2.3-.2 6.1 .6 8.3-1.0 2.3-.9 .7-1.2 .4-1.5-.2-1.3-1.7-.9-6.0-1.3-2.4-2.1-1.0-4.3 .1-2.1-.3-1.9-1.0-1.0-1.5 .0-1.5 .7-2.3 .8-1.5 1.4-1.6 2.1-.9 4.3-.4 2.5-.9zM-5.3 26.2l.0-.3 30.5-.1 2.1 .8 2.9 2.4 3.8 1.7 .4 .8-.3 1.5-1.4 1.5-3.2 1.7-1.5 1.1-.5 1.0-.5 2.3-.1 12.9 .5 3.8 1.3 2.2 3.6 2.9 .7 1.7-.4 2.3-2.9 3.0-.8 1.5-.2 2.3 .8 5.3-34.8 .0 .0-52.3zM93.2 36.8l3.0-.6 17.7 .0 2.9 .5 1.4 .9 1.1 2.2 .2 3.8-.6 3.4-.8 1.2-2.7 1.7-3.6 2.8-1.4 .5-9.2 .3-2.9-.7-5.7-4.7-1.5-2.2-.5-3.1 .3-3.0 1.0-2.1 1.3-.9z"/>
<path fill="#f5efde" d="M68.1 25.4l1.8-.4 1.4 .2 1.4 1.0 .7 1.5 .2 2.3-.3 4.5 .9 8.3-.7 2.2-1.4 .9-1.5-.4-.7-1.1-.8-6.1-1.4-2.3-2.0-1.0-5.0 .2-2.1-.4-1.5-1.1-.6-1.5 .6-3.1 .9-1.4 1.3-1.2 2.1-.6 4.3 .4 2.4-.9zM-5.3 26.9l22.7 .2 7.1-.3 2.1 .9 2.2 2.1 2.7 1.7 .6 .7-.1 .8-.6 .7-4.4 2.3-.8 1.5-.2 1.6-.2 9.1 .4 6.0 .5 3.1 1.1 2.2 3.7 3.1 .8 1.5 .0 .9-.6 1.4-3.4 3.0-.7 1.5-.1 2.3 .6 5.3-33.4 .0 .0-51.6zM94.3 38.3l1.9-.3 5.0 .4 14.2-.3 1.6 1.0 .8 1.5 .1 2.2-.4 2.3-.9 1.5-4.8 4.6-1.3 .7-2.2 .3-8.6-.2-1.5-.8-2.6-3.0-2.2-2.0-.8-1.1-.5-2.3 .3-2.2 .8-1.5 1.1-.8z"/>
<path fill="#f6e9c7" d="M60.4 26.9l1.7 .0 2.9 1.0 1.4 .2 2.8-1.3 1.4-.1 1.3 1.0 .3 2.3-.5 6.0 1.0 5.3-.2 1.5-.4 .7-.8-.1-.2-.6-1.1-6.0-1.5-1.9-1.4-.8-1.4-.2-5.7 .5-1.4-.5-.9-.9-.4-1.5 .6-2.3 1.1-1.5 1.4-.8zM-5.3 28.4l10.6 .0 2.4 .8 .4 .8 .1 .7-2.6 3.0-.3 1.6 .2 4.5-.6 1.5-.9 .8-2.9 .8-6.4-.3 .0-14.2zM22.1 51.9l1.0-.3 .7 .2 .7 .8 2.2 6.9 1.3 1.5 2.4 1.6 1.0 1.5 .0 .7-.5 1.1-3.6 2.6-1.0 1.6-.2 2.3 .4 6.1-31.8 .0 .0-23.5 12.0 .1 5.7-.3 4.3 1.3 1.4 .0 1.4-.8 2.6-3.4z"/>
<path fill="#e2c787" d="M60.4 28.4l1.7 .1 2.2 1.5 .5 1.5-.4 .7-2.3 1.0-1.4 .1-1.4-.3-.7-1.0 .0-1.6 .7-1.3 1.1-.7zM22.0 58.0l1.1-.3 .7 .1 .7 .6 1.6 2.6 3.2 2.3 .5 .8-.1 .7-.6 .8-3.7 1.5-1.0 1.5-.4 3.1 .1 6.8-29.4 .0 .0-18.3 17.7-.2 5.7 .6 1.4-.3 2.5-2.3z"/>
<use href="#strip" stroke="#dfbf7c"/>
<g transform="translate(-291.8,-372.4)"><path d="M294.09 375.50H428.06M292.14 379.40H426.11M294.09 383.30H428.06M292.14 387.20H426.11M294.09 391.10H428.06M292.14 395.00H426.11M294.09 398.90H428.06M292.14 402.80H426.11M294.09 406.70H428.06M292.14 410.60H426.11M294.09 414.50H428.06M292.14 418.40H320.67M362.43 418.40H426.11M294.09 422.30H318.72M360.47 422.30H428.06M292.14 426.20H320.67M362.43 426.20H426.11M294.09 430.10H318.72M360.47 430.10H428.06M292.14 434.00H324.58M358.52 434.00H426.11M294.09 437.90H326.53M352.66 437.90H428.06M292.14 441.80H426.11" stroke="#262626" stroke-width="0.95" fill="none" stroke-dasharray="1.2 2.672"/></g>
<use href="#coast"/>
</g>
<rect x="0" y="0" width="136.3" height="72.8" fill="none" stroke="#262626" stroke-width="0.85"/>
</g>
<g transform="translate(428.1,372.4)"><g clip-path="url(#pc)">
<rect width="136.3" height="72.8" fill="#f4f5f5"/>
<path fill="#f0f4f3" d="M35.6 16.3l2.4-.4 8.5 .0 2.1 .2 2.2 .6 1.2 1.1 .7 1.5 .2 2.3-.5 2.3-1.1 1.5-2.7 1.0-14.9-.1-.7-.6-.6-1.8 .0-3.8 .9-2.3 1.1-1.0 1.2-.5zM22.6 36.0l3.3-.6 .5 .6-.7 1.5-1.7 2.3-5.2 3.4-2.8 3.1-1.4 1.1-2.9 .5-5.0-.4-12.0 .1 .0-10.6 18.4 .0 9.5-1.0zM62.1 39.8l2.1 .1 4.3 2.2 5.7 2.1 5.0 4.4 2.8 3.7 .7 .5 1.4 .3 4.3-.4 4.2 .2 5.0-1.1 5.0 2.5 2.1 .4 1.4 .0 2.2-.6 4.2-2.5 1.4 .0 4.3 1.2 2.8-.2 1.5-.6 .7-.8 2.1-3.4 2.1-1.1 2.9-.3 11.3 .2 .0 22.1-15.6 .0-5.7-.4-2.9 .3-1.3 .7-.7 .7-.6 1.7 .7 6.8-32.4 .0 .5-6.1-.4-2.3-4.8-6.1-1.4-1.1-1.0 .4-.6 1.5 .7 6.9-.1 6.8-9.9 .0-.1-6.8 .6-6.1-.2-1.5-.7-1.1-.7-.1-.8 .3-2.8 4.1-2.1 1.4-2.2 .2-3.5-.4-5.7 .0-2.1-1.0-2.7-4.2-3.6-3.0-1.0-1.5-.3-1.5-.1-12.2 .8-2.3 1.2-1.3 1.4-.7 2.2-.3 14.2 .5 2.1-.4 2.1-.8z"/>
<path fill="#edf3f2" d="M36.9 17.8l9.6-.2 2.1 .3 1.2 .7 .7 .7 .5 1.6-.2 1.5-.8 1.3-.7 .5-2.1 .6-9.2 .0-2.2-.4-1.3-1.3-.3-2.2 .9-2.1 1.8-1.0zM16.6 37.5l2.9-.3 2.2 .3 .9 .8 .0 .8-1.2 1.5-3.3 2.2-2.8 3.2-1.5 .8-2.1 .3-5.0-.4-12.0 .1 .0-8.9 17.7 .1 4.2-.5zM61.9 42.1l1.6-.4 1.5 .1 7.1 2.6 1.4 1.0 4.3 4.3 3.5 4.3 2.1 .9 5.0-.3 4.2 .3 5.7-1.1 4.3 1.3 2.8 .4 2.1-.3 5.0-1.6 5.0 .6 2.8 .0 2.9-.8 1.4-1.4 1.6-2.3 1.9-1.2 2.2-.3 4.9 .4 6.4-.1 .0 18.3-12.8 .0-7.1-.4-3.5 .5-2.1 .6-1.8 1.1-1.1 2.3 .4 7.6-28.7 .0 .3-6.1-.4-3.0-1.0-1.5-2.5-2.4-2.9-4.0-.7-.5-1.4-.3-.9 .3-.8 .8-.7 2.3 .6 7.6-.2 6.8-6.5 .0-.1-6.8 .4-6.9-.4-2.2-1.2-1.6-1.5-.3-1.5 .7-2.8 4.2-1.4 1.1-1.4 .3-4.3-.5-5.0 .1-1.8-1.0-3.0-3.8-2.6-2.3-1.0-1.5-.4-1.5-.1-9.9 .7-2.2 1.1-1.3 1.4-.7 1.5-.1 13.5 .7 4.0-.9z"/>
<path fill="#e0f0ee" d="M36.7 20.1l2.0-.7 4.2 .2 3.6-.2 2.0 .7 .4 .8 .0 .7-1.0 1.1-1.4 .4-3.6-.3-4.9 .1-1.4-.5-.4-.8 .5-1.5zM14.6 39.1l4.2-.5 1.4 .5-.2 .7-2.6 2.2-2.8 3.1-1.3 .8-2.3 .1-4.3-.5-12.0 .1 .0-6.4 17.0 .1 2.9-.2zM62.6 43.6l3.1-.3 3.5 1.0 2.0 .8 1.6 1.3 4.4 4.8 3.2 4.5 .9 .6 2.1 .5 4.3-.3 4.9 .3 5.7-1.5 7.1 1.0 7.1-1.2 5.0 .4 4.2-.2 2.2-.5 1.0-.6 2.5-3.3 1.4-.8 2.2-.1 4.2 .6 6.4-.2 .0 14.4-12.0 .1-6.4-.4-3.6 .6-5.0 1.4-1.9 1.4-1.1 2.2-.1 2.3 .3 6.1-25.0 .0 .1-7.6-.6-3.4-.8-.9-3.5-2.5-2.8-4.4-1.5-.8-2.1-.1-2.1 .9-1.0 2.1-.2 3.0 .3 6.9-.1 6.8-2.9 .0 .1-14.4-.5-3.1-.9-1.5-1.9-.8-1.4 .1-1.5 .5-1.4 1.3-2.1 3.6-1.4 .9-1.5 .1-3.5-.5-4.3 .2-1.4-.6-.7-.6-2.1-2.7-2.9-2.7-.8-1.8 .2-5.3-.2-4.6 .6-1.5 .8-.7 2.3-.4 4.2 .6 8.6 .2 2.1-.3 2.6-.9z"/>
<path fill="#c9eae6" d="M63.6 45.1l1.4-.3 2.1 .2 2.7 .9 1.1 .7 4.9 6.1 .5 1.5-.2 .8-.5 .6-1.4 .1-4.3-1.6-2.1 .2-5.7 3.1-1.3 1.4-2.0 3.8-1.7 .5-2.8-.4-5.0-.1-1.0-.8-1.8-2.4-2.7-2.9-.2-1.5 .6-3.8-.6-3.0 .8-1.5 1.4-.2 3.5 .6 4.3-.5 5.0 .0 2.1-.4 2.9-1.1zM97.8 57.3l1.9-.4 5.7 .6 6.4-.6 10.7 .0 1.6 .4 1.0 .7 .6 2.3-.3 .7-1.0 .8-6.9 2.3-5.0 1.2-2.1 1.1-1.0 1.5-.2 1.5-.1 9.1-12.3 .0 .3-6.1-.4-3.0-1.1-1.5-2.7-1.5-.8-.8-.6-1.5-.5-2.3 .1-.8 .8-1.0 5.9-2.7z"/>
<path fill="#87d0c5" d="M57.0 48.9l3.0 .1 1.9 .7 .4 1.5-.5 1.5-5.4 6.5-2.1 .6-2.1-.4-1.3-1.4-.3-1.5-.1-2.3 .6-2.3 1.1-1.5 1.1-.7 3.7-.8z"/>
<path fill="#f5f4f0" d="M22.0 22.4l5.3-.4 1.5 .2 .8 .9 .5 2.3-.1 3.0-.7 1.6-1.3 1.2-5.0 3.3-2.8 .9-5.6 .6-19.9 .0 .0-13.5 27.3-.1zM68.1 23.1l1.8-.6 2.9 .2 1.8 1.2 .8 1.5 .7 4.6-.1 7.5-.4 3.5-1.0 1.1-2.5 .1-2.9-.8-2.5-1.6-1.1-1.5-.3-1.5 .6-4.6 .2-5.3 .6-2.3 1.4-1.5zM25.6 40.6l1.0-.4 1.4 .1 1.1 1.0 .5 1.5 1.1 19.0-.2 2.3-.8 2.3-.9 .9-3.5 2.1-.8 1.5-.1 2.3 .6 5.3-30.3 .0 .0-30.1 19.1 .0 2.2-1.0 3.5-3.8 6.1-3.0zM101.9 46.6l3.5-.5 2.1 .3 1.5 .6 1.2 1.2 .3 .7-.5 2.3-1.3 1.5-1.9 1.0-2.1 .2-2.1-.6-1.9-1.4-1.1-2.2 .3-1.5 .6-.8 1.4-.8z"/>
<path fill="#f5f3ec" d="M24.1 23.9l1.8 .1 1.6 .6 .8 1.6-.1 1.5-1.4 2.3-4.4 3.6-1.5 .7-4.9 .7-21.3 .0 .0-10.5 17.7 .0 5.7 .2 6.0-.8zM70.2 24.6l1.9 .1 1.0 .7 1.0 1.5 .5 2.3 .2 5.3-.3 3.8-1.0 2.2-1.4 .5-2.2-.3-1.6-.9-1.2-1.5-.3-1.5 1.0-9.6 1.0-1.8 1.4-.8zM23.0 42.8l2.9-.4 .9 .4 .9 1.6 .4 2.2 .3 6.1 .9 8.3-.2 2.3-.5 1.5-1.3 1.5-2.8 1.9-1.2 1.9-.2 2.3 .4 6.1-28.8 .0 .0-29.3 17.0 .1 2.9-.2 2.1-1.1 3.0-3.6 3.3-1.6zM103.0 48.2l2.4-.5 2.1 .7 .8 .9 .2 1.1-.7 1.5-1.0 .8-1.4 .3-1.4-.1-1.4-.8-.7-.9-.2-1.5 .4-.8 .9-.7z"/>
<path fill="#f5efde" d="M21.1 26.2l2.7-.6 1.4 .2 .7 .4 .3 1.5-1.0 1.5-3.2 3.0-2.5 1.3-2.8 .4-22.0-.1 .0-7.3 17.7-.1 5.7 .3 3.0-.5zM69.9 26.9l.7-.3 1.5 .3 .9 1.5 .5 2.3 .2 4.6-.3 2.2-.6 1.6-1.5 .7-2.1-.7-.7-.9-.4-1.4 .7-7.6 .4-1.4 .7-.9zM21.9 44.4l1.9-.4 1.4 .2 1.1 1.7 .4 6.8 1.4 8.3-.1 1.6-.7 1.8-4.2 3.3-.9 1.7-.3 3.0 .2 6.1-27.4 .0 .0-28.4 20.6-.2 2.1-.9 2.1-3.1 2.4-1.5zM104.0 50.4l.7-.5 .7 .0 .8 .5-.8 .9-1.0-.1-.4-.8z"/>
<path fill="#f6e9c7" d="M70.5 30.7l.1-.4 .7-.1 .7 4.3-.3 2.3-.4 .5-.7 .1-.6-.6-.2-.8 .7-5.3zM-5.3 51.9l.0-.7 19.9 .1 2.3 .6 1.3 2.3 1.3 1.0 1.4-.1 2.2-.8 1.4 .2 1.3 2.0 .7 2.3 .3 2.2-.1 1.6-1.0 1.5-3.3 1.8-1.2 1.2-.6 3.8 .0 7.6-25.9 .0 .0-26.6z"/>
<path fill="#e2c787" d="M-5.3 61.0l12.0 .1 5.0-.4 2.1 .2 1.5 .8 .7 .9 .6 1.5-.1 2.3-.5 .7-1.4 .2-19.9 .1 .0-6.4z"/>
<use href="#strip" stroke="#f1e3c0"/>
<g transform="translate(-428.1,-372.4)"><path d="M430.76 375.50H560.83M428.81 379.40H562.78M430.76 383.30H560.83M428.81 387.20H562.78M430.76 391.10H560.83M428.81 395.00H562.78M430.76 398.90H560.83M428.81 402.80H562.78M430.76 406.70H560.83M428.81 410.60H562.78M430.76 414.50H560.83M428.81 418.40H562.78M430.76 422.30H474.92M489.34 422.30H560.83M428.81 426.20H472.97M491.29 426.20H562.78M430.76 430.10H471.01M493.24 430.10H560.83M428.81 434.00H562.78M430.76 437.90H560.83M428.81 441.80H562.78" stroke="#262626" stroke-width="0.95" fill="none" stroke-dasharray="1.2 2.672"/></g>
<use href="#coast"/>
</g>
<rect x="0" y="0" width="136.3" height="72.8" fill="none" stroke="#262626" stroke-width="0.85"/>
</g>
<text x="87.6" y="18.1" text-anchor="middle" font-size="8.6" stroke="#000" stroke-width="0.12" textLength="56.0" lengthAdjust="spacingAndGlyphs">El Niño PDO +</text>
<text x="223.8" y="18.1" text-anchor="middle" font-size="8.6" stroke="#000" stroke-width="0.12" textLength="52.3" lengthAdjust="spacingAndGlyphs">El Niño PDO -</text>
<text x="360.2" y="18.1" text-anchor="middle" font-size="8.6" stroke="#000" stroke-width="0.12" textLength="56.0" lengthAdjust="spacingAndGlyphs">El Niño PDO +</text>
<text x="496.4" y="18.1" text-anchor="middle" font-size="8.6" stroke="#000" stroke-width="0.12" textLength="52.3" lengthAdjust="spacingAndGlyphs">El Niño PDO -</text>
<text transform="translate(8.9,55.0) rotate(-90)" text-anchor="middle" font-size="6.5" font-weight="bold" textLength="29.5" lengthAdjust="spacingAndGlyphs">CESM-LE</text>
<text transform="translate(8.9,142.4) rotate(-90)" text-anchor="middle" font-size="6.5" font-weight="bold" textLength="23.5" lengthAdjust="spacingAndGlyphs">MPI-GE</text>
<text transform="translate(8.9,230.0) rotate(-90)" text-anchor="middle" font-size="6.5" font-weight="bold" textLength="34" lengthAdjust="spacingAndGlyphs">GFDL-CM3</text>
<text transform="translate(8.9,317.7) rotate(-90)" text-anchor="middle" font-size="6.5" font-weight="bold" textLength="44.5" lengthAdjust="spacingAndGlyphs">GFDL-ESM2M</text>
<text transform="translate(8.9,405.2) rotate(-90)" text-anchor="middle" font-size="6.5" font-weight="bold" textLength="57.5" lengthAdjust="spacingAndGlyphs">GFDL-SPEAR-MED</text>
<path d="M46.2 468.5L37.1 471.35L46.2 474.2Z" fill="#053061"/>
<path d="M238.8 468.5L249.0 471.35L238.8 474.2Z" fill="#67001f"/>
<rect x="46.20" y="468.5" width="21.70" height="5.70" fill="#144e8a"/>
<rect x="67.60" y="468.5" width="21.70" height="5.70" fill="#3783bb"/>
<rect x="89.00" y="468.5" width="21.70" height="5.70" fill="#81bad8"/>
<rect x="110.40" y="468.5" width="21.70" height="5.70" fill="#cae1ee"/>
<rect x="131.80" y="468.5" width="21.70" height="5.70" fill="#f7f6f6"/>
<rect x="153.20" y="468.5" width="21.70" height="5.70" fill="#fcd5bf"/>
<rect x="174.60" y="468.5" width="21.70" height="5.70" fill="#ee9677"/>
<rect x="196.00" y="468.5" width="21.70" height="5.70" fill="#c94741"/>
<rect x="217.40" y="468.5" width="21.70" height="5.70" fill="#900d26"/>
<path d="M46.2 468.5L37.1 471.35L46.2 474.2L238.8 474.2L249.0 471.35L238.8 468.5Z" fill="none" stroke="#333" stroke-width="0.6"/>
<line x1="46.20" y1="474.2" x2="46.20" y2="476.0" stroke="#222" stroke-width="0.7"/>
<text x="46.20" y="483.6" text-anchor="middle" font-size="7.0" textLength="20.5" lengthAdjust="spacingAndGlyphs">−2.25</text>
<line x1="67.60" y1="474.2" x2="67.60" y2="476.0" stroke="#222" stroke-width="0.7"/>
<text x="67.60" y="483.6" text-anchor="middle" font-size="7.0" textLength="20.5" lengthAdjust="spacingAndGlyphs">−1.75</text>
<line x1="89.00" y1="474.2" x2="89.00" y2="476.0" stroke="#222" stroke-width="0.7"/>
<text x="89.00" y="483.6" text-anchor="middle" font-size="7.0" textLength="20.5" lengthAdjust="spacingAndGlyphs">−1.25</text>
<line x1="110.40" y1="474.2" x2="110.40" y2="476.0" stroke="#222" stroke-width="0.7"/>
<text x="110.40" y="483.6" text-anchor="middle" font-size="7.0" textLength="20.5" lengthAdjust="spacingAndGlyphs">−0.75</text>
<line x1="131.80" y1="474.2" x2="131.80" y2="476.0" stroke="#222" stroke-width="0.7"/>
<text x="131.80" y="483.6" text-anchor="middle" font-size="7.0" textLength="20.5" lengthAdjust="spacingAndGlyphs">−0.25</text>
<line x1="153.20" y1="474.2" x2="153.20" y2="476.0" stroke="#222" stroke-width="0.7"/>
<text x="153.20" y="483.6" text-anchor="middle" font-size="7.0" textLength="14.8" lengthAdjust="spacingAndGlyphs">0.25</text>
<line x1="174.60" y1="474.2" x2="174.60" y2="476.0" stroke="#222" stroke-width="0.7"/>
<text x="174.60" y="483.6" text-anchor="middle" font-size="7.0" textLength="14.8" lengthAdjust="spacingAndGlyphs">0.75</text>
<line x1="196.00" y1="474.2" x2="196.00" y2="476.0" stroke="#222" stroke-width="0.7"/>
<text x="196.00" y="483.6" text-anchor="middle" font-size="7.0" textLength="14.8" lengthAdjust="spacingAndGlyphs">1.25</text>
<line x1="217.40" y1="474.2" x2="217.40" y2="476.0" stroke="#222" stroke-width="0.7"/>
<text x="217.40" y="483.6" text-anchor="middle" font-size="7.0" textLength="14.8" lengthAdjust="spacingAndGlyphs">1.75</text>
<line x1="238.80" y1="474.2" x2="238.80" y2="476.0" stroke="#222" stroke-width="0.7"/>
<text x="238.80" y="483.6" text-anchor="middle" font-size="7.0" textLength="14.8" lengthAdjust="spacingAndGlyphs">2.25</text>
<text x="142.5" y="499.6" text-anchor="middle" font-size="7.1" textLength="91.6" lengthAdjust="spacingAndGlyphs">surface air temperature (°C)</text>
<path d="M328.2 468.5L318.0 471.35L328.2 474.2Z" fill="#543005"/>
<path d="M519.7 468.5L529.6 471.35L519.7 474.2Z" fill="#003c30"/>
<rect x="328.20" y="468.5" width="15.03" height="5.70" fill="#995d13"/>
<rect x="342.93" y="468.5" width="15.03" height="5.70" fill="#e2c787"/>
<rect x="357.66" y="468.5" width="15.03" height="5.70" fill="#f6e9c7"/>
<rect x="372.39" y="468.5" width="15.03" height="5.70" fill="#f5efde"/>
<rect x="387.12" y="468.5" width="15.03" height="5.70" fill="#f5f3ec"/>
<rect x="401.85" y="468.5" width="15.03" height="5.70" fill="#f5f4f0"/>
<rect x="416.58" y="468.5" width="15.03" height="5.70" fill="#f4f5f5"/>
<rect x="431.32" y="468.5" width="15.03" height="5.70" fill="#f0f4f3"/>
<rect x="446.05" y="468.5" width="15.03" height="5.70" fill="#edf3f2"/>
<rect x="460.78" y="468.5" width="15.03" height="5.70" fill="#e0f0ee"/>
<rect x="475.51" y="468.5" width="15.03" height="5.70" fill="#c9eae6"/>
<rect x="490.24" y="468.5" width="15.03" height="5.70" fill="#87d0c5"/>
<rect x="504.97" y="468.5" width="15.03" height="5.70" fill="#0c7169"/>
<path d="M328.2 468.5L318.0 471.35L328.2 474.2L519.7 474.2L529.6 471.35L519.7 468.5Z" fill="none" stroke="#333" stroke-width="0.6"/>
<line x1="328.20" y1="474.2" x2="328.20" y2="476.0" stroke="#222" stroke-width="0.7"/>
<text x="328.20" y="483.6" text-anchor="middle" font-size="7.0" textLength="6.3" lengthAdjust="spacingAndGlyphs">-2</text>
<line x1="342.93" y1="474.2" x2="342.93" y2="476.0" stroke="#222" stroke-width="0.7"/>
<text x="342.93" y="483.6" text-anchor="middle" font-size="7.0" textLength="6.3" lengthAdjust="spacingAndGlyphs">-1</text>
<line x1="357.66" y1="474.2" x2="357.66" y2="476.0" stroke="#222" stroke-width="0.7"/>
<text x="357.66" y="483.6" text-anchor="middle" font-size="7.0" textLength="12.9" lengthAdjust="spacingAndGlyphs">-0.5</text>
<line x1="372.39" y1="474.2" x2="372.39" y2="476.0" stroke="#222" stroke-width="0.7"/>
<text x="372.39" y="483.6" text-anchor="middle" font-size="7.0" textLength="17.3" lengthAdjust="spacingAndGlyphs">-0.25</text>
<line x1="387.12" y1="474.2" x2="387.12" y2="476.0" stroke="#222" stroke-width="0.7"/>
<text x="387.12" y="483.6" text-anchor="middle" font-size="7.0" textLength="12.9" lengthAdjust="spacingAndGlyphs">-0.1</text>
<line x1="401.85" y1="474.2" x2="401.85" y2="476.0" stroke="#222" stroke-width="0.7"/>
<text x="401.85" y="483.6" text-anchor="middle" font-size="7.0" textLength="17.3" lengthAdjust="spacingAndGlyphs">-0.05</text>
<line x1="446.05" y1="474.2" x2="446.05" y2="476.0" stroke="#222" stroke-width="0.7"/>
<text x="446.05" y="483.6" text-anchor="middle" font-size="7.0" textLength="14.8" lengthAdjust="spacingAndGlyphs">0.05</text>
<line x1="460.78" y1="474.2" x2="460.78" y2="476.0" stroke="#222" stroke-width="0.7"/>
<text x="460.78" y="483.6" text-anchor="middle" font-size="7.0" textLength="10.4" lengthAdjust="spacingAndGlyphs">0.1</text>
<line x1="475.51" y1="474.2" x2="475.51" y2="476.0" stroke="#222" stroke-width="0.7"/>
<text x="475.51" y="483.6" text-anchor="middle" font-size="7.0" textLength="14.8" lengthAdjust="spacingAndGlyphs">0.25</text>
<line x1="490.24" y1="474.2" x2="490.24" y2="476.0" stroke="#222" stroke-width="0.7"/>
<text x="490.24" y="483.6" text-anchor="middle" font-size="7.0" textLength="10.4" lengthAdjust="spacingAndGlyphs">0.5</text>
<line x1="504.97" y1="474.2" x2="504.97" y2="476.0" stroke="#222" stroke-width="0.7"/>
<text x="504.97" y="483.6" text-anchor="middle" font-size="7.0" textLength="3.8" lengthAdjust="spacingAndGlyphs">1</text>
<line x1="519.70" y1="474.2" x2="519.70" y2="476.0" stroke="#222" stroke-width="0.7"/>
<text x="519.70" y="483.6" text-anchor="middle" font-size="7.0" textLength="3.8" lengthAdjust="spacingAndGlyphs">2</text>
<line x1="423.95" y1="474.2" x2="423.95" y2="476.0" stroke="#222" stroke-width="0.7"/>
<text x="423.95" y="483.6" text-anchor="middle" font-size="7.0" textLength="3.8" lengthAdjust="spacingAndGlyphs">0</text>
<text x="424.0" y="499.6" text-anchor="middle" font-size="7.1" textLength="74.8" lengthAdjust="spacingAndGlyphs">precipitation (mm/day)</text>
</svg>
</body></html>
